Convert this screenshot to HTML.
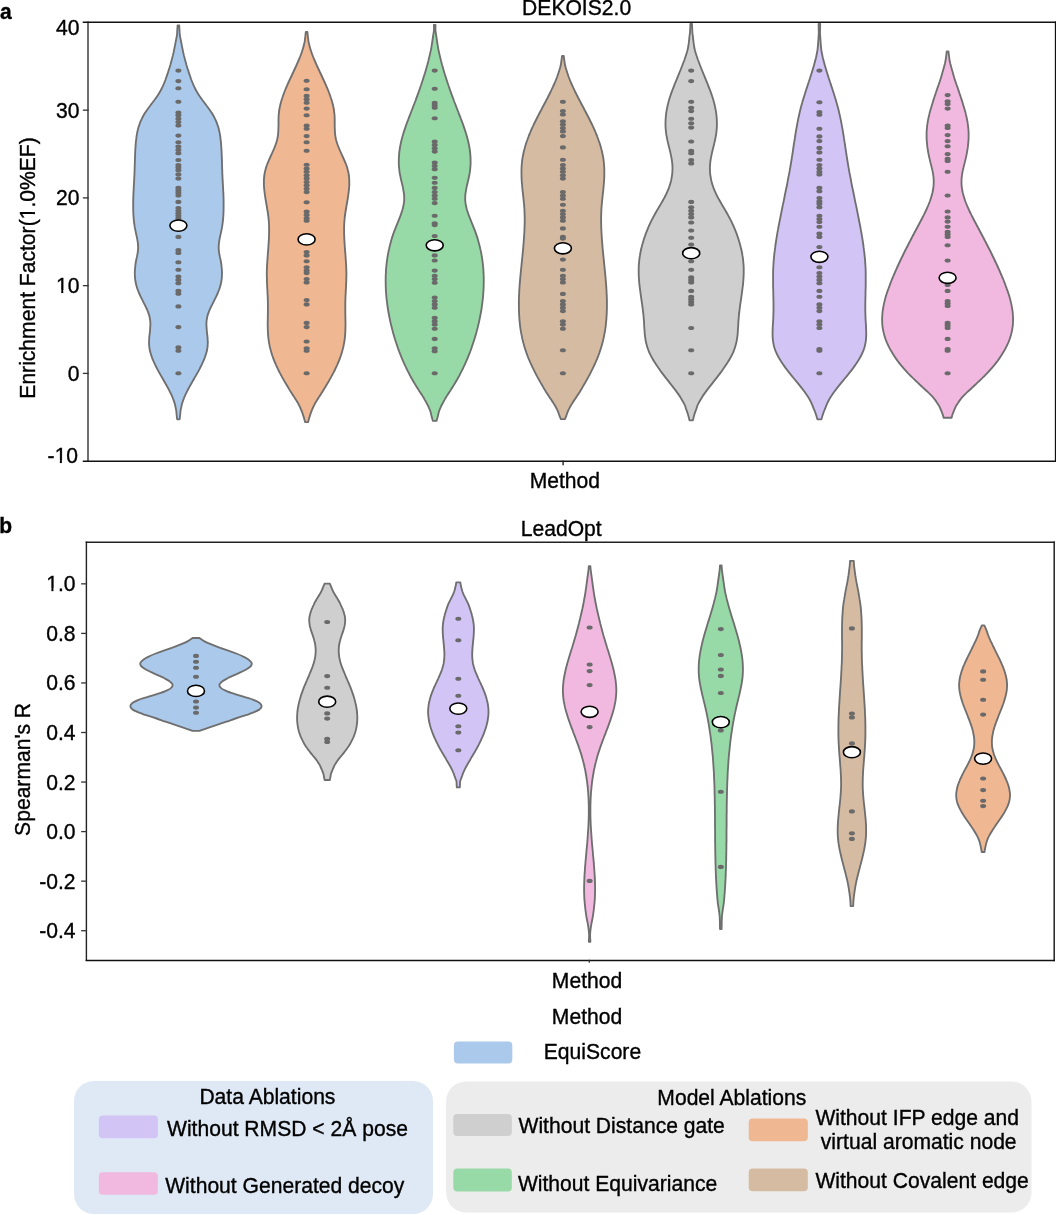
<!DOCTYPE html><html><head><meta charset="utf-8"><style>html,body{margin:0;padding:0;background:#fff;}body{width:1056px;height:1215px;overflow:hidden;}svg{display:block;}text{font-family:"Liberation Sans",sans-serif;fill:#000;stroke:#000;stroke-width:0.35px;}svg{will-change:transform;filter:blur(0.3px);}</style></head><body>
<svg width="1056" height="1215" viewBox="0 0 1056 1215">
<path d="M179.20,25.30 C179.2,25.8 179.3,27.3 179.4,28.3 C179.4,29.3 179.5,30.3 179.6,31.3 C179.6,32.3 179.6,33.3 179.7,34.3 C179.9,35.3 180.0,36.3 180.2,37.3 C180.4,38.3 180.6,39.3 180.8,40.3 C181.0,41.3 181.2,42.3 181.4,43.4 C181.6,44.4 181.8,45.4 182.0,46.4 C182.2,47.4 182.4,48.4 182.6,49.4 C182.8,50.4 183.0,51.4 183.2,52.4 C183.5,53.4 183.7,54.4 183.9,55.4 C184.2,56.4 184.4,57.4 184.7,58.4 C185.0,59.4 185.2,60.4 185.5,61.4 C185.8,62.4 186.1,63.4 186.3,64.4 C186.6,65.4 186.9,66.4 187.2,67.4 C187.5,68.4 187.8,69.4 188.2,70.4 C188.5,71.4 188.8,72.4 189.1,73.4 C189.5,74.4 189.8,75.4 190.2,76.4 C190.5,77.4 190.9,78.4 191.2,79.5 C191.6,80.5 192.0,81.5 192.4,82.5 C192.8,83.5 193.2,84.5 193.7,85.5 C194.1,86.5 194.6,87.5 195.1,88.5 C195.6,89.5 196.1,90.5 196.7,91.5 C197.3,92.5 197.9,93.5 198.5,94.5 C199.1,95.5 199.8,96.5 200.5,97.5 C201.2,98.5 202.0,99.5 202.7,100.5 C203.4,101.5 204.2,102.5 205.0,103.5 C205.7,104.5 206.5,105.5 207.2,106.5 C208.0,107.5 208.7,108.5 209.4,109.5 C210.1,110.5 210.8,111.5 211.5,112.5 C212.1,113.5 212.8,114.5 213.3,115.6 C213.9,116.6 214.4,117.6 214.9,118.6 C215.4,119.6 215.9,120.6 216.3,121.6 C216.7,122.6 217.1,123.6 217.4,124.6 C217.8,125.6 218.1,126.6 218.4,127.6 C218.7,128.6 218.9,129.6 219.1,130.6 C219.4,131.6 219.6,132.6 219.8,133.6 C219.9,134.6 220.1,135.6 220.3,136.6 C220.4,137.6 220.5,138.6 220.6,139.6 C220.8,140.6 220.9,141.6 221.0,142.6 C221.0,143.6 221.1,144.6 221.2,145.6 C221.3,146.6 221.3,147.6 221.4,148.6 C221.5,149.6 221.5,150.6 221.6,151.7 C221.6,152.7 221.7,153.7 221.7,154.7 C221.7,155.7 221.8,156.7 221.8,157.7 C221.9,158.7 221.9,159.7 221.9,160.7 C222.0,161.7 222.0,162.7 222.0,163.7 C222.0,164.7 222.1,165.7 222.1,166.7 C222.1,167.7 222.2,168.7 222.2,169.7 C222.2,170.7 222.3,171.7 222.3,172.7 C222.3,173.7 222.4,174.7 222.4,175.7 C222.5,176.7 222.5,177.7 222.6,178.7 C222.6,179.7 222.7,180.7 222.7,181.7 C222.8,182.7 222.8,183.7 222.9,184.7 C223.0,185.7 223.0,186.8 223.1,187.8 C223.1,188.8 223.2,189.8 223.2,190.8 C223.3,191.8 223.3,192.8 223.4,193.8 C223.4,194.8 223.4,195.8 223.5,196.8 C223.5,197.8 223.5,198.8 223.6,199.8 C223.6,200.8 223.6,201.8 223.6,202.8 C223.6,203.8 223.6,204.8 223.6,205.8 C223.6,206.8 223.6,207.8 223.6,208.8 C223.6,209.8 223.6,210.8 223.5,211.8 C223.5,212.8 223.4,213.8 223.4,214.8 C223.3,215.8 223.3,216.8 223.2,217.8 C223.1,218.8 223.0,219.8 222.9,220.8 C222.8,221.8 222.7,222.9 222.5,223.9 C222.4,224.9 222.2,225.9 222.1,226.9 C221.9,227.9 221.7,228.9 221.5,229.9 C221.3,230.9 221.1,231.9 220.9,232.9 C220.7,233.9 220.5,234.9 220.2,235.9 C220.0,236.9 219.8,237.9 219.6,238.9 C219.4,239.9 219.3,240.9 219.1,241.9 C219.0,242.9 218.8,243.9 218.8,244.9 C218.7,245.9 218.6,246.9 218.7,247.9 C218.7,248.9 218.7,249.9 218.9,250.9 C219.0,251.9 219.1,252.9 219.3,253.9 C219.5,254.9 219.7,255.9 219.9,256.9 C220.2,257.9 220.4,259.0 220.6,260.0 C220.8,261.0 221.0,262.0 221.1,263.0 C221.3,264.0 221.4,265.0 221.5,266.0 C221.6,267.0 221.7,268.0 221.8,269.0 C221.9,270.0 221.9,271.0 222.0,272.0 C222.0,273.0 222.0,274.0 221.9,275.0 C221.9,276.0 221.9,277.0 221.8,278.0 C221.7,279.0 221.5,280.0 221.4,281.0 C221.2,282.0 221.0,283.0 220.8,284.0 C220.6,285.0 220.3,286.0 220.0,287.0 C219.7,288.0 219.4,289.0 219.0,290.0 C218.6,291.0 218.2,292.0 217.8,293.0 C217.3,294.1 216.9,295.1 216.4,296.1 C215.9,297.1 215.4,298.1 214.9,299.1 C214.4,300.1 213.9,301.1 213.4,302.1 C212.9,303.1 212.4,304.1 211.9,305.1 C211.4,306.1 210.9,307.1 210.4,308.1 C210.0,309.1 209.5,310.1 209.1,311.1 C208.7,312.1 208.4,313.1 208.0,314.1 C207.7,315.1 207.4,316.1 207.2,317.1 C207.0,318.1 206.8,319.1 206.7,320.1 C206.5,321.1 206.5,322.1 206.4,323.1 C206.4,324.1 206.4,325.1 206.5,326.1 C206.5,327.1 206.6,328.1 206.7,329.1 C206.7,330.2 206.8,331.2 206.9,332.2 C207.0,333.2 207.2,334.2 207.3,335.2 C207.4,336.2 207.5,337.2 207.6,338.2 C207.6,339.2 207.7,340.2 207.7,341.2 C207.8,342.2 207.8,343.2 207.7,344.2 C207.7,345.2 207.6,346.2 207.5,347.2 C207.3,348.2 207.2,349.2 207.0,350.2 C206.8,351.2 206.5,352.2 206.2,353.2 C205.9,354.2 205.6,355.2 205.3,356.2 C204.9,357.2 204.6,358.2 204.2,359.2 C203.8,360.2 203.3,361.2 202.9,362.2 C202.4,363.2 201.9,364.2 201.5,365.2 C201.0,366.3 200.5,367.3 199.9,368.3 C199.4,369.3 198.9,370.3 198.3,371.3 C197.8,372.3 197.2,373.3 196.6,374.3 C196.1,375.3 195.5,376.3 194.9,377.3 C194.3,378.3 193.8,379.3 193.2,380.3 C192.6,381.3 192.0,382.3 191.5,383.3 C190.9,384.3 190.3,385.3 189.8,386.3 C189.2,387.3 188.7,388.3 188.1,389.3 C187.6,390.3 187.1,391.3 186.6,392.3 C186.1,393.3 185.6,394.3 185.1,395.3 C184.7,396.3 184.2,397.3 183.9,398.3 C183.5,399.3 183.1,400.3 182.8,401.3 C182.5,402.4 182.1,403.4 181.8,404.4 C181.6,405.4 181.5,406.4 181.2,407.4 C181.0,408.4 180.8,409.4 180.6,410.4 C180.4,411.4 180.4,412.4 180.3,413.4 C180.2,414.4 180.1,415.4 180.0,416.4 C179.9,417.4 179.7,418.9 179.6,419.4 L177.20,419.40 C177.1,418.9 176.9,417.4 176.8,416.4 C176.7,415.4 176.6,414.4 176.5,413.4 C176.4,412.4 176.4,411.4 176.2,410.4 C176.0,409.4 175.8,408.4 175.6,407.4 C175.3,406.4 175.2,405.4 175.0,404.4 C174.7,403.4 174.3,402.4 174.0,401.3 C173.7,400.3 173.3,399.3 172.9,398.3 C172.6,397.3 172.1,396.3 171.7,395.3 C171.2,394.3 170.7,393.3 170.2,392.3 C169.7,391.3 169.2,390.3 168.7,389.3 C168.1,388.3 167.6,387.3 167.0,386.3 C166.5,385.3 165.9,384.3 165.3,383.3 C164.8,382.3 164.2,381.3 163.6,380.3 C163.0,379.3 162.5,378.3 161.9,377.3 C161.3,376.3 160.7,375.3 160.2,374.3 C159.6,373.3 159.0,372.3 158.5,371.3 C157.9,370.3 157.4,369.3 156.9,368.3 C156.3,367.3 155.8,366.3 155.3,365.2 C154.9,364.2 154.4,363.2 153.9,362.2 C153.5,361.2 153.0,360.2 152.6,359.2 C152.2,358.2 151.9,357.2 151.5,356.2 C151.2,355.2 150.9,354.2 150.6,353.2 C150.3,352.2 150.0,351.2 149.8,350.2 C149.6,349.2 149.5,348.2 149.3,347.2 C149.2,346.2 149.1,345.2 149.1,344.2 C149.0,343.2 149.0,342.2 149.1,341.2 C149.1,340.2 149.2,339.2 149.2,338.2 C149.3,337.2 149.4,336.2 149.5,335.2 C149.6,334.2 149.8,333.2 149.9,332.2 C150.0,331.2 150.1,330.2 150.1,329.1 C150.2,328.1 150.3,327.1 150.3,326.1 C150.4,325.1 150.4,324.1 150.4,323.1 C150.3,322.1 150.3,321.1 150.1,320.1 C150.0,319.1 149.8,318.1 149.6,317.1 C149.4,316.1 149.1,315.1 148.8,314.1 C148.4,313.1 148.1,312.1 147.7,311.1 C147.3,310.1 146.8,309.1 146.4,308.1 C145.9,307.1 145.4,306.1 144.9,305.1 C144.4,304.1 143.9,303.1 143.4,302.1 C142.9,301.1 142.4,300.1 141.9,299.1 C141.4,298.1 140.9,297.1 140.4,296.1 C139.9,295.1 139.5,294.1 139.0,293.0 C138.6,292.0 138.2,291.0 137.8,290.0 C137.4,289.0 137.1,288.0 136.8,287.0 C136.5,286.0 136.2,285.0 136.0,284.0 C135.8,283.0 135.6,282.0 135.4,281.0 C135.3,280.0 135.1,279.0 135.0,278.0 C134.9,277.0 134.9,276.0 134.9,275.0 C134.8,274.0 134.8,273.0 134.8,272.0 C134.9,271.0 134.9,270.0 135.0,269.0 C135.1,268.0 135.2,267.0 135.3,266.0 C135.4,265.0 135.5,264.0 135.7,263.0 C135.8,262.0 136.0,261.0 136.2,260.0 C136.4,259.0 136.6,257.9 136.9,256.9 C137.1,255.9 137.3,254.9 137.5,253.9 C137.7,252.9 137.8,251.9 137.9,250.9 C138.1,249.9 138.1,248.9 138.1,247.9 C138.2,246.9 138.1,245.9 138.0,244.9 C138.0,243.9 137.8,242.9 137.7,241.9 C137.5,240.9 137.4,239.9 137.2,238.9 C137.0,237.9 136.8,236.9 136.6,235.9 C136.3,234.9 136.1,233.9 135.9,232.9 C135.7,231.9 135.5,230.9 135.3,229.9 C135.1,228.9 134.9,227.9 134.7,226.9 C134.6,225.9 134.4,224.9 134.3,223.9 C134.1,222.9 134.0,221.8 133.9,220.8 C133.8,219.8 133.7,218.8 133.6,217.8 C133.5,216.8 133.5,215.8 133.4,214.8 C133.4,213.8 133.3,212.8 133.3,211.8 C133.2,210.8 133.2,209.8 133.2,208.8 C133.2,207.8 133.2,206.8 133.2,205.8 C133.2,204.8 133.2,203.8 133.2,202.8 C133.2,201.8 133.2,200.8 133.2,199.8 C133.3,198.8 133.3,197.8 133.3,196.8 C133.4,195.8 133.4,194.8 133.4,193.8 C133.5,192.8 133.5,191.8 133.6,190.8 C133.6,189.8 133.7,188.8 133.7,187.8 C133.8,186.8 133.8,185.7 133.9,184.7 C134.0,183.7 134.0,182.7 134.1,181.7 C134.1,180.7 134.2,179.7 134.2,178.7 C134.3,177.7 134.3,176.7 134.4,175.7 C134.4,174.7 134.5,173.7 134.5,172.7 C134.5,171.7 134.6,170.7 134.6,169.7 C134.6,168.7 134.7,167.7 134.7,166.7 C134.7,165.7 134.8,164.7 134.8,163.7 C134.8,162.7 134.8,161.7 134.9,160.7 C134.9,159.7 134.9,158.7 135.0,157.7 C135.0,156.7 135.1,155.7 135.1,154.7 C135.1,153.7 135.2,152.7 135.2,151.7 C135.3,150.6 135.3,149.6 135.4,148.6 C135.5,147.6 135.5,146.6 135.6,145.6 C135.7,144.6 135.8,143.6 135.8,142.6 C135.9,141.6 136.0,140.6 136.2,139.6 C136.3,138.6 136.4,137.6 136.5,136.6 C136.7,135.6 136.9,134.6 137.0,133.6 C137.2,132.6 137.4,131.6 137.7,130.6 C137.9,129.6 138.1,128.6 138.4,127.6 C138.7,126.6 139.0,125.6 139.4,124.6 C139.7,123.6 140.1,122.6 140.5,121.6 C140.9,120.6 141.4,119.6 141.9,118.6 C142.4,117.6 142.9,116.6 143.5,115.6 C144.0,114.5 144.7,113.5 145.3,112.5 C146.0,111.5 146.7,110.5 147.4,109.5 C148.1,108.5 148.8,107.5 149.6,106.5 C150.3,105.5 151.1,104.5 151.8,103.5 C152.6,102.5 153.4,101.5 154.1,100.5 C154.8,99.5 155.6,98.5 156.3,97.5 C157.0,96.5 157.7,95.5 158.3,94.5 C158.9,93.5 159.5,92.5 160.1,91.5 C160.7,90.5 161.2,89.5 161.7,88.5 C162.2,87.5 162.7,86.5 163.1,85.5 C163.6,84.5 164.0,83.5 164.4,82.5 C164.8,81.5 165.2,80.5 165.6,79.5 C165.9,78.4 166.3,77.4 166.6,76.4 C167.0,75.4 167.3,74.4 167.7,73.4 C168.0,72.4 168.3,71.4 168.6,70.4 C169.0,69.4 169.3,68.4 169.6,67.4 C169.9,66.4 170.2,65.4 170.5,64.4 C170.7,63.4 171.0,62.4 171.3,61.4 C171.6,60.4 171.8,59.4 172.1,58.4 C172.4,57.4 172.6,56.4 172.9,55.4 C173.1,54.4 173.3,53.4 173.6,52.4 C173.8,51.4 174.0,50.4 174.2,49.4 C174.4,48.4 174.6,47.4 174.8,46.4 C175.0,45.4 175.2,44.4 175.4,43.4 C175.6,42.3 175.8,41.3 176.0,40.3 C176.2,39.3 176.4,38.3 176.6,37.3 C176.8,36.3 176.9,35.3 177.1,34.3 C177.2,33.3 177.2,32.3 177.2,31.3 C177.3,30.3 177.4,29.3 177.4,28.3 C177.5,27.3 177.6,25.8 177.6,25.3 Z" fill="#abc9ea" stroke="#6f6f6f" stroke-width="1.85" stroke-linejoin="round"/>
<ellipse cx="178.4" cy="70.6" rx="3.0" ry="2.05" fill="#6a6a6a"/>
<ellipse cx="178.4" cy="81.1" rx="3.0" ry="2.05" fill="#6a6a6a"/>
<ellipse cx="178.4" cy="88.3" rx="3.0" ry="2.05" fill="#6a6a6a"/>
<ellipse cx="178.4" cy="101.8" rx="3.0" ry="2.05" fill="#6a6a6a"/>
<ellipse cx="178.4" cy="112.5" rx="3.0" ry="2.05" fill="#6a6a6a"/>
<ellipse cx="178.4" cy="115.3" rx="3.0" ry="2.05" fill="#6a6a6a"/>
<ellipse cx="178.4" cy="118.7" rx="3.0" ry="2.05" fill="#6a6a6a"/>
<ellipse cx="178.4" cy="122.1" rx="3.0" ry="2.05" fill="#6a6a6a"/>
<ellipse cx="178.4" cy="125.5" rx="3.0" ry="2.05" fill="#6a6a6a"/>
<ellipse cx="178.4" cy="135.6" rx="3.0" ry="2.05" fill="#6a6a6a"/>
<ellipse cx="178.4" cy="142.3" rx="3.0" ry="2.05" fill="#6a6a6a"/>
<ellipse cx="178.4" cy="146.5" rx="3.0" ry="2.05" fill="#6a6a6a"/>
<ellipse cx="178.4" cy="149.9" rx="3.0" ry="2.05" fill="#6a6a6a"/>
<ellipse cx="178.4" cy="153.3" rx="3.0" ry="2.05" fill="#6a6a6a"/>
<ellipse cx="178.4" cy="160.0" rx="3.0" ry="2.05" fill="#6a6a6a"/>
<ellipse cx="178.4" cy="165.1" rx="3.0" ry="2.05" fill="#6a6a6a"/>
<ellipse cx="178.4" cy="167.6" rx="3.0" ry="2.05" fill="#6a6a6a"/>
<ellipse cx="178.4" cy="170.2" rx="3.0" ry="2.05" fill="#6a6a6a"/>
<ellipse cx="178.4" cy="174.4" rx="3.0" ry="2.05" fill="#6a6a6a"/>
<ellipse cx="178.4" cy="178.6" rx="3.0" ry="2.05" fill="#6a6a6a"/>
<ellipse cx="178.4" cy="187.9" rx="3.0" ry="2.05" fill="#6a6a6a"/>
<ellipse cx="178.4" cy="190.4" rx="3.0" ry="2.05" fill="#6a6a6a"/>
<ellipse cx="178.4" cy="192.9" rx="3.0" ry="2.05" fill="#6a6a6a"/>
<ellipse cx="178.4" cy="195.5" rx="3.0" ry="2.05" fill="#6a6a6a"/>
<ellipse cx="178.4" cy="201.9" rx="3.0" ry="2.05" fill="#6a6a6a"/>
<ellipse cx="178.4" cy="208.1" rx="3.0" ry="2.05" fill="#6a6a6a"/>
<ellipse cx="178.4" cy="210.7" rx="3.0" ry="2.05" fill="#6a6a6a"/>
<ellipse cx="178.4" cy="213.2" rx="3.0" ry="2.05" fill="#6a6a6a"/>
<ellipse cx="178.4" cy="215.7" rx="3.0" ry="2.05" fill="#6a6a6a"/>
<ellipse cx="178.4" cy="218.2" rx="3.0" ry="2.05" fill="#6a6a6a"/>
<ellipse cx="178.4" cy="221.0" rx="3.0" ry="2.05" fill="#6a6a6a"/>
<ellipse cx="178.4" cy="236.9" rx="3.0" ry="2.05" fill="#6a6a6a"/>
<ellipse cx="178.4" cy="250.0" rx="3.0" ry="2.05" fill="#6a6a6a"/>
<ellipse cx="178.4" cy="252.9" rx="3.0" ry="2.05" fill="#6a6a6a"/>
<ellipse cx="178.4" cy="262.2" rx="3.0" ry="2.05" fill="#6a6a6a"/>
<ellipse cx="178.4" cy="269.8" rx="3.0" ry="2.05" fill="#6a6a6a"/>
<ellipse cx="178.4" cy="276.5" rx="3.0" ry="2.05" fill="#6a6a6a"/>
<ellipse cx="178.4" cy="279.9" rx="3.0" ry="2.05" fill="#6a6a6a"/>
<ellipse cx="178.4" cy="283.3" rx="3.0" ry="2.05" fill="#6a6a6a"/>
<ellipse cx="178.4" cy="290.9" rx="3.0" ry="2.05" fill="#6a6a6a"/>
<ellipse cx="178.4" cy="293.7" rx="3.0" ry="2.05" fill="#6a6a6a"/>
<ellipse cx="178.4" cy="306.4" rx="3.0" ry="2.05" fill="#6a6a6a"/>
<ellipse cx="178.4" cy="327.1" rx="3.0" ry="2.05" fill="#6a6a6a"/>
<ellipse cx="178.4" cy="347.4" rx="3.0" ry="2.05" fill="#6a6a6a"/>
<ellipse cx="178.4" cy="350.8" rx="3.0" ry="2.05" fill="#6a6a6a"/>
<ellipse cx="178.4" cy="373.2" rx="3.0" ry="2.05" fill="#6a6a6a"/>
<ellipse cx="178.4" cy="225.6" rx="8.5" ry="5.6" fill="#fff" stroke="#000" stroke-width="1.6"/>
<path d="M307.40,32.00 C307.5,32.5 307.6,34.0 307.7,35.0 C307.8,36.0 307.9,37.0 308.1,38.0 C308.2,39.0 308.2,40.0 308.4,41.0 C308.5,42.0 308.8,43.0 309.1,44.0 C309.3,45.0 309.5,46.0 309.8,47.0 C310.1,48.0 310.4,49.0 310.7,50.0 C311.0,51.0 311.3,52.0 311.7,53.0 C312.0,54.0 312.4,55.0 312.8,56.0 C313.2,57.0 313.6,58.0 314.0,59.0 C314.5,60.0 314.9,61.0 315.3,62.0 C315.8,63.0 316.2,64.0 316.6,65.0 C317.1,66.0 317.6,67.0 318.0,68.0 C318.5,69.0 318.9,70.0 319.4,71.0 C319.9,72.0 320.3,73.0 320.8,74.0 C321.3,75.0 321.7,76.0 322.2,77.0 C322.7,78.0 323.1,79.0 323.6,80.0 C324.1,81.0 324.5,82.0 325.0,83.0 C325.4,84.0 325.9,85.0 326.3,86.0 C326.7,87.0 327.2,88.0 327.6,89.0 C328.0,90.0 328.4,91.0 328.8,92.0 C329.2,93.0 329.5,94.0 329.9,95.0 C330.3,96.0 330.6,97.0 330.9,98.0 C331.3,99.0 331.6,100.0 331.9,101.0 C332.2,102.0 332.4,103.0 332.7,104.0 C332.9,105.0 333.2,106.0 333.4,107.0 C333.6,108.0 333.8,109.0 333.9,110.0 C334.1,111.0 334.2,112.0 334.3,113.0 C334.4,114.0 334.5,115.0 334.6,116.0 C334.6,117.0 334.6,118.0 334.7,119.0 C334.7,120.0 334.7,121.0 334.7,122.0 C334.7,123.0 334.7,124.0 334.7,125.0 C334.7,126.0 334.7,127.0 334.8,128.0 C334.8,129.0 334.8,130.0 334.9,131.0 C334.9,132.0 335.0,133.0 335.1,134.0 C335.2,135.0 335.3,136.0 335.5,137.0 C335.7,138.0 335.9,139.0 336.1,140.0 C336.4,141.0 336.7,142.0 337.0,143.0 C337.3,144.0 337.7,145.0 338.1,146.0 C338.4,147.0 338.9,148.0 339.3,149.0 C339.7,150.0 340.1,151.0 340.6,152.0 C341.0,153.0 341.5,154.0 342.0,155.0 C342.4,156.0 342.9,157.0 343.3,158.0 C343.8,159.0 344.2,160.0 344.6,161.0 C345.1,162.0 345.5,163.0 345.9,164.0 C346.3,165.0 346.6,166.0 347.0,167.0 C347.3,168.0 347.6,169.0 347.8,170.0 C348.1,171.0 348.3,172.0 348.5,173.0 C348.7,174.0 348.8,175.0 348.9,176.0 C349.1,177.0 349.2,178.0 349.2,179.0 C349.3,180.0 349.3,181.0 349.3,182.0 C349.3,183.0 349.3,184.0 349.3,185.0 C349.2,186.0 349.2,187.0 349.1,188.0 C349.0,189.0 348.9,190.0 348.8,191.0 C348.7,192.0 348.6,193.0 348.4,194.0 C348.3,195.0 348.2,196.0 348.0,197.0 C347.8,198.0 347.7,199.0 347.5,200.0 C347.3,201.0 347.2,202.0 347.0,203.0 C346.8,204.0 346.6,205.0 346.5,206.0 C346.3,207.0 346.1,208.0 346.0,209.0 C345.8,210.0 345.6,211.0 345.5,212.0 C345.3,213.0 345.2,214.0 345.1,215.0 C344.9,216.0 344.8,217.0 344.7,218.0 C344.6,219.0 344.5,220.0 344.4,221.0 C344.3,222.0 344.3,223.0 344.2,224.0 C344.2,225.0 344.2,226.0 344.1,227.1 C344.1,228.1 344.1,229.1 344.1,230.1 C344.1,231.1 344.1,232.1 344.1,233.1 C344.1,234.1 344.2,235.1 344.2,236.1 C344.2,237.1 344.3,238.1 344.3,239.1 C344.4,240.1 344.4,241.1 344.5,242.1 C344.6,243.1 344.6,244.1 344.7,245.1 C344.8,246.1 344.8,247.1 344.9,248.1 C345.0,249.1 345.1,250.1 345.1,251.1 C345.2,252.1 345.3,253.1 345.4,254.1 C345.4,255.1 345.5,256.1 345.6,257.1 C345.7,258.1 345.7,259.1 345.8,260.1 C345.9,261.1 345.9,262.1 346.0,263.1 C346.1,264.1 346.1,265.1 346.2,266.1 C346.2,267.1 346.2,268.1 346.3,269.1 C346.3,270.1 346.3,271.1 346.4,272.1 C346.4,273.1 346.4,274.1 346.4,275.1 C346.4,276.1 346.4,277.1 346.3,278.1 C346.3,279.1 346.3,280.1 346.3,281.1 C346.2,282.1 346.2,283.1 346.1,284.1 C346.1,285.1 346.1,286.1 346.0,287.1 C346.0,288.1 345.9,289.1 345.8,290.1 C345.8,291.1 345.7,292.1 345.7,293.1 C345.6,294.1 345.6,295.1 345.5,296.1 C345.5,297.1 345.5,298.1 345.4,299.1 C345.4,300.1 345.4,301.1 345.3,302.1 C345.3,303.1 345.3,304.1 345.3,305.1 C345.3,306.1 345.3,307.1 345.3,308.1 C345.3,309.1 345.3,310.1 345.3,311.1 C345.3,312.1 345.3,313.1 345.3,314.1 C345.4,315.1 345.4,316.1 345.4,317.1 C345.4,318.1 345.4,319.1 345.4,320.1 C345.5,321.1 345.5,322.1 345.5,323.1 C345.5,324.1 345.5,325.1 345.5,326.1 C345.4,327.1 345.4,328.1 345.4,329.1 C345.4,330.1 345.3,331.1 345.3,332.1 C345.2,333.1 345.2,334.1 345.1,335.1 C345.0,336.1 344.9,337.1 344.8,338.1 C344.7,339.1 344.6,340.1 344.4,341.1 C344.3,342.1 344.1,343.1 343.9,344.1 C343.7,345.1 343.5,346.1 343.3,347.1 C343.1,348.1 342.8,349.1 342.5,350.1 C342.3,351.1 342.0,352.1 341.7,353.1 C341.4,354.1 341.0,355.1 340.7,356.1 C340.3,357.1 340.0,358.1 339.6,359.1 C339.2,360.1 338.8,361.1 338.4,362.1 C338.0,363.1 337.5,364.1 337.1,365.1 C336.6,366.1 336.2,367.1 335.7,368.1 C335.2,369.1 334.8,370.1 334.3,371.1 C333.8,372.1 333.2,373.1 332.7,374.1 C332.2,375.1 331.6,376.1 331.1,377.1 C330.6,378.1 330.0,379.1 329.4,380.1 C328.9,381.1 328.3,382.1 327.7,383.1 C327.1,384.1 326.5,385.1 325.9,386.1 C325.3,387.1 324.7,388.1 324.1,389.1 C323.5,390.1 322.9,391.1 322.2,392.1 C321.6,393.1 321.0,394.1 320.3,395.1 C319.7,396.1 319.0,397.1 318.4,398.1 C317.8,399.1 317.1,400.1 316.5,401.1 C315.9,402.1 315.3,403.1 314.7,404.1 C314.2,405.1 313.7,406.1 313.2,407.1 C312.8,408.1 312.3,409.1 311.9,410.1 C311.5,411.1 311.1,412.1 310.8,413.1 C310.5,414.1 310.2,415.1 309.8,416.1 C309.5,417.1 309.2,418.1 308.9,419.1 C308.7,420.1 308.2,421.6 308.1,422.1 L305.10,422.10 C305.0,421.6 304.5,420.1 304.3,419.1 C304.0,418.1 303.7,417.1 303.4,416.1 C303.0,415.1 302.7,414.1 302.4,413.1 C302.1,412.1 301.7,411.1 301.3,410.1 C300.9,409.1 300.4,408.1 300.0,407.1 C299.5,406.1 299.0,405.1 298.5,404.1 C297.9,403.1 297.3,402.1 296.7,401.1 C296.1,400.1 295.4,399.1 294.8,398.1 C294.2,397.1 293.5,396.1 292.9,395.1 C292.2,394.1 291.6,393.1 291.0,392.1 C290.3,391.1 289.7,390.1 289.1,389.1 C288.5,388.1 287.9,387.1 287.3,386.1 C286.7,385.1 286.1,384.1 285.5,383.1 C284.9,382.1 284.3,381.1 283.8,380.1 C283.2,379.1 282.6,378.1 282.1,377.1 C281.6,376.1 281.0,375.1 280.5,374.1 C280.0,373.1 279.4,372.1 278.9,371.1 C278.4,370.1 278.0,369.1 277.5,368.1 C277.0,367.1 276.6,366.1 276.1,365.1 C275.7,364.1 275.2,363.1 274.8,362.1 C274.4,361.1 274.0,360.1 273.6,359.1 C273.2,358.1 272.9,357.1 272.5,356.1 C272.2,355.1 271.8,354.1 271.5,353.1 C271.2,352.1 270.9,351.1 270.7,350.1 C270.4,349.1 270.1,348.1 269.9,347.1 C269.7,346.1 269.5,345.1 269.3,344.1 C269.1,343.1 268.9,342.1 268.8,341.1 C268.6,340.1 268.5,339.1 268.4,338.1 C268.3,337.1 268.2,336.1 268.1,335.1 C268.0,334.1 268.0,333.1 267.9,332.1 C267.9,331.1 267.8,330.1 267.8,329.1 C267.8,328.1 267.8,327.1 267.7,326.1 C267.7,325.1 267.7,324.1 267.7,323.1 C267.7,322.1 267.7,321.1 267.8,320.1 C267.8,319.1 267.8,318.1 267.8,317.1 C267.8,316.1 267.8,315.1 267.9,314.1 C267.9,313.1 267.9,312.1 267.9,311.1 C267.9,310.1 267.9,309.1 267.9,308.1 C267.9,307.1 267.9,306.1 267.9,305.1 C267.9,304.1 267.9,303.1 267.9,302.1 C267.8,301.1 267.8,300.1 267.8,299.1 C267.7,298.1 267.7,297.1 267.7,296.1 C267.6,295.1 267.6,294.1 267.5,293.1 C267.5,292.1 267.4,291.1 267.4,290.1 C267.3,289.1 267.2,288.1 267.2,287.1 C267.1,286.1 267.1,285.1 267.1,284.1 C267.0,283.1 267.0,282.1 266.9,281.1 C266.9,280.1 266.9,279.1 266.9,278.1 C266.8,277.1 266.8,276.1 266.8,275.1 C266.8,274.1 266.8,273.1 266.8,272.1 C266.9,271.1 266.9,270.1 266.9,269.1 C267.0,268.1 267.0,267.1 267.0,266.1 C267.1,265.1 267.1,264.1 267.2,263.1 C267.3,262.1 267.3,261.1 267.4,260.1 C267.5,259.1 267.5,258.1 267.6,257.1 C267.7,256.1 267.8,255.1 267.8,254.1 C267.9,253.1 268.0,252.1 268.1,251.1 C268.1,250.1 268.2,249.1 268.3,248.1 C268.4,247.1 268.4,246.1 268.5,245.1 C268.6,244.1 268.6,243.1 268.7,242.1 C268.8,241.1 268.8,240.1 268.9,239.1 C268.9,238.1 269.0,237.1 269.0,236.1 C269.0,235.1 269.1,234.1 269.1,233.1 C269.1,232.1 269.1,231.1 269.1,230.1 C269.1,229.1 269.1,228.1 269.1,227.1 C269.0,226.0 269.0,225.0 269.0,224.0 C268.9,223.0 268.9,222.0 268.8,221.0 C268.7,220.0 268.6,219.0 268.5,218.0 C268.4,217.0 268.3,216.0 268.1,215.0 C268.0,214.0 267.9,213.0 267.7,212.0 C267.6,211.0 267.4,210.0 267.2,209.0 C267.1,208.0 266.9,207.0 266.7,206.0 C266.6,205.0 266.4,204.0 266.2,203.0 C266.0,202.0 265.9,201.0 265.7,200.0 C265.5,199.0 265.4,198.0 265.2,197.0 C265.0,196.0 264.9,195.0 264.8,194.0 C264.6,193.0 264.5,192.0 264.4,191.0 C264.3,190.0 264.2,189.0 264.1,188.0 C264.0,187.0 264.0,186.0 263.9,185.0 C263.9,184.0 263.9,183.0 263.9,182.0 C263.9,181.0 263.9,180.0 264.0,179.0 C264.0,178.0 264.1,177.0 264.3,176.0 C264.4,175.0 264.5,174.0 264.7,173.0 C264.9,172.0 265.1,171.0 265.4,170.0 C265.6,169.0 265.9,168.0 266.2,167.0 C266.6,166.0 266.9,165.0 267.3,164.0 C267.7,163.0 268.1,162.0 268.6,161.0 C269.0,160.0 269.4,159.0 269.9,158.0 C270.3,157.0 270.8,156.0 271.2,155.0 C271.7,154.0 272.2,153.0 272.6,152.0 C273.1,151.0 273.5,150.0 273.9,149.0 C274.3,148.0 274.8,147.0 275.1,146.0 C275.5,145.0 275.9,144.0 276.2,143.0 C276.5,142.0 276.8,141.0 277.1,140.0 C277.3,139.0 277.5,138.0 277.7,137.0 C277.9,136.0 278.0,135.0 278.1,134.0 C278.2,133.0 278.3,132.0 278.3,131.0 C278.4,130.0 278.4,129.0 278.4,128.0 C278.5,127.0 278.5,126.0 278.5,125.0 C278.5,124.0 278.5,123.0 278.5,122.0 C278.5,121.0 278.5,120.0 278.5,119.0 C278.6,118.0 278.6,117.0 278.6,116.0 C278.7,115.0 278.8,114.0 278.9,113.0 C279.0,112.0 279.1,111.0 279.3,110.0 C279.4,109.0 279.6,108.0 279.8,107.0 C280.0,106.0 280.3,105.0 280.5,104.0 C280.8,103.0 281.0,102.0 281.3,101.0 C281.6,100.0 281.9,99.0 282.3,98.0 C282.6,97.0 282.9,96.0 283.3,95.0 C283.7,94.0 284.0,93.0 284.4,92.0 C284.8,91.0 285.2,90.0 285.6,89.0 C286.0,88.0 286.5,87.0 286.9,86.0 C287.3,85.0 287.8,84.0 288.2,83.0 C288.7,82.0 289.1,81.0 289.6,80.0 C290.1,79.0 290.5,78.0 291.0,77.0 C291.5,76.0 291.9,75.0 292.4,74.0 C292.9,73.0 293.3,72.0 293.8,71.0 C294.3,70.0 294.7,69.0 295.2,68.0 C295.6,67.0 296.1,66.0 296.6,65.0 C297.0,64.0 297.4,63.0 297.9,62.0 C298.3,61.0 298.7,60.0 299.2,59.0 C299.6,58.0 300.0,57.0 300.4,56.0 C300.8,55.0 301.2,54.0 301.5,53.0 C301.9,52.0 302.2,51.0 302.5,50.0 C302.8,49.0 303.1,48.0 303.4,47.0 C303.7,46.0 303.9,45.0 304.1,44.0 C304.4,43.0 304.7,42.0 304.8,41.0 C305.0,40.0 305.0,39.0 305.1,38.0 C305.3,37.0 305.4,36.0 305.5,35.0 C305.6,34.0 305.7,32.5 305.8,32.0 Z" fill="#efb792" stroke="#6f6f6f" stroke-width="1.85" stroke-linejoin="round"/>
<ellipse cx="306.6" cy="80.7" rx="3.0" ry="2.05" fill="#6a6a6a"/>
<ellipse cx="306.6" cy="89.2" rx="3.0" ry="2.05" fill="#6a6a6a"/>
<ellipse cx="306.6" cy="95.9" rx="3.0" ry="2.05" fill="#6a6a6a"/>
<ellipse cx="306.6" cy="99.3" rx="3.0" ry="2.05" fill="#6a6a6a"/>
<ellipse cx="306.6" cy="102.7" rx="3.0" ry="2.05" fill="#6a6a6a"/>
<ellipse cx="306.6" cy="108.6" rx="3.0" ry="2.05" fill="#6a6a6a"/>
<ellipse cx="306.6" cy="115.3" rx="3.0" ry="2.05" fill="#6a6a6a"/>
<ellipse cx="306.6" cy="125.5" rx="3.0" ry="2.05" fill="#6a6a6a"/>
<ellipse cx="306.6" cy="128.8" rx="3.0" ry="2.05" fill="#6a6a6a"/>
<ellipse cx="306.6" cy="136.1" rx="3.0" ry="2.05" fill="#6a6a6a"/>
<ellipse cx="306.6" cy="142.3" rx="3.0" ry="2.05" fill="#6a6a6a"/>
<ellipse cx="306.6" cy="150.8" rx="3.0" ry="2.05" fill="#6a6a6a"/>
<ellipse cx="306.6" cy="164.8" rx="3.0" ry="2.05" fill="#6a6a6a"/>
<ellipse cx="306.6" cy="168.5" rx="3.0" ry="2.05" fill="#6a6a6a"/>
<ellipse cx="306.6" cy="171.8" rx="3.0" ry="2.05" fill="#6a6a6a"/>
<ellipse cx="306.6" cy="175.2" rx="3.0" ry="2.05" fill="#6a6a6a"/>
<ellipse cx="306.6" cy="178.6" rx="3.0" ry="2.05" fill="#6a6a6a"/>
<ellipse cx="306.6" cy="182.0" rx="3.0" ry="2.05" fill="#6a6a6a"/>
<ellipse cx="306.6" cy="185.3" rx="3.0" ry="2.05" fill="#6a6a6a"/>
<ellipse cx="306.6" cy="188.7" rx="3.0" ry="2.05" fill="#6a6a6a"/>
<ellipse cx="306.6" cy="192.1" rx="3.0" ry="2.05" fill="#6a6a6a"/>
<ellipse cx="306.6" cy="202.2" rx="3.0" ry="2.05" fill="#6a6a6a"/>
<ellipse cx="306.6" cy="211.5" rx="3.0" ry="2.05" fill="#6a6a6a"/>
<ellipse cx="306.6" cy="214.9" rx="3.0" ry="2.05" fill="#6a6a6a"/>
<ellipse cx="306.6" cy="218.3" rx="3.0" ry="2.05" fill="#6a6a6a"/>
<ellipse cx="306.6" cy="220.8" rx="3.0" ry="2.05" fill="#6a6a6a"/>
<ellipse cx="306.6" cy="252.1" rx="3.0" ry="2.05" fill="#6a6a6a"/>
<ellipse cx="306.6" cy="255.4" rx="3.0" ry="2.05" fill="#6a6a6a"/>
<ellipse cx="306.6" cy="261.3" rx="3.0" ry="2.05" fill="#6a6a6a"/>
<ellipse cx="306.6" cy="267.2" rx="3.0" ry="2.05" fill="#6a6a6a"/>
<ellipse cx="306.6" cy="270.6" rx="3.0" ry="2.05" fill="#6a6a6a"/>
<ellipse cx="306.6" cy="273.1" rx="3.0" ry="2.05" fill="#6a6a6a"/>
<ellipse cx="306.6" cy="279.1" rx="3.0" ry="2.05" fill="#6a6a6a"/>
<ellipse cx="306.6" cy="282.4" rx="3.0" ry="2.05" fill="#6a6a6a"/>
<ellipse cx="306.6" cy="300.1" rx="3.0" ry="2.05" fill="#6a6a6a"/>
<ellipse cx="306.6" cy="304.4" rx="3.0" ry="2.05" fill="#6a6a6a"/>
<ellipse cx="306.6" cy="322.9" rx="3.0" ry="2.05" fill="#6a6a6a"/>
<ellipse cx="306.6" cy="327.1" rx="3.0" ry="2.05" fill="#6a6a6a"/>
<ellipse cx="306.6" cy="341.5" rx="3.0" ry="2.05" fill="#6a6a6a"/>
<ellipse cx="306.6" cy="348.2" rx="3.0" ry="2.05" fill="#6a6a6a"/>
<ellipse cx="306.6" cy="350.8" rx="3.0" ry="2.05" fill="#6a6a6a"/>
<ellipse cx="306.6" cy="373.2" rx="3.0" ry="2.05" fill="#6a6a6a"/>
<ellipse cx="306.6" cy="239.4" rx="8.5" ry="5.6" fill="#fff" stroke="#000" stroke-width="1.6"/>
<path d="M435.50,24.90 C435.5,25.4 435.4,26.9 435.4,27.9 C435.4,28.9 435.4,29.9 435.5,30.9 C435.6,32.0 435.8,33.0 436.0,34.0 C436.1,35.0 436.3,36.0 436.4,37.0 C436.6,38.0 436.7,39.0 436.9,40.0 C437.0,41.0 437.2,42.0 437.3,43.0 C437.5,44.0 437.6,45.0 437.8,46.1 C438.0,47.1 438.1,48.1 438.3,49.1 C438.5,50.1 438.7,51.1 439.0,52.1 C439.2,53.1 439.4,54.1 439.6,55.1 C439.9,56.1 440.1,57.1 440.4,58.1 C440.6,59.2 440.9,60.2 441.1,61.2 C441.4,62.2 441.7,63.2 441.9,64.2 C442.2,65.2 442.5,66.2 442.8,67.2 C443.0,68.2 443.3,69.2 443.6,70.2 C443.9,71.2 444.2,72.2 444.5,73.3 C444.8,74.3 445.1,75.3 445.5,76.3 C445.8,77.3 446.1,78.3 446.4,79.3 C446.7,80.3 447.1,81.3 447.4,82.3 C447.7,83.3 448.1,84.3 448.4,85.3 C448.8,86.4 449.1,87.4 449.5,88.4 C449.8,89.4 450.2,90.4 450.5,91.4 C450.9,92.4 451.2,93.4 451.6,94.4 C452.0,95.4 452.3,96.4 452.7,97.4 C453.1,98.4 453.5,99.4 453.8,100.5 C454.2,101.5 454.6,102.5 455.0,103.5 C455.4,104.5 455.8,105.5 456.2,106.5 C456.5,107.5 456.9,108.5 457.3,109.5 C457.7,110.5 458.1,111.5 458.5,112.5 C458.9,113.5 459.3,114.6 459.7,115.6 C460.1,116.6 460.5,117.6 460.8,118.6 C461.2,119.6 461.6,120.6 462.0,121.6 C462.3,122.6 462.7,123.6 463.1,124.6 C463.4,125.6 463.8,126.6 464.1,127.7 C464.5,128.7 464.8,129.7 465.1,130.7 C465.5,131.7 465.8,132.7 466.1,133.7 C466.4,134.7 466.7,135.7 467.0,136.7 C467.2,137.7 467.5,138.7 467.8,139.7 C468.0,140.7 468.3,141.8 468.5,142.8 C468.7,143.8 468.9,144.8 469.1,145.8 C469.3,146.8 469.5,147.8 469.6,148.8 C469.8,149.8 469.9,150.8 470.0,151.8 C470.2,152.8 470.3,153.8 470.3,154.9 C470.4,155.9 470.5,156.9 470.5,157.9 C470.6,158.9 470.6,159.9 470.6,160.9 C470.6,161.9 470.6,162.9 470.6,163.9 C470.5,164.9 470.5,165.9 470.4,166.9 C470.3,167.9 470.2,169.0 470.1,170.0 C470.0,171.0 469.9,172.0 469.7,173.0 C469.5,174.0 469.3,175.0 469.1,176.0 C468.9,177.0 468.7,178.0 468.5,179.0 C468.3,180.0 468.0,181.0 467.8,182.1 C467.5,183.1 467.3,184.1 467.1,185.1 C466.8,186.1 466.6,187.1 466.4,188.1 C466.2,189.1 466.0,190.1 465.9,191.1 C465.7,192.1 465.5,193.1 465.4,194.1 C465.3,195.1 465.2,196.2 465.2,197.2 C465.2,198.2 465.2,199.2 465.2,200.2 C465.3,201.2 465.4,202.2 465.5,203.2 C465.7,204.2 465.9,205.2 466.1,206.2 C466.3,207.2 466.5,208.2 466.8,209.3 C467.1,210.3 467.4,211.3 467.8,212.3 C468.1,213.3 468.4,214.3 468.8,215.3 C469.2,216.3 469.6,217.3 470.0,218.3 C470.4,219.3 470.8,220.3 471.2,221.3 C471.6,222.3 472.0,223.4 472.4,224.4 C472.8,225.4 473.2,226.4 473.6,227.4 C474.0,228.4 474.4,229.4 474.8,230.4 C475.2,231.4 475.6,232.4 475.9,233.4 C476.3,234.4 476.6,235.4 476.9,236.4 C477.3,237.5 477.6,238.5 477.9,239.5 C478.2,240.5 478.5,241.5 478.7,242.5 C479.0,243.5 479.3,244.5 479.5,245.5 C479.8,246.5 480.0,247.5 480.2,248.5 C480.5,249.5 480.7,250.6 480.9,251.6 C481.1,252.6 481.3,253.6 481.5,254.6 C481.6,255.6 481.8,256.6 482.0,257.6 C482.1,258.6 482.3,259.6 482.4,260.6 C482.6,261.6 482.7,262.6 482.8,263.6 C482.9,264.7 483.0,265.7 483.1,266.7 C483.2,267.7 483.3,268.7 483.4,269.7 C483.4,270.7 483.5,271.7 483.5,272.7 C483.6,273.7 483.6,274.7 483.7,275.7 C483.7,276.7 483.7,277.8 483.7,278.8 C483.8,279.8 483.8,280.8 483.7,281.8 C483.7,282.8 483.7,283.8 483.7,284.8 C483.7,285.8 483.6,286.8 483.6,287.8 C483.6,288.8 483.5,289.8 483.5,290.8 C483.4,291.9 483.3,292.9 483.2,293.9 C483.2,294.9 483.1,295.9 483.0,296.9 C482.9,297.9 482.8,298.9 482.7,299.9 C482.6,300.9 482.5,301.9 482.3,302.9 C482.2,303.9 482.1,305.0 481.9,306.0 C481.8,307.0 481.6,308.0 481.5,309.0 C481.3,310.0 481.2,311.0 481.0,312.0 C480.8,313.0 480.6,314.0 480.4,315.0 C480.2,316.0 480.1,317.0 479.8,318.0 C479.6,319.1 479.4,320.1 479.2,321.1 C479.0,322.1 478.8,323.1 478.5,324.1 C478.3,325.1 478.0,326.1 477.8,327.1 C477.5,328.1 477.3,329.1 477.0,330.1 C476.7,331.1 476.5,332.2 476.2,333.2 C475.9,334.2 475.6,335.2 475.3,336.2 C475.0,337.2 474.7,338.2 474.4,339.2 C474.1,340.2 473.8,341.2 473.4,342.2 C473.1,343.2 472.8,344.2 472.4,345.2 C472.1,346.3 471.7,347.3 471.4,348.3 C471.0,349.3 470.6,350.3 470.3,351.3 C469.9,352.3 469.5,353.3 469.1,354.3 C468.7,355.3 468.3,356.3 467.9,357.3 C467.5,358.3 467.1,359.3 466.6,360.4 C466.2,361.4 465.8,362.4 465.3,363.4 C464.9,364.4 464.4,365.4 463.9,366.4 C463.4,367.4 463.0,368.4 462.5,369.4 C462.0,370.4 461.5,371.4 460.9,372.4 C460.4,373.5 459.9,374.5 459.4,375.5 C458.8,376.5 458.3,377.5 457.7,378.5 C457.1,379.5 456.6,380.5 456.0,381.5 C455.4,382.5 454.8,383.5 454.2,384.5 C453.5,385.5 452.9,386.5 452.3,387.6 C451.7,388.6 451.0,389.6 450.4,390.6 C449.7,391.6 449.1,392.6 448.4,393.6 C447.8,394.6 447.1,395.6 446.5,396.6 C445.9,397.6 445.2,398.6 444.7,399.6 C444.1,400.7 443.5,401.7 443.0,402.7 C442.4,403.7 441.9,404.7 441.4,405.7 C441.0,406.7 440.5,407.7 440.1,408.7 C439.7,409.7 439.2,410.7 438.9,411.7 C438.6,412.7 438.4,413.7 438.2,414.8 C437.9,415.8 437.7,416.8 437.4,417.8 C437.1,418.8 436.7,420.3 436.5,420.8 L432.90,420.80 C432.7,420.3 432.3,418.8 432.0,417.8 C431.7,416.8 431.5,415.8 431.2,414.8 C431.0,413.7 430.8,412.7 430.5,411.7 C430.2,410.7 429.7,409.7 429.3,408.7 C428.9,407.7 428.4,406.7 428.0,405.7 C427.5,404.7 427.0,403.7 426.4,402.7 C425.9,401.7 425.3,400.7 424.7,399.6 C424.2,398.6 423.5,397.6 422.9,396.6 C422.3,395.6 421.6,394.6 421.0,393.6 C420.3,392.6 419.7,391.6 419.0,390.6 C418.4,389.6 417.7,388.6 417.1,387.6 C416.5,386.5 415.9,385.5 415.2,384.5 C414.6,383.5 414.0,382.5 413.4,381.5 C412.8,380.5 412.3,379.5 411.7,378.5 C411.1,377.5 410.6,376.5 410.0,375.5 C409.5,374.5 409.0,373.5 408.5,372.4 C407.9,371.4 407.4,370.4 406.9,369.4 C406.4,368.4 406.0,367.4 405.5,366.4 C405.0,365.4 404.5,364.4 404.1,363.4 C403.6,362.4 403.2,361.4 402.8,360.4 C402.3,359.3 401.9,358.3 401.5,357.3 C401.1,356.3 400.7,355.3 400.3,354.3 C399.9,353.3 399.5,352.3 399.1,351.3 C398.8,350.3 398.4,349.3 398.0,348.3 C397.7,347.3 397.3,346.3 397.0,345.2 C396.6,344.2 396.3,343.2 396.0,342.2 C395.6,341.2 395.3,340.2 395.0,339.2 C394.7,338.2 394.4,337.2 394.1,336.2 C393.8,335.2 393.5,334.2 393.2,333.2 C392.9,332.2 392.7,331.1 392.4,330.1 C392.1,329.1 391.9,328.1 391.6,327.1 C391.4,326.1 391.1,325.1 390.9,324.1 C390.6,323.1 390.4,322.1 390.2,321.1 C390.0,320.1 389.8,319.1 389.6,318.0 C389.3,317.0 389.2,316.0 389.0,315.0 C388.8,314.0 388.6,313.0 388.4,312.0 C388.2,311.0 388.1,310.0 387.9,309.0 C387.8,308.0 387.6,307.0 387.5,306.0 C387.3,305.0 387.2,303.9 387.1,302.9 C386.9,301.9 386.8,300.9 386.7,299.9 C386.6,298.9 386.5,297.9 386.4,296.9 C386.3,295.9 386.2,294.9 386.2,293.9 C386.1,292.9 386.0,291.9 385.9,290.8 C385.9,289.8 385.8,288.8 385.8,287.8 C385.8,286.8 385.7,285.8 385.7,284.8 C385.7,283.8 385.7,282.8 385.7,281.8 C385.6,280.8 385.6,279.8 385.7,278.8 C385.7,277.8 385.7,276.7 385.7,275.7 C385.8,274.7 385.8,273.7 385.9,272.7 C385.9,271.7 386.0,270.7 386.0,269.7 C386.1,268.7 386.2,267.7 386.3,266.7 C386.4,265.7 386.5,264.7 386.6,263.6 C386.7,262.6 386.8,261.6 387.0,260.6 C387.1,259.6 387.3,258.6 387.4,257.6 C387.6,256.6 387.8,255.6 387.9,254.6 C388.1,253.6 388.3,252.6 388.5,251.6 C388.7,250.6 388.9,249.5 389.2,248.5 C389.4,247.5 389.6,246.5 389.9,245.5 C390.1,244.5 390.4,243.5 390.7,242.5 C390.9,241.5 391.2,240.5 391.5,239.5 C391.8,238.5 392.1,237.5 392.5,236.4 C392.8,235.4 393.1,234.4 393.5,233.4 C393.8,232.4 394.2,231.4 394.6,230.4 C395.0,229.4 395.4,228.4 395.8,227.4 C396.2,226.4 396.6,225.4 397.0,224.4 C397.4,223.4 397.8,222.3 398.2,221.3 C398.6,220.3 399.0,219.3 399.4,218.3 C399.8,217.3 400.2,216.3 400.6,215.3 C401.0,214.3 401.3,213.3 401.6,212.3 C402.0,211.3 402.3,210.3 402.6,209.3 C402.9,208.2 403.1,207.2 403.3,206.2 C403.5,205.2 403.7,204.2 403.9,203.2 C404.0,202.2 404.1,201.2 404.2,200.2 C404.2,199.2 404.2,198.2 404.2,197.2 C404.2,196.2 404.1,195.1 404.0,194.1 C403.9,193.1 403.7,192.1 403.5,191.1 C403.4,190.1 403.2,189.1 403.0,188.1 C402.8,187.1 402.6,186.1 402.3,185.1 C402.1,184.1 401.9,183.1 401.6,182.1 C401.4,181.0 401.1,180.0 400.9,179.0 C400.7,178.0 400.5,177.0 400.3,176.0 C400.1,175.0 399.9,174.0 399.7,173.0 C399.5,172.0 399.4,171.0 399.3,170.0 C399.2,169.0 399.1,167.9 399.0,166.9 C398.9,165.9 398.9,164.9 398.8,163.9 C398.8,162.9 398.8,161.9 398.8,160.9 C398.8,159.9 398.8,158.9 398.9,157.9 C398.9,156.9 399.0,155.9 399.1,154.9 C399.1,153.8 399.2,152.8 399.4,151.8 C399.5,150.8 399.6,149.8 399.8,148.8 C399.9,147.8 400.1,146.8 400.3,145.8 C400.5,144.8 400.7,143.8 400.9,142.8 C401.1,141.8 401.4,140.7 401.6,139.7 C401.9,138.7 402.2,137.7 402.4,136.7 C402.7,135.7 403.0,134.7 403.3,133.7 C403.6,132.7 403.9,131.7 404.3,130.7 C404.6,129.7 404.9,128.7 405.3,127.7 C405.6,126.6 406.0,125.6 406.3,124.6 C406.7,123.6 407.1,122.6 407.4,121.6 C407.8,120.6 408.2,119.6 408.6,118.6 C408.9,117.6 409.3,116.6 409.7,115.6 C410.1,114.6 410.5,113.5 410.9,112.5 C411.3,111.5 411.7,110.5 412.1,109.5 C412.5,108.5 412.9,107.5 413.2,106.5 C413.6,105.5 414.0,104.5 414.4,103.5 C414.8,102.5 415.2,101.5 415.6,100.5 C415.9,99.4 416.3,98.4 416.7,97.4 C417.1,96.4 417.4,95.4 417.8,94.4 C418.2,93.4 418.5,92.4 418.9,91.4 C419.2,90.4 419.6,89.4 419.9,88.4 C420.3,87.4 420.6,86.4 421.0,85.3 C421.3,84.3 421.7,83.3 422.0,82.3 C422.3,81.3 422.7,80.3 423.0,79.3 C423.3,78.3 423.6,77.3 423.9,76.3 C424.3,75.3 424.6,74.3 424.9,73.3 C425.2,72.2 425.5,71.2 425.8,70.2 C426.1,69.2 426.4,68.2 426.6,67.2 C426.9,66.2 427.2,65.2 427.5,64.2 C427.7,63.2 428.0,62.2 428.3,61.2 C428.5,60.2 428.8,59.2 429.0,58.1 C429.3,57.1 429.5,56.1 429.8,55.1 C430.0,54.1 430.2,53.1 430.4,52.1 C430.7,51.1 430.9,50.1 431.1,49.1 C431.3,48.1 431.4,47.1 431.6,46.1 C431.8,45.0 431.9,44.0 432.1,43.0 C432.2,42.0 432.4,41.0 432.5,40.0 C432.7,39.0 432.8,38.0 433.0,37.0 C433.1,36.0 433.3,35.0 433.4,34.0 C433.6,33.0 433.8,32.0 433.9,30.9 C434.0,29.9 434.0,28.9 434.0,27.9 C434.0,26.9 433.9,25.4 433.9,24.9 Z" fill="#98daa7" stroke="#6f6f6f" stroke-width="1.85" stroke-linejoin="round"/>
<ellipse cx="434.7" cy="70.6" rx="3.0" ry="2.05" fill="#6a6a6a"/>
<ellipse cx="434.7" cy="88.8" rx="3.0" ry="2.05" fill="#6a6a6a"/>
<ellipse cx="434.7" cy="102.7" rx="3.0" ry="2.05" fill="#6a6a6a"/>
<ellipse cx="434.7" cy="105.2" rx="3.0" ry="2.05" fill="#6a6a6a"/>
<ellipse cx="434.7" cy="107.7" rx="3.0" ry="2.05" fill="#6a6a6a"/>
<ellipse cx="434.7" cy="118.2" rx="3.0" ry="2.05" fill="#6a6a6a"/>
<ellipse cx="434.7" cy="141.5" rx="3.0" ry="2.05" fill="#6a6a6a"/>
<ellipse cx="434.7" cy="144.9" rx="3.0" ry="2.05" fill="#6a6a6a"/>
<ellipse cx="434.7" cy="148.2" rx="3.0" ry="2.05" fill="#6a6a6a"/>
<ellipse cx="434.7" cy="151.6" rx="3.0" ry="2.05" fill="#6a6a6a"/>
<ellipse cx="434.7" cy="162.6" rx="3.0" ry="2.05" fill="#6a6a6a"/>
<ellipse cx="434.7" cy="165.9" rx="3.0" ry="2.05" fill="#6a6a6a"/>
<ellipse cx="434.7" cy="169.3" rx="3.0" ry="2.05" fill="#6a6a6a"/>
<ellipse cx="434.7" cy="177.8" rx="3.0" ry="2.05" fill="#6a6a6a"/>
<ellipse cx="434.7" cy="182.8" rx="3.0" ry="2.05" fill="#6a6a6a"/>
<ellipse cx="434.7" cy="187.9" rx="3.0" ry="2.05" fill="#6a6a6a"/>
<ellipse cx="434.7" cy="192.1" rx="3.0" ry="2.05" fill="#6a6a6a"/>
<ellipse cx="434.7" cy="195.5" rx="3.0" ry="2.05" fill="#6a6a6a"/>
<ellipse cx="434.7" cy="198.8" rx="3.0" ry="2.05" fill="#6a6a6a"/>
<ellipse cx="434.7" cy="203.1" rx="3.0" ry="2.05" fill="#6a6a6a"/>
<ellipse cx="434.7" cy="215.7" rx="3.0" ry="2.05" fill="#6a6a6a"/>
<ellipse cx="434.7" cy="223.3" rx="3.0" ry="2.05" fill="#6a6a6a"/>
<ellipse cx="434.7" cy="225.1" rx="3.0" ry="2.05" fill="#6a6a6a"/>
<ellipse cx="434.7" cy="236.0" rx="3.0" ry="2.05" fill="#6a6a6a"/>
<ellipse cx="434.7" cy="255.4" rx="3.0" ry="2.05" fill="#6a6a6a"/>
<ellipse cx="434.7" cy="260.5" rx="3.0" ry="2.05" fill="#6a6a6a"/>
<ellipse cx="434.7" cy="270.6" rx="3.0" ry="2.05" fill="#6a6a6a"/>
<ellipse cx="434.7" cy="275.7" rx="3.0" ry="2.05" fill="#6a6a6a"/>
<ellipse cx="434.7" cy="279.1" rx="3.0" ry="2.05" fill="#6a6a6a"/>
<ellipse cx="434.7" cy="282.8" rx="3.0" ry="2.05" fill="#6a6a6a"/>
<ellipse cx="434.7" cy="297.6" rx="3.0" ry="2.05" fill="#6a6a6a"/>
<ellipse cx="434.7" cy="301.0" rx="3.0" ry="2.05" fill="#6a6a6a"/>
<ellipse cx="434.7" cy="304.4" rx="3.0" ry="2.05" fill="#6a6a6a"/>
<ellipse cx="434.7" cy="307.7" rx="3.0" ry="2.05" fill="#6a6a6a"/>
<ellipse cx="434.7" cy="317.9" rx="3.0" ry="2.05" fill="#6a6a6a"/>
<ellipse cx="434.7" cy="321.2" rx="3.0" ry="2.05" fill="#6a6a6a"/>
<ellipse cx="434.7" cy="324.6" rx="3.0" ry="2.05" fill="#6a6a6a"/>
<ellipse cx="434.7" cy="328.8" rx="3.0" ry="2.05" fill="#6a6a6a"/>
<ellipse cx="434.7" cy="338.9" rx="3.0" ry="2.05" fill="#6a6a6a"/>
<ellipse cx="434.7" cy="348.2" rx="3.0" ry="2.05" fill="#6a6a6a"/>
<ellipse cx="434.7" cy="351.3" rx="3.0" ry="2.05" fill="#6a6a6a"/>
<ellipse cx="434.7" cy="373.2" rx="3.0" ry="2.05" fill="#6a6a6a"/>
<ellipse cx="434.7" cy="245.3" rx="8.5" ry="5.6" fill="#fff" stroke="#000" stroke-width="1.6"/>
<path d="M563.70,56.00 C563.8,56.5 564.0,58.0 564.1,59.0 C564.3,60.0 564.4,61.0 564.5,62.0 C564.7,63.0 564.8,64.0 565.0,65.0 C565.2,66.0 565.6,67.0 565.8,68.0 C566.1,69.0 566.4,70.0 566.7,71.0 C567.0,72.0 567.4,73.0 567.7,74.0 C568.0,75.0 568.4,76.0 568.7,77.0 C569.1,78.0 569.5,79.0 569.9,80.0 C570.3,81.0 570.7,82.0 571.1,83.0 C571.6,84.0 572.0,85.0 572.5,86.0 C572.9,87.0 573.4,88.0 573.9,89.0 C574.3,90.0 574.8,91.0 575.3,92.0 C575.8,93.0 576.3,94.0 576.8,95.0 C577.3,96.0 577.8,97.0 578.3,98.0 C578.9,99.0 579.4,100.0 579.9,101.0 C580.4,102.0 580.9,103.0 581.5,104.0 C582.0,105.0 582.5,106.0 583.1,107.0 C583.6,108.0 584.1,109.0 584.6,110.0 C585.2,111.0 585.7,112.0 586.2,113.0 C586.7,114.0 587.3,115.0 587.8,116.0 C588.3,117.0 588.8,118.0 589.3,119.0 C589.8,120.0 590.3,121.0 590.8,122.0 C591.3,123.0 591.8,124.0 592.3,125.0 C592.7,126.0 593.2,127.0 593.7,128.0 C594.1,129.0 594.6,130.0 595.0,131.0 C595.4,132.0 595.8,133.0 596.2,134.0 C596.7,135.0 597.1,136.0 597.4,137.0 C597.8,138.0 598.2,139.0 598.5,140.0 C598.9,141.0 599.2,142.0 599.6,143.0 C599.9,144.0 600.2,145.0 600.5,146.0 C600.8,147.0 601.1,148.0 601.3,149.0 C601.6,150.0 601.9,151.0 602.1,152.0 C602.3,153.0 602.5,154.0 602.7,155.0 C602.9,156.0 603.1,157.0 603.3,158.0 C603.4,159.0 603.6,160.0 603.7,161.0 C603.8,162.0 603.9,163.0 604.0,164.0 C604.1,165.0 604.1,166.0 604.2,167.0 C604.3,168.0 604.3,169.0 604.3,170.0 C604.3,171.0 604.4,172.0 604.3,173.0 C604.3,174.0 604.3,175.0 604.3,176.0 C604.3,177.0 604.2,178.0 604.2,179.0 C604.1,180.0 604.1,181.0 604.0,182.0 C603.9,183.0 603.8,184.0 603.7,185.0 C603.7,186.0 603.6,187.0 603.5,188.0 C603.4,189.0 603.3,190.0 603.2,191.0 C603.1,192.0 602.9,193.0 602.8,194.0 C602.7,195.0 602.6,196.0 602.5,197.0 C602.4,198.0 602.3,199.0 602.2,200.0 C602.1,201.0 602.0,202.0 601.9,203.0 C601.8,204.0 601.7,205.0 601.6,206.0 C601.6,207.0 601.5,208.0 601.4,209.0 C601.4,210.0 601.3,211.0 601.3,212.0 C601.2,213.0 601.2,214.0 601.2,215.0 C601.1,216.0 601.1,217.0 601.1,218.0 C601.1,219.0 601.1,220.0 601.1,221.0 C601.1,222.0 601.1,223.0 601.2,224.0 C601.2,225.0 601.2,226.0 601.2,227.0 C601.3,228.0 601.3,229.0 601.4,230.0 C601.4,231.0 601.4,232.0 601.5,233.0 C601.6,234.0 601.6,235.0 601.7,236.0 C601.7,237.0 601.8,238.1 601.9,239.1 C602.0,240.1 602.0,241.1 602.1,242.1 C602.2,243.1 602.3,244.1 602.4,245.1 C602.4,246.1 602.5,247.1 602.6,248.1 C602.7,249.1 602.8,250.1 602.9,251.1 C603.0,252.1 603.1,253.1 603.2,254.1 C603.3,255.1 603.4,256.1 603.5,257.1 C603.6,258.1 603.7,259.1 603.8,260.1 C603.9,261.1 604.0,262.1 604.1,263.1 C604.2,264.1 604.3,265.1 604.4,266.1 C604.5,267.1 604.6,268.1 604.7,269.1 C604.8,270.1 604.9,271.1 605.0,272.1 C605.1,273.1 605.2,274.1 605.3,275.1 C605.4,276.1 605.5,277.1 605.6,278.1 C605.7,279.1 605.7,280.1 605.8,281.1 C605.9,282.1 606.0,283.1 606.1,284.1 C606.1,285.1 606.2,286.1 606.3,287.1 C606.3,288.1 606.4,289.1 606.5,290.1 C606.5,291.1 606.6,292.1 606.6,293.1 C606.7,294.1 606.7,295.1 606.8,296.1 C606.8,297.1 606.8,298.1 606.9,299.1 C606.9,300.1 606.9,301.1 606.9,302.1 C606.9,303.1 606.9,304.1 606.9,305.1 C606.9,306.1 606.9,307.1 606.9,308.1 C606.9,309.1 606.9,310.1 606.8,311.1 C606.8,312.1 606.8,313.1 606.7,314.1 C606.7,315.1 606.6,316.1 606.5,317.1 C606.5,318.1 606.4,319.1 606.3,320.1 C606.2,321.1 606.1,322.1 606.0,323.1 C605.9,324.1 605.8,325.1 605.7,326.1 C605.6,327.1 605.4,328.1 605.3,329.1 C605.1,330.1 605.0,331.1 604.8,332.1 C604.6,333.1 604.4,334.1 604.2,335.1 C604.0,336.1 603.8,337.1 603.6,338.1 C603.4,339.1 603.2,340.1 602.9,341.1 C602.7,342.1 602.4,343.1 602.1,344.1 C601.9,345.1 601.6,346.1 601.3,347.1 C601.0,348.1 600.6,349.1 600.3,350.1 C600.0,351.1 599.6,352.1 599.3,353.1 C598.9,354.1 598.5,355.1 598.2,356.1 C597.8,357.1 597.4,358.1 597.0,359.1 C596.5,360.1 596.1,361.1 595.7,362.1 C595.2,363.1 594.8,364.1 594.3,365.1 C593.9,366.1 593.4,367.1 592.9,368.1 C592.4,369.1 591.9,370.1 591.4,371.1 C590.9,372.1 590.4,373.1 589.9,374.1 C589.4,375.1 588.8,376.1 588.3,377.1 C587.8,378.1 587.2,379.1 586.6,380.1 C586.1,381.1 585.5,382.1 585.0,383.1 C584.4,384.1 583.8,385.1 583.2,386.1 C582.6,387.1 582.1,388.1 581.5,389.1 C580.9,390.1 580.3,391.1 579.7,392.1 C579.0,393.1 578.4,394.1 577.7,395.1 C577.1,396.1 576.4,397.1 575.7,398.1 C575.0,399.1 574.4,400.1 573.7,401.1 C573.1,402.1 572.4,403.1 571.8,404.1 C571.2,405.1 570.6,406.1 570.0,407.1 C569.5,408.1 568.9,409.1 568.4,410.1 C568.0,411.1 567.6,412.1 567.2,413.1 C566.9,414.1 566.6,415.1 566.2,416.1 C565.8,417.1 565.1,418.6 564.9,419.1 L560.90,419.10 C560.7,418.6 560.0,417.1 559.6,416.1 C559.2,415.1 558.9,414.1 558.6,413.1 C558.2,412.1 557.8,411.1 557.4,410.1 C556.9,409.1 556.3,408.1 555.8,407.1 C555.2,406.1 554.6,405.1 554.0,404.1 C553.4,403.1 552.7,402.1 552.1,401.1 C551.4,400.1 550.8,399.1 550.1,398.1 C549.4,397.1 548.7,396.1 548.1,395.1 C547.4,394.1 546.8,393.1 546.1,392.1 C545.5,391.1 544.9,390.1 544.3,389.1 C543.7,388.1 543.2,387.1 542.6,386.1 C542.0,385.1 541.4,384.1 540.8,383.1 C540.3,382.1 539.7,381.1 539.2,380.1 C538.6,379.1 538.0,378.1 537.5,377.1 C537.0,376.1 536.4,375.1 535.9,374.1 C535.4,373.1 534.9,372.1 534.4,371.1 C533.9,370.1 533.4,369.1 532.9,368.1 C532.4,367.1 531.9,366.1 531.5,365.1 C531.0,364.1 530.6,363.1 530.1,362.1 C529.7,361.1 529.3,360.1 528.8,359.1 C528.4,358.1 528.0,357.1 527.6,356.1 C527.3,355.1 526.9,354.1 526.5,353.1 C526.2,352.1 525.8,351.1 525.5,350.1 C525.2,349.1 524.8,348.1 524.5,347.1 C524.2,346.1 523.9,345.1 523.7,344.1 C523.4,343.1 523.1,342.1 522.9,341.1 C522.6,340.1 522.4,339.1 522.2,338.1 C522.0,337.1 521.8,336.1 521.6,335.1 C521.4,334.1 521.2,333.1 521.0,332.1 C520.8,331.1 520.7,330.1 520.5,329.1 C520.4,328.1 520.2,327.1 520.1,326.1 C520.0,325.1 519.9,324.1 519.8,323.1 C519.7,322.1 519.6,321.1 519.5,320.1 C519.4,319.1 519.3,318.1 519.3,317.1 C519.2,316.1 519.1,315.1 519.1,314.1 C519.0,313.1 519.0,312.1 519.0,311.1 C518.9,310.1 518.9,309.1 518.9,308.1 C518.9,307.1 518.9,306.1 518.9,305.1 C518.9,304.1 518.9,303.1 518.9,302.1 C518.9,301.1 518.9,300.1 518.9,299.1 C519.0,298.1 519.0,297.1 519.0,296.1 C519.1,295.1 519.1,294.1 519.2,293.1 C519.2,292.1 519.3,291.1 519.3,290.1 C519.4,289.1 519.5,288.1 519.5,287.1 C519.6,286.1 519.7,285.1 519.7,284.1 C519.8,283.1 519.9,282.1 520.0,281.1 C520.1,280.1 520.1,279.1 520.2,278.1 C520.3,277.1 520.4,276.1 520.5,275.1 C520.6,274.1 520.7,273.1 520.8,272.1 C520.9,271.1 521.0,270.1 521.1,269.1 C521.2,268.1 521.3,267.1 521.4,266.1 C521.5,265.1 521.6,264.1 521.7,263.1 C521.8,262.1 521.9,261.1 522.0,260.1 C522.1,259.1 522.2,258.1 522.3,257.1 C522.4,256.1 522.5,255.1 522.6,254.1 C522.7,253.1 522.8,252.1 522.9,251.1 C523.0,250.1 523.1,249.1 523.2,248.1 C523.3,247.1 523.4,246.1 523.4,245.1 C523.5,244.1 523.6,243.1 523.7,242.1 C523.8,241.1 523.8,240.1 523.9,239.1 C524.0,238.1 524.1,237.0 524.1,236.0 C524.2,235.0 524.2,234.0 524.3,233.0 C524.4,232.0 524.4,231.0 524.4,230.0 C524.5,229.0 524.5,228.0 524.6,227.0 C524.6,226.0 524.6,225.0 524.6,224.0 C524.7,223.0 524.7,222.0 524.7,221.0 C524.7,220.0 524.7,219.0 524.7,218.0 C524.7,217.0 524.7,216.0 524.6,215.0 C524.6,214.0 524.6,213.0 524.5,212.0 C524.5,211.0 524.4,210.0 524.4,209.0 C524.3,208.0 524.2,207.0 524.2,206.0 C524.1,205.0 524.0,204.0 523.9,203.0 C523.8,202.0 523.7,201.0 523.6,200.0 C523.5,199.0 523.4,198.0 523.3,197.0 C523.2,196.0 523.1,195.0 523.0,194.0 C522.9,193.0 522.7,192.0 522.6,191.0 C522.5,190.0 522.4,189.0 522.3,188.0 C522.2,187.0 522.1,186.0 522.1,185.0 C522.0,184.0 521.9,183.0 521.8,182.0 C521.7,181.0 521.7,180.0 521.6,179.0 C521.6,178.0 521.5,177.0 521.5,176.0 C521.5,175.0 521.5,174.0 521.5,173.0 C521.4,172.0 521.5,171.0 521.5,170.0 C521.5,169.0 521.5,168.0 521.6,167.0 C521.7,166.0 521.7,165.0 521.8,164.0 C521.9,163.0 522.0,162.0 522.1,161.0 C522.2,160.0 522.4,159.0 522.5,158.0 C522.7,157.0 522.9,156.0 523.1,155.0 C523.3,154.0 523.5,153.0 523.7,152.0 C523.9,151.0 524.2,150.0 524.5,149.0 C524.7,148.0 525.0,147.0 525.3,146.0 C525.6,145.0 525.9,144.0 526.2,143.0 C526.6,142.0 526.9,141.0 527.3,140.0 C527.6,139.0 528.0,138.0 528.4,137.0 C528.7,136.0 529.1,135.0 529.6,134.0 C530.0,133.0 530.4,132.0 530.8,131.0 C531.2,130.0 531.7,129.0 532.1,128.0 C532.6,127.0 533.1,126.0 533.5,125.0 C534.0,124.0 534.5,123.0 535.0,122.0 C535.5,121.0 536.0,120.0 536.5,119.0 C537.0,118.0 537.5,117.0 538.0,116.0 C538.5,115.0 539.1,114.0 539.6,113.0 C540.1,112.0 540.6,111.0 541.2,110.0 C541.7,109.0 542.2,108.0 542.7,107.0 C543.3,106.0 543.8,105.0 544.3,104.0 C544.9,103.0 545.4,102.0 545.9,101.0 C546.4,100.0 546.9,99.0 547.5,98.0 C548.0,97.0 548.5,96.0 549.0,95.0 C549.5,94.0 550.0,93.0 550.5,92.0 C551.0,91.0 551.5,90.0 551.9,89.0 C552.4,88.0 552.9,87.0 553.3,86.0 C553.8,85.0 554.2,84.0 554.7,83.0 C555.1,82.0 555.5,81.0 555.9,80.0 C556.3,79.0 556.7,78.0 557.1,77.0 C557.4,76.0 557.8,75.0 558.1,74.0 C558.4,73.0 558.8,72.0 559.1,71.0 C559.4,70.0 559.7,69.0 560.0,68.0 C560.2,67.0 560.6,66.0 560.8,65.0 C561.0,64.0 561.1,63.0 561.3,62.0 C561.4,61.0 561.5,60.0 561.7,59.0 C561.8,58.0 562.0,56.5 562.1,56.0 Z" fill="#d6bba3" stroke="#6f6f6f" stroke-width="1.85" stroke-linejoin="round"/>
<ellipse cx="562.9" cy="101.8" rx="3.0" ry="2.05" fill="#6a6a6a"/>
<ellipse cx="562.9" cy="111.1" rx="3.0" ry="2.05" fill="#6a6a6a"/>
<ellipse cx="562.9" cy="114.5" rx="3.0" ry="2.05" fill="#6a6a6a"/>
<ellipse cx="562.9" cy="121.2" rx="3.0" ry="2.05" fill="#6a6a6a"/>
<ellipse cx="562.9" cy="124.6" rx="3.0" ry="2.05" fill="#6a6a6a"/>
<ellipse cx="562.9" cy="128.0" rx="3.0" ry="2.05" fill="#6a6a6a"/>
<ellipse cx="562.9" cy="131.4" rx="3.0" ry="2.05" fill="#6a6a6a"/>
<ellipse cx="562.9" cy="136.1" rx="3.0" ry="2.05" fill="#6a6a6a"/>
<ellipse cx="562.9" cy="147.4" rx="3.0" ry="2.05" fill="#6a6a6a"/>
<ellipse cx="562.9" cy="159.7" rx="3.0" ry="2.05" fill="#6a6a6a"/>
<ellipse cx="562.9" cy="165.1" rx="3.0" ry="2.05" fill="#6a6a6a"/>
<ellipse cx="562.9" cy="168.5" rx="3.0" ry="2.05" fill="#6a6a6a"/>
<ellipse cx="562.9" cy="171.8" rx="3.0" ry="2.05" fill="#6a6a6a"/>
<ellipse cx="562.9" cy="175.2" rx="3.0" ry="2.05" fill="#6a6a6a"/>
<ellipse cx="562.9" cy="178.6" rx="3.0" ry="2.05" fill="#6a6a6a"/>
<ellipse cx="562.9" cy="192.1" rx="3.0" ry="2.05" fill="#6a6a6a"/>
<ellipse cx="562.9" cy="195.5" rx="3.0" ry="2.05" fill="#6a6a6a"/>
<ellipse cx="562.9" cy="198.8" rx="3.0" ry="2.05" fill="#6a6a6a"/>
<ellipse cx="562.9" cy="204.7" rx="3.0" ry="2.05" fill="#6a6a6a"/>
<ellipse cx="562.9" cy="210.7" rx="3.0" ry="2.05" fill="#6a6a6a"/>
<ellipse cx="562.9" cy="214.0" rx="3.0" ry="2.05" fill="#6a6a6a"/>
<ellipse cx="562.9" cy="217.4" rx="3.0" ry="2.05" fill="#6a6a6a"/>
<ellipse cx="562.9" cy="220.8" rx="3.0" ry="2.05" fill="#6a6a6a"/>
<ellipse cx="562.9" cy="228.4" rx="3.0" ry="2.05" fill="#6a6a6a"/>
<ellipse cx="562.9" cy="236.9" rx="3.0" ry="2.05" fill="#6a6a6a"/>
<ellipse cx="562.9" cy="238.6" rx="3.0" ry="2.05" fill="#6a6a6a"/>
<ellipse cx="562.9" cy="259.6" rx="3.0" ry="2.05" fill="#6a6a6a"/>
<ellipse cx="562.9" cy="269.8" rx="3.0" ry="2.05" fill="#6a6a6a"/>
<ellipse cx="562.9" cy="275.7" rx="3.0" ry="2.05" fill="#6a6a6a"/>
<ellipse cx="562.9" cy="279.1" rx="3.0" ry="2.05" fill="#6a6a6a"/>
<ellipse cx="562.9" cy="282.4" rx="3.0" ry="2.05" fill="#6a6a6a"/>
<ellipse cx="562.9" cy="293.9" rx="3.0" ry="2.05" fill="#6a6a6a"/>
<ellipse cx="562.9" cy="301.0" rx="3.0" ry="2.05" fill="#6a6a6a"/>
<ellipse cx="562.9" cy="304.4" rx="3.0" ry="2.05" fill="#6a6a6a"/>
<ellipse cx="562.9" cy="307.7" rx="3.0" ry="2.05" fill="#6a6a6a"/>
<ellipse cx="562.9" cy="311.1" rx="3.0" ry="2.05" fill="#6a6a6a"/>
<ellipse cx="562.9" cy="321.2" rx="3.0" ry="2.05" fill="#6a6a6a"/>
<ellipse cx="562.9" cy="324.6" rx="3.0" ry="2.05" fill="#6a6a6a"/>
<ellipse cx="562.9" cy="328.8" rx="3.0" ry="2.05" fill="#6a6a6a"/>
<ellipse cx="562.9" cy="350.3" rx="3.0" ry="2.05" fill="#6a6a6a"/>
<ellipse cx="562.9" cy="373.2" rx="3.0" ry="2.05" fill="#6a6a6a"/>
<ellipse cx="562.9" cy="248.3" rx="8.5" ry="5.6" fill="#fff" stroke="#000" stroke-width="1.6"/>
<path d="M692.00,24.00 C692.0,24.5 692.1,26.0 692.1,27.0 C692.2,28.0 692.2,29.0 692.3,30.0 C692.3,31.0 692.3,32.0 692.4,33.0 C692.5,34.0 692.7,35.0 692.9,36.0 C693.0,37.0 693.0,38.0 693.1,39.0 C693.3,40.0 693.4,41.0 693.5,42.0 C693.6,43.0 693.7,44.0 693.9,45.0 C694.1,46.0 694.2,47.0 694.4,48.0 C694.6,49.0 694.9,50.0 695.1,51.0 C695.4,52.0 695.7,53.0 696.0,54.0 C696.3,55.0 696.7,56.0 697.0,57.0 C697.3,58.0 697.7,59.0 698.0,60.0 C698.4,61.0 698.8,62.0 699.2,63.0 C699.5,64.0 699.9,65.0 700.3,66.0 C700.7,67.0 701.1,68.0 701.5,69.0 C701.9,70.0 702.3,71.0 702.7,72.0 C703.1,73.0 703.5,74.1 704.0,75.1 C704.4,76.1 704.8,77.1 705.2,78.1 C705.6,79.1 706.0,80.1 706.4,81.1 C706.8,82.1 707.3,83.1 707.7,84.1 C708.1,85.1 708.4,86.1 708.8,87.1 C709.2,88.1 709.6,89.1 710.0,90.1 C710.4,91.1 710.7,92.1 711.1,93.1 C711.4,94.1 711.8,95.1 712.1,96.1 C712.4,97.1 712.7,98.1 713.1,99.1 C713.4,100.1 713.6,101.1 713.9,102.1 C714.2,103.1 714.4,104.1 714.7,105.1 C714.9,106.1 715.1,107.1 715.3,108.1 C715.5,109.1 715.7,110.1 715.9,111.1 C716.1,112.1 716.2,113.1 716.3,114.1 C716.4,115.1 716.6,116.1 716.6,117.1 C716.7,118.1 716.8,119.1 716.8,120.1 C716.9,121.1 716.9,122.1 716.9,123.1 C716.9,124.1 716.9,125.1 716.9,126.1 C716.8,127.1 716.8,128.1 716.7,129.1 C716.6,130.1 716.5,131.1 716.4,132.1 C716.3,133.1 716.2,134.1 716.0,135.1 C715.8,136.1 715.6,137.1 715.4,138.1 C715.3,139.1 715.0,140.1 714.8,141.1 C714.6,142.1 714.3,143.1 714.1,144.1 C713.9,145.1 713.6,146.1 713.4,147.1 C713.1,148.1 712.9,149.1 712.6,150.1 C712.4,151.1 712.2,152.1 711.9,153.1 C711.7,154.1 711.5,155.1 711.3,156.1 C711.1,157.1 710.9,158.1 710.7,159.1 C710.6,160.1 710.4,161.1 710.3,162.1 C710.2,163.1 710.1,164.1 710.0,165.1 C710.0,166.1 709.9,167.1 709.9,168.1 C709.9,169.1 709.9,170.1 710.0,171.1 C710.0,172.1 710.1,173.2 710.2,174.2 C710.3,175.2 710.5,176.2 710.7,177.2 C710.8,178.2 711.0,179.2 711.2,180.2 C711.5,181.2 711.7,182.2 712.0,183.2 C712.3,184.2 712.6,185.2 712.9,186.2 C713.3,187.2 713.6,188.2 714.0,189.2 C714.4,190.2 714.8,191.2 715.3,192.2 C715.7,193.2 716.2,194.2 716.7,195.2 C717.2,196.2 717.8,197.2 718.3,198.2 C718.9,199.2 719.4,200.2 720.0,201.2 C720.6,202.2 721.2,203.2 721.7,204.2 C722.3,205.2 722.9,206.2 723.5,207.2 C724.1,208.2 724.7,209.2 725.3,210.2 C725.9,211.2 726.4,212.2 727.0,213.2 C727.6,214.2 728.1,215.2 728.6,216.2 C729.2,217.2 729.7,218.2 730.2,219.2 C730.7,220.2 731.2,221.2 731.7,222.2 C732.1,223.2 732.6,224.2 733.1,225.2 C733.5,226.2 734.0,227.2 734.4,228.2 C734.8,229.2 735.2,230.2 735.6,231.2 C736.0,232.2 736.4,233.2 736.8,234.2 C737.1,235.2 737.5,236.2 737.8,237.2 C738.2,238.2 738.5,239.2 738.8,240.2 C739.1,241.2 739.4,242.2 739.7,243.2 C740.0,244.2 740.3,245.2 740.5,246.2 C740.8,247.2 741.0,248.2 741.3,249.2 C741.5,250.2 741.7,251.2 741.9,252.2 C742.1,253.2 742.3,254.2 742.4,255.2 C742.6,256.2 742.7,257.2 742.9,258.2 C743.0,259.2 743.1,260.2 743.2,261.2 C743.3,262.2 743.4,263.2 743.5,264.2 C743.6,265.2 743.6,266.2 743.7,267.2 C743.7,268.2 743.7,269.2 743.7,270.2 C743.7,271.2 743.7,272.3 743.7,273.3 C743.7,274.3 743.6,275.3 743.6,276.3 C743.6,277.3 743.5,278.3 743.4,279.3 C743.3,280.3 743.3,281.3 743.2,282.3 C743.1,283.3 743.0,284.3 742.9,285.3 C742.8,286.3 742.6,287.3 742.5,288.3 C742.4,289.3 742.3,290.3 742.1,291.3 C742.0,292.3 741.9,293.3 741.7,294.3 C741.6,295.3 741.4,296.3 741.3,297.3 C741.2,298.3 741.0,299.3 740.9,300.3 C740.7,301.3 740.6,302.3 740.4,303.3 C740.3,304.3 740.1,305.3 740.0,306.3 C739.9,307.3 739.7,308.3 739.6,309.3 C739.5,310.3 739.4,311.3 739.3,312.3 C739.1,313.3 739.0,314.3 738.9,315.3 C738.8,316.3 738.7,317.3 738.7,318.3 C738.6,319.3 738.5,320.3 738.4,321.3 C738.4,322.3 738.3,323.3 738.3,324.3 C738.2,325.3 738.2,326.3 738.1,327.3 C738.0,328.3 738.0,329.3 737.9,330.3 C737.8,331.3 737.8,332.3 737.7,333.3 C737.6,334.3 737.5,335.3 737.4,336.3 C737.2,337.3 737.1,338.3 736.9,339.3 C736.8,340.3 736.6,341.3 736.4,342.3 C736.2,343.3 735.9,344.3 735.6,345.3 C735.4,346.3 735.1,347.3 734.7,348.3 C734.4,349.3 734.0,350.3 733.6,351.3 C733.2,352.3 732.7,353.3 732.2,354.3 C731.7,355.3 731.2,356.3 730.7,357.3 C730.1,358.3 729.6,359.3 729.0,360.3 C728.4,361.3 727.7,362.3 727.1,363.3 C726.5,364.3 725.8,365.3 725.1,366.3 C724.4,367.3 723.7,368.3 723.0,369.3 C722.3,370.3 721.6,371.4 720.8,372.4 C720.1,373.4 719.3,374.4 718.5,375.4 C717.8,376.4 717.0,377.4 716.2,378.4 C715.4,379.4 714.6,380.4 713.8,381.4 C713.1,382.4 712.3,383.4 711.5,384.4 C710.7,385.4 709.9,386.4 709.1,387.4 C708.4,388.4 707.6,389.4 706.8,390.4 C706.1,391.4 705.4,392.4 704.6,393.4 C703.9,394.4 703.2,395.4 702.5,396.4 C701.9,397.4 701.3,398.4 700.7,399.4 C700.1,400.4 699.5,401.4 699.0,402.4 C698.5,403.4 697.9,404.4 697.5,405.4 C697.0,406.4 696.8,407.4 696.5,408.4 C696.2,409.4 695.8,410.4 695.4,411.4 C695.1,412.4 694.7,413.4 694.4,414.4 C694.1,415.4 693.9,416.4 693.6,417.4 C693.4,418.4 693.0,419.9 692.9,420.4 L689.50,420.40 C689.4,419.9 689.0,418.4 688.8,417.4 C688.5,416.4 688.3,415.4 688.0,414.4 C687.7,413.4 687.3,412.4 687.0,411.4 C686.6,410.4 686.2,409.4 685.9,408.4 C685.6,407.4 685.4,406.4 684.9,405.4 C684.5,404.4 683.9,403.4 683.4,402.4 C682.9,401.4 682.3,400.4 681.7,399.4 C681.1,398.4 680.5,397.4 679.9,396.4 C679.2,395.4 678.5,394.4 677.8,393.4 C677.0,392.4 676.3,391.4 675.6,390.4 C674.8,389.4 674.0,388.4 673.3,387.4 C672.5,386.4 671.7,385.4 670.9,384.4 C670.1,383.4 669.3,382.4 668.6,381.4 C667.8,380.4 667.0,379.4 666.2,378.4 C665.4,377.4 664.6,376.4 663.9,375.4 C663.1,374.4 662.3,373.4 661.6,372.4 C660.8,371.4 660.1,370.3 659.4,369.3 C658.7,368.3 658.0,367.3 657.3,366.3 C656.6,365.3 655.9,364.3 655.3,363.3 C654.7,362.3 654.0,361.3 653.4,360.3 C652.8,359.3 652.3,358.3 651.7,357.3 C651.2,356.3 650.7,355.3 650.2,354.3 C649.7,353.3 649.2,352.3 648.8,351.3 C648.4,350.3 648.0,349.3 647.7,348.3 C647.3,347.3 647.0,346.3 646.8,345.3 C646.5,344.3 646.2,343.3 646.0,342.3 C645.8,341.3 645.6,340.3 645.5,339.3 C645.3,338.3 645.2,337.3 645.0,336.3 C644.9,335.3 644.8,334.3 644.7,333.3 C644.6,332.3 644.6,331.3 644.5,330.3 C644.4,329.3 644.4,328.3 644.3,327.3 C644.2,326.3 644.2,325.3 644.1,324.3 C644.1,323.3 644.0,322.3 644.0,321.3 C643.9,320.3 643.8,319.3 643.7,318.3 C643.7,317.3 643.6,316.3 643.5,315.3 C643.4,314.3 643.3,313.3 643.1,312.3 C643.0,311.3 642.9,310.3 642.8,309.3 C642.7,308.3 642.5,307.3 642.4,306.3 C642.3,305.3 642.1,304.3 642.0,303.3 C641.8,302.3 641.7,301.3 641.5,300.3 C641.4,299.3 641.2,298.3 641.1,297.3 C641.0,296.3 640.8,295.3 640.7,294.3 C640.5,293.3 640.4,292.3 640.3,291.3 C640.1,290.3 640.0,289.3 639.9,288.3 C639.8,287.3 639.6,286.3 639.5,285.3 C639.4,284.3 639.3,283.3 639.2,282.3 C639.1,281.3 639.1,280.3 639.0,279.3 C638.9,278.3 638.8,277.3 638.8,276.3 C638.8,275.3 638.7,274.3 638.7,273.3 C638.7,272.3 638.7,271.2 638.7,270.2 C638.7,269.2 638.7,268.2 638.7,267.2 C638.8,266.2 638.8,265.2 638.9,264.2 C639.0,263.2 639.1,262.2 639.2,261.2 C639.3,260.2 639.4,259.2 639.5,258.2 C639.7,257.2 639.8,256.2 640.0,255.2 C640.1,254.2 640.3,253.2 640.5,252.2 C640.7,251.2 640.9,250.2 641.1,249.2 C641.4,248.2 641.6,247.2 641.9,246.2 C642.1,245.2 642.4,244.2 642.7,243.2 C643.0,242.2 643.3,241.2 643.6,240.2 C643.9,239.2 644.2,238.2 644.6,237.2 C644.9,236.2 645.3,235.2 645.6,234.2 C646.0,233.2 646.4,232.2 646.8,231.2 C647.2,230.2 647.6,229.2 648.0,228.2 C648.4,227.2 648.9,226.2 649.3,225.2 C649.8,224.2 650.3,223.2 650.7,222.2 C651.2,221.2 651.7,220.2 652.2,219.2 C652.7,218.2 653.2,217.2 653.8,216.2 C654.3,215.2 654.8,214.2 655.4,213.2 C656.0,212.2 656.5,211.2 657.1,210.2 C657.7,209.2 658.3,208.2 658.9,207.2 C659.5,206.2 660.1,205.2 660.7,204.2 C661.2,203.2 661.8,202.2 662.4,201.2 C663.0,200.2 663.5,199.2 664.1,198.2 C664.6,197.2 665.2,196.2 665.7,195.2 C666.2,194.2 666.7,193.2 667.1,192.2 C667.6,191.2 668.0,190.2 668.4,189.2 C668.8,188.2 669.1,187.2 669.5,186.2 C669.8,185.2 670.1,184.2 670.4,183.2 C670.7,182.2 670.9,181.2 671.2,180.2 C671.4,179.2 671.6,178.2 671.7,177.2 C671.9,176.2 672.1,175.2 672.2,174.2 C672.3,173.2 672.4,172.1 672.4,171.1 C672.5,170.1 672.5,169.1 672.5,168.1 C672.5,167.1 672.4,166.1 672.4,165.1 C672.3,164.1 672.2,163.1 672.1,162.1 C672.0,161.1 671.8,160.1 671.7,159.1 C671.5,158.1 671.3,157.1 671.1,156.1 C670.9,155.1 670.7,154.1 670.5,153.1 C670.2,152.1 670.0,151.1 669.8,150.1 C669.5,149.1 669.3,148.1 669.0,147.1 C668.8,146.1 668.5,145.1 668.3,144.1 C668.1,143.1 667.8,142.1 667.6,141.1 C667.4,140.1 667.1,139.1 667.0,138.1 C666.8,137.1 666.6,136.1 666.4,135.1 C666.2,134.1 666.1,133.1 666.0,132.1 C665.9,131.1 665.8,130.1 665.7,129.1 C665.6,128.1 665.6,127.1 665.5,126.1 C665.5,125.1 665.5,124.1 665.5,123.1 C665.5,122.1 665.5,121.1 665.6,120.1 C665.6,119.1 665.7,118.1 665.8,117.1 C665.8,116.1 666.0,115.1 666.1,114.1 C666.2,113.1 666.3,112.1 666.5,111.1 C666.7,110.1 666.9,109.1 667.1,108.1 C667.3,107.1 667.5,106.1 667.7,105.1 C668.0,104.1 668.2,103.1 668.5,102.1 C668.8,101.1 669.0,100.1 669.3,99.1 C669.7,98.1 670.0,97.1 670.3,96.1 C670.6,95.1 671.0,94.1 671.3,93.1 C671.7,92.1 672.0,91.1 672.4,90.1 C672.8,89.1 673.2,88.1 673.6,87.1 C674.0,86.1 674.3,85.1 674.7,84.1 C675.1,83.1 675.6,82.1 676.0,81.1 C676.4,80.1 676.8,79.1 677.2,78.1 C677.6,77.1 678.0,76.1 678.4,75.1 C678.9,74.1 679.3,73.0 679.7,72.0 C680.1,71.0 680.5,70.0 680.9,69.0 C681.3,68.0 681.7,67.0 682.1,66.0 C682.5,65.0 682.9,64.0 683.2,63.0 C683.6,62.0 684.0,61.0 684.4,60.0 C684.7,59.0 685.1,58.0 685.4,57.0 C685.7,56.0 686.1,55.0 686.4,54.0 C686.7,53.0 687.0,52.0 687.3,51.0 C687.5,50.0 687.8,49.0 688.0,48.0 C688.2,47.0 688.3,46.0 688.5,45.0 C688.7,44.0 688.8,43.0 688.9,42.0 C689.0,41.0 689.1,40.0 689.3,39.0 C689.4,38.0 689.4,37.0 689.5,36.0 C689.7,35.0 689.9,34.0 690.0,33.0 C690.1,32.0 690.1,31.0 690.1,30.0 C690.2,29.0 690.2,28.0 690.3,27.0 C690.3,26.0 690.4,24.5 690.4,24.0 Z" fill="#cfcfcf" stroke="#6f6f6f" stroke-width="1.85" stroke-linejoin="round"/>
<ellipse cx="691.2" cy="70.6" rx="3.0" ry="2.05" fill="#6a6a6a"/>
<ellipse cx="691.2" cy="81.1" rx="3.0" ry="2.05" fill="#6a6a6a"/>
<ellipse cx="691.2" cy="101.8" rx="3.0" ry="2.05" fill="#6a6a6a"/>
<ellipse cx="691.2" cy="107.7" rx="3.0" ry="2.05" fill="#6a6a6a"/>
<ellipse cx="691.2" cy="111.1" rx="3.0" ry="2.05" fill="#6a6a6a"/>
<ellipse cx="691.2" cy="118.7" rx="3.0" ry="2.05" fill="#6a6a6a"/>
<ellipse cx="691.2" cy="123.3" rx="3.0" ry="2.05" fill="#6a6a6a"/>
<ellipse cx="691.2" cy="127.6" rx="3.0" ry="2.05" fill="#6a6a6a"/>
<ellipse cx="691.2" cy="141.5" rx="3.0" ry="2.05" fill="#6a6a6a"/>
<ellipse cx="691.2" cy="150.8" rx="3.0" ry="2.05" fill="#6a6a6a"/>
<ellipse cx="691.2" cy="153.3" rx="3.0" ry="2.05" fill="#6a6a6a"/>
<ellipse cx="691.2" cy="160.0" rx="3.0" ry="2.05" fill="#6a6a6a"/>
<ellipse cx="691.2" cy="163.4" rx="3.0" ry="2.05" fill="#6a6a6a"/>
<ellipse cx="691.2" cy="201.9" rx="3.0" ry="2.05" fill="#6a6a6a"/>
<ellipse cx="691.2" cy="207.3" rx="3.0" ry="2.05" fill="#6a6a6a"/>
<ellipse cx="691.2" cy="210.7" rx="3.0" ry="2.05" fill="#6a6a6a"/>
<ellipse cx="691.2" cy="214.0" rx="3.0" ry="2.05" fill="#6a6a6a"/>
<ellipse cx="691.2" cy="217.4" rx="3.0" ry="2.05" fill="#6a6a6a"/>
<ellipse cx="691.2" cy="222.5" rx="3.0" ry="2.05" fill="#6a6a6a"/>
<ellipse cx="691.2" cy="230.5" rx="3.0" ry="2.05" fill="#6a6a6a"/>
<ellipse cx="691.2" cy="237.7" rx="3.0" ry="2.05" fill="#6a6a6a"/>
<ellipse cx="691.2" cy="244.5" rx="3.0" ry="2.05" fill="#6a6a6a"/>
<ellipse cx="691.2" cy="261.3" rx="3.0" ry="2.05" fill="#6a6a6a"/>
<ellipse cx="691.2" cy="269.8" rx="3.0" ry="2.05" fill="#6a6a6a"/>
<ellipse cx="691.2" cy="277.4" rx="3.0" ry="2.05" fill="#6a6a6a"/>
<ellipse cx="691.2" cy="279.9" rx="3.0" ry="2.05" fill="#6a6a6a"/>
<ellipse cx="691.2" cy="282.4" rx="3.0" ry="2.05" fill="#6a6a6a"/>
<ellipse cx="691.2" cy="290.9" rx="3.0" ry="2.05" fill="#6a6a6a"/>
<ellipse cx="691.2" cy="296.8" rx="3.0" ry="2.05" fill="#6a6a6a"/>
<ellipse cx="691.2" cy="299.3" rx="3.0" ry="2.05" fill="#6a6a6a"/>
<ellipse cx="691.2" cy="301.8" rx="3.0" ry="2.05" fill="#6a6a6a"/>
<ellipse cx="691.2" cy="304.4" rx="3.0" ry="2.05" fill="#6a6a6a"/>
<ellipse cx="691.2" cy="328.0" rx="3.0" ry="2.05" fill="#6a6a6a"/>
<ellipse cx="691.2" cy="350.3" rx="3.0" ry="2.05" fill="#6a6a6a"/>
<ellipse cx="691.2" cy="373.2" rx="3.0" ry="2.05" fill="#6a6a6a"/>
<ellipse cx="691.2" cy="253.2" rx="8.5" ry="5.6" fill="#fff" stroke="#000" stroke-width="1.6"/>
<path d="M820.20,24.00 C820.2,24.5 820.2,26.0 820.1,27.0 C820.1,28.0 820.1,29.0 820.1,30.0 C820.0,31.0 820.0,32.0 820.0,33.1 C820.0,34.1 820.2,35.1 820.2,36.1 C820.3,37.1 820.3,38.1 820.4,39.1 C820.4,40.1 820.5,41.1 820.6,42.1 C820.7,43.1 820.7,44.1 820.8,45.1 C820.9,46.1 821.0,47.1 821.1,48.1 C821.2,49.2 821.3,50.2 821.5,51.2 C821.7,52.2 821.9,53.2 822.1,54.2 C822.3,55.2 822.5,56.2 822.7,57.2 C823.0,58.2 823.2,59.2 823.5,60.2 C823.7,61.2 824.0,62.2 824.3,63.2 C824.5,64.2 824.8,65.3 825.1,66.3 C825.4,67.3 825.7,68.3 826.0,69.3 C826.3,70.3 826.6,71.3 826.9,72.3 C827.2,73.3 827.5,74.3 827.9,75.3 C828.2,76.3 828.5,77.3 828.8,78.3 C829.2,79.3 829.5,80.3 829.8,81.3 C830.2,82.4 830.5,83.4 830.8,84.4 C831.2,85.4 831.5,86.4 831.8,87.4 C832.2,88.4 832.5,89.4 832.8,90.4 C833.1,91.4 833.5,92.4 833.8,93.4 C834.1,94.4 834.4,95.4 834.7,96.4 C835.0,97.4 835.4,98.5 835.7,99.5 C836.0,100.5 836.3,101.5 836.5,102.5 C836.8,103.5 837.1,104.5 837.4,105.5 C837.6,106.5 837.9,107.5 838.2,108.5 C838.4,109.5 838.7,110.5 838.9,111.5 C839.1,112.5 839.4,113.5 839.6,114.5 C839.8,115.6 840.0,116.6 840.3,117.6 C840.5,118.6 840.7,119.6 840.9,120.6 C841.1,121.6 841.3,122.6 841.5,123.6 C841.7,124.6 841.8,125.6 842.0,126.6 C842.2,127.6 842.4,128.6 842.6,129.6 C842.7,130.6 842.9,131.7 843.1,132.7 C843.2,133.7 843.4,134.7 843.6,135.7 C843.7,136.7 843.9,137.7 844.0,138.7 C844.2,139.7 844.4,140.7 844.5,141.7 C844.7,142.7 844.8,143.7 845.0,144.7 C845.1,145.7 845.3,146.7 845.4,147.8 C845.6,148.8 845.7,149.8 845.9,150.8 C846.0,151.8 846.2,152.8 846.3,153.8 C846.5,154.8 846.6,155.8 846.8,156.8 C847.0,157.8 847.1,158.8 847.3,159.8 C847.4,160.8 847.6,161.8 847.8,162.8 C847.9,163.8 848.1,164.9 848.3,165.9 C848.4,166.9 848.6,167.9 848.8,168.9 C849.0,169.9 849.2,170.9 849.3,171.9 C849.5,172.9 849.7,173.9 849.9,174.9 C850.1,175.9 850.3,176.9 850.5,177.9 C850.7,178.9 850.9,179.9 851.1,181.0 C851.2,182.0 851.4,183.0 851.6,184.0 C851.8,185.0 852.0,186.0 852.2,187.0 C852.4,188.0 852.7,189.0 852.9,190.0 C853.1,191.0 853.3,192.0 853.5,193.0 C853.7,194.0 853.9,195.0 854.1,196.0 C854.3,197.1 854.5,198.1 854.7,199.1 C854.9,200.1 855.1,201.1 855.3,202.1 C855.5,203.1 855.8,204.1 856.0,205.1 C856.2,206.1 856.4,207.1 856.6,208.1 C856.8,209.1 857.0,210.1 857.2,211.1 C857.4,212.1 857.6,213.1 857.8,214.2 C858.0,215.2 858.2,216.2 858.4,217.2 C858.6,218.2 858.8,219.2 859.0,220.2 C859.2,221.2 859.4,222.2 859.6,223.2 C859.8,224.2 860.0,225.2 860.2,226.2 C860.4,227.2 860.6,228.2 860.7,229.2 C860.9,230.3 861.1,231.3 861.3,232.3 C861.5,233.3 861.6,234.3 861.8,235.3 C862.0,236.3 862.1,237.3 862.3,238.3 C862.5,239.3 862.6,240.3 862.8,241.3 C862.9,242.3 863.1,243.3 863.2,244.3 C863.4,245.3 863.5,246.3 863.6,247.4 C863.8,248.4 863.9,249.4 864.0,250.4 C864.2,251.4 864.3,252.4 864.4,253.4 C864.5,254.4 864.6,255.4 864.7,256.4 C864.8,257.4 864.9,258.4 865.0,259.4 C865.1,260.4 865.1,261.4 865.2,262.4 C865.3,263.5 865.4,264.5 865.4,265.5 C865.5,266.5 865.5,267.5 865.6,268.5 C865.6,269.5 865.6,270.5 865.7,271.5 C865.7,272.5 865.7,273.5 865.7,274.5 C865.7,275.5 865.7,276.5 865.7,277.5 C865.8,278.5 865.7,279.6 865.7,280.6 C865.7,281.6 865.7,282.6 865.7,283.6 C865.7,284.6 865.7,285.6 865.7,286.6 C865.6,287.6 865.6,288.6 865.6,289.6 C865.6,290.6 865.5,291.6 865.5,292.6 C865.5,293.6 865.5,294.6 865.5,295.6 C865.4,296.7 865.4,297.7 865.4,298.7 C865.4,299.7 865.4,300.7 865.3,301.7 C865.3,302.7 865.3,303.7 865.3,304.7 C865.3,305.7 865.3,306.7 865.3,307.7 C865.3,308.7 865.3,309.7 865.3,310.7 C865.3,311.7 865.3,312.8 865.4,313.8 C865.4,314.8 865.4,315.8 865.5,316.8 C865.5,317.8 865.5,318.8 865.6,319.8 C865.7,320.8 865.7,321.8 865.8,322.8 C865.8,323.8 865.9,324.8 866.0,325.8 C866.0,326.8 866.1,327.8 866.1,328.9 C866.2,329.9 866.2,330.9 866.2,331.9 C866.2,332.9 866.3,333.9 866.2,334.9 C866.2,335.9 866.2,336.9 866.1,337.9 C866.0,338.9 865.9,339.9 865.8,340.9 C865.7,341.9 865.5,342.9 865.3,343.9 C865.1,344.9 864.9,346.0 864.6,347.0 C864.3,348.0 864.0,349.0 863.6,350.0 C863.3,351.0 862.8,352.0 862.4,353.0 C861.9,354.0 861.4,355.0 860.9,356.0 C860.4,357.0 859.8,358.0 859.2,359.0 C858.6,360.0 858.0,361.0 857.3,362.1 C856.6,363.1 856.0,364.1 855.2,365.1 C854.5,366.1 853.8,367.1 853.1,368.1 C852.3,369.1 851.5,370.1 850.8,371.1 C850.0,372.1 849.2,373.1 848.4,374.1 C847.6,375.1 846.8,376.1 846.0,377.1 C845.1,378.1 844.3,379.2 843.5,380.2 C842.7,381.2 841.9,382.2 841.0,383.2 C840.2,384.2 839.4,385.2 838.6,386.2 C837.8,387.2 837.0,388.2 836.2,389.2 C835.5,390.2 834.7,391.2 833.9,392.2 C833.2,393.2 832.5,394.2 831.8,395.3 C831.1,396.3 830.5,397.3 829.9,398.3 C829.3,399.3 828.8,400.3 828.2,401.3 C827.7,402.3 827.2,403.3 826.8,404.3 C826.4,405.3 826.0,406.3 825.6,407.3 C825.3,408.3 824.8,409.3 824.4,410.3 C824.0,411.4 823.6,412.4 823.2,413.4 C822.9,414.4 822.5,415.4 822.2,416.4 C821.9,417.4 821.5,418.9 821.4,419.4 L817.40,419.40 C817.3,418.9 816.9,417.4 816.6,416.4 C816.3,415.4 815.9,414.4 815.6,413.4 C815.2,412.4 814.8,411.4 814.4,410.3 C814.0,409.3 813.5,408.3 813.2,407.3 C812.8,406.3 812.4,405.3 812.0,404.3 C811.6,403.3 811.1,402.3 810.6,401.3 C810.0,400.3 809.5,399.3 808.9,398.3 C808.3,397.3 807.7,396.3 807.0,395.3 C806.3,394.2 805.6,393.2 804.9,392.2 C804.1,391.2 803.3,390.2 802.6,389.2 C801.8,388.2 801.0,387.2 800.2,386.2 C799.4,385.2 798.6,384.2 797.8,383.2 C796.9,382.2 796.1,381.2 795.3,380.2 C794.5,379.2 793.7,378.1 792.8,377.1 C792.0,376.1 791.2,375.1 790.4,374.1 C789.6,373.1 788.8,372.1 788.0,371.1 C787.3,370.1 786.5,369.1 785.7,368.1 C785.0,367.1 784.3,366.1 783.6,365.1 C782.8,364.1 782.2,363.1 781.5,362.1 C780.8,361.0 780.2,360.0 779.6,359.0 C779.0,358.0 778.4,357.0 777.9,356.0 C777.4,355.0 776.9,354.0 776.4,353.0 C776.0,352.0 775.5,351.0 775.2,350.0 C774.8,349.0 774.5,348.0 774.2,347.0 C773.9,346.0 773.7,344.9 773.5,343.9 C773.3,342.9 773.1,341.9 773.0,340.9 C772.9,339.9 772.8,338.9 772.7,337.9 C772.6,336.9 772.6,335.9 772.6,334.9 C772.5,333.9 772.6,332.9 772.6,331.9 C772.6,330.9 772.6,329.9 772.7,328.9 C772.7,327.8 772.8,326.8 772.8,325.8 C772.9,324.8 773.0,323.8 773.0,322.8 C773.1,321.8 773.1,320.8 773.2,319.8 C773.3,318.8 773.3,317.8 773.3,316.8 C773.4,315.8 773.4,314.8 773.4,313.8 C773.5,312.8 773.5,311.7 773.5,310.7 C773.5,309.7 773.5,308.7 773.5,307.7 C773.5,306.7 773.5,305.7 773.5,304.7 C773.5,303.7 773.5,302.7 773.5,301.7 C773.4,300.7 773.4,299.7 773.4,298.7 C773.4,297.7 773.4,296.7 773.3,295.6 C773.3,294.6 773.3,293.6 773.3,292.6 C773.3,291.6 773.2,290.6 773.2,289.6 C773.2,288.6 773.2,287.6 773.1,286.6 C773.1,285.6 773.1,284.6 773.1,283.6 C773.1,282.6 773.1,281.6 773.1,280.6 C773.1,279.6 773.0,278.5 773.1,277.5 C773.1,276.5 773.1,275.5 773.1,274.5 C773.1,273.5 773.1,272.5 773.1,271.5 C773.2,270.5 773.2,269.5 773.2,268.5 C773.3,267.5 773.3,266.5 773.4,265.5 C773.4,264.5 773.5,263.5 773.6,262.4 C773.7,261.4 773.7,260.4 773.8,259.4 C773.9,258.4 774.0,257.4 774.1,256.4 C774.2,255.4 774.3,254.4 774.4,253.4 C774.5,252.4 774.6,251.4 774.8,250.4 C774.9,249.4 775.0,248.4 775.2,247.4 C775.3,246.3 775.4,245.3 775.6,244.3 C775.7,243.3 775.9,242.3 776.0,241.3 C776.2,240.3 776.3,239.3 776.5,238.3 C776.7,237.3 776.8,236.3 777.0,235.3 C777.2,234.3 777.3,233.3 777.5,232.3 C777.7,231.3 777.9,230.3 778.1,229.2 C778.2,228.2 778.4,227.2 778.6,226.2 C778.8,225.2 779.0,224.2 779.2,223.2 C779.4,222.2 779.6,221.2 779.8,220.2 C780.0,219.2 780.2,218.2 780.4,217.2 C780.6,216.2 780.8,215.2 781.0,214.2 C781.2,213.1 781.4,212.1 781.6,211.1 C781.8,210.1 782.0,209.1 782.2,208.1 C782.4,207.1 782.6,206.1 782.8,205.1 C783.0,204.1 783.3,203.1 783.5,202.1 C783.7,201.1 783.9,200.1 784.1,199.1 C784.3,198.1 784.5,197.1 784.7,196.0 C784.9,195.0 785.1,194.0 785.3,193.0 C785.5,192.0 785.7,191.0 785.9,190.0 C786.1,189.0 786.4,188.0 786.6,187.0 C786.8,186.0 787.0,185.0 787.2,184.0 C787.4,183.0 787.6,182.0 787.7,181.0 C787.9,179.9 788.1,178.9 788.3,177.9 C788.5,176.9 788.7,175.9 788.9,174.9 C789.1,173.9 789.3,172.9 789.5,171.9 C789.6,170.9 789.8,169.9 790.0,168.9 C790.2,167.9 790.4,166.9 790.5,165.9 C790.7,164.9 790.9,163.8 791.0,162.8 C791.2,161.8 791.4,160.8 791.5,159.8 C791.7,158.8 791.8,157.8 792.0,156.8 C792.2,155.8 792.3,154.8 792.5,153.8 C792.6,152.8 792.8,151.8 792.9,150.8 C793.1,149.8 793.2,148.8 793.4,147.8 C793.5,146.7 793.7,145.7 793.8,144.7 C794.0,143.7 794.1,142.7 794.3,141.7 C794.4,140.7 794.6,139.7 794.8,138.7 C794.9,137.7 795.1,136.7 795.2,135.7 C795.4,134.7 795.6,133.7 795.7,132.7 C795.9,131.7 796.1,130.6 796.2,129.6 C796.4,128.6 796.6,127.6 796.8,126.6 C797.0,125.6 797.1,124.6 797.3,123.6 C797.5,122.6 797.7,121.6 797.9,120.6 C798.1,119.6 798.3,118.6 798.5,117.6 C798.8,116.6 799.0,115.6 799.2,114.5 C799.4,113.5 799.7,112.5 799.9,111.5 C800.1,110.5 800.4,109.5 800.6,108.5 C800.9,107.5 801.2,106.5 801.4,105.5 C801.7,104.5 802.0,103.5 802.3,102.5 C802.5,101.5 802.8,100.5 803.1,99.5 C803.4,98.5 803.8,97.4 804.1,96.4 C804.4,95.4 804.7,94.4 805.0,93.4 C805.3,92.4 805.7,91.4 806.0,90.4 C806.3,89.4 806.6,88.4 807.0,87.4 C807.3,86.4 807.6,85.4 808.0,84.4 C808.3,83.4 808.6,82.4 809.0,81.3 C809.3,80.3 809.6,79.3 810.0,78.3 C810.3,77.3 810.6,76.3 810.9,75.3 C811.3,74.3 811.6,73.3 811.9,72.3 C812.2,71.3 812.5,70.3 812.8,69.3 C813.1,68.3 813.4,67.3 813.7,66.3 C814.0,65.3 814.3,64.2 814.5,63.2 C814.8,62.2 815.1,61.2 815.3,60.2 C815.6,59.2 815.8,58.2 816.1,57.2 C816.3,56.2 816.5,55.2 816.7,54.2 C816.9,53.2 817.1,52.2 817.3,51.2 C817.5,50.2 817.6,49.2 817.7,48.1 C817.8,47.1 817.9,46.1 818.0,45.1 C818.1,44.1 818.1,43.1 818.2,42.1 C818.3,41.1 818.4,40.1 818.4,39.1 C818.5,38.1 818.5,37.1 818.6,36.1 C818.6,35.1 818.8,34.1 818.8,33.1 C818.8,32.0 818.8,31.0 818.7,30.0 C818.7,29.0 818.7,28.0 818.7,27.0 C818.6,26.0 818.6,24.5 818.6,24.0 Z" fill="#d3c4f6" stroke="#6f6f6f" stroke-width="1.85" stroke-linejoin="round"/>
<ellipse cx="819.4" cy="70.6" rx="3.0" ry="2.05" fill="#6a6a6a"/>
<ellipse cx="819.4" cy="102.3" rx="3.0" ry="2.05" fill="#6a6a6a"/>
<ellipse cx="819.4" cy="112.0" rx="3.0" ry="2.05" fill="#6a6a6a"/>
<ellipse cx="819.4" cy="114.8" rx="3.0" ry="2.05" fill="#6a6a6a"/>
<ellipse cx="819.4" cy="128.8" rx="3.0" ry="2.05" fill="#6a6a6a"/>
<ellipse cx="819.4" cy="136.4" rx="3.0" ry="2.05" fill="#6a6a6a"/>
<ellipse cx="819.4" cy="141.1" rx="3.0" ry="2.05" fill="#6a6a6a"/>
<ellipse cx="819.4" cy="147.9" rx="3.0" ry="2.05" fill="#6a6a6a"/>
<ellipse cx="819.4" cy="152.4" rx="3.0" ry="2.05" fill="#6a6a6a"/>
<ellipse cx="819.4" cy="159.7" rx="3.0" ry="2.05" fill="#6a6a6a"/>
<ellipse cx="819.4" cy="165.1" rx="3.0" ry="2.05" fill="#6a6a6a"/>
<ellipse cx="819.4" cy="168.5" rx="3.0" ry="2.05" fill="#6a6a6a"/>
<ellipse cx="819.4" cy="171.8" rx="3.0" ry="2.05" fill="#6a6a6a"/>
<ellipse cx="819.4" cy="174.4" rx="3.0" ry="2.05" fill="#6a6a6a"/>
<ellipse cx="819.4" cy="187.9" rx="3.0" ry="2.05" fill="#6a6a6a"/>
<ellipse cx="819.4" cy="191.2" rx="3.0" ry="2.05" fill="#6a6a6a"/>
<ellipse cx="819.4" cy="198.0" rx="3.0" ry="2.05" fill="#6a6a6a"/>
<ellipse cx="819.4" cy="201.4" rx="3.0" ry="2.05" fill="#6a6a6a"/>
<ellipse cx="819.4" cy="203.9" rx="3.0" ry="2.05" fill="#6a6a6a"/>
<ellipse cx="819.4" cy="207.3" rx="3.0" ry="2.05" fill="#6a6a6a"/>
<ellipse cx="819.4" cy="215.7" rx="3.0" ry="2.05" fill="#6a6a6a"/>
<ellipse cx="819.4" cy="219.1" rx="3.0" ry="2.05" fill="#6a6a6a"/>
<ellipse cx="819.4" cy="222.0" rx="3.0" ry="2.05" fill="#6a6a6a"/>
<ellipse cx="819.4" cy="226.7" rx="3.0" ry="2.05" fill="#6a6a6a"/>
<ellipse cx="819.4" cy="233.5" rx="3.0" ry="2.05" fill="#6a6a6a"/>
<ellipse cx="819.4" cy="236.9" rx="3.0" ry="2.05" fill="#6a6a6a"/>
<ellipse cx="819.4" cy="247.0" rx="3.0" ry="2.05" fill="#6a6a6a"/>
<ellipse cx="819.4" cy="267.2" rx="3.0" ry="2.05" fill="#6a6a6a"/>
<ellipse cx="819.4" cy="273.1" rx="3.0" ry="2.05" fill="#6a6a6a"/>
<ellipse cx="819.4" cy="276.5" rx="3.0" ry="2.05" fill="#6a6a6a"/>
<ellipse cx="819.4" cy="279.9" rx="3.0" ry="2.05" fill="#6a6a6a"/>
<ellipse cx="819.4" cy="283.3" rx="3.0" ry="2.05" fill="#6a6a6a"/>
<ellipse cx="819.4" cy="290.9" rx="3.0" ry="2.05" fill="#6a6a6a"/>
<ellipse cx="819.4" cy="296.8" rx="3.0" ry="2.05" fill="#6a6a6a"/>
<ellipse cx="819.4" cy="304.4" rx="3.0" ry="2.05" fill="#6a6a6a"/>
<ellipse cx="819.4" cy="307.7" rx="3.0" ry="2.05" fill="#6a6a6a"/>
<ellipse cx="819.4" cy="311.1" rx="3.0" ry="2.05" fill="#6a6a6a"/>
<ellipse cx="819.4" cy="321.2" rx="3.0" ry="2.05" fill="#6a6a6a"/>
<ellipse cx="819.4" cy="324.6" rx="3.0" ry="2.05" fill="#6a6a6a"/>
<ellipse cx="819.4" cy="328.0" rx="3.0" ry="2.05" fill="#6a6a6a"/>
<ellipse cx="819.4" cy="349.1" rx="3.0" ry="2.05" fill="#6a6a6a"/>
<ellipse cx="819.4" cy="350.8" rx="3.0" ry="2.05" fill="#6a6a6a"/>
<ellipse cx="819.4" cy="373.2" rx="3.0" ry="2.05" fill="#6a6a6a"/>
<ellipse cx="819.4" cy="256.8" rx="8.5" ry="5.6" fill="#fff" stroke="#000" stroke-width="1.6"/>
<path d="M948.40,51.30 C948.5,51.8 948.7,53.3 948.8,54.3 C948.9,55.3 949.1,56.3 949.2,57.3 C949.3,58.3 949.4,59.3 949.6,60.3 C949.8,61.3 950.0,62.3 950.2,63.3 C950.5,64.3 950.7,65.3 951.0,66.3 C951.3,67.3 951.5,68.3 951.8,69.3 C952.1,70.3 952.4,71.3 952.7,72.3 C953.0,73.3 953.2,74.3 953.5,75.3 C953.8,76.3 954.1,77.3 954.4,78.3 C954.8,79.3 955.1,80.3 955.4,81.3 C955.8,82.3 956.1,83.3 956.4,84.3 C956.8,85.3 957.1,86.3 957.5,87.3 C957.8,88.3 958.1,89.3 958.5,90.3 C958.8,91.3 959.2,92.3 959.5,93.3 C959.9,94.3 960.2,95.3 960.5,96.3 C960.9,97.4 961.2,98.4 961.5,99.4 C961.9,100.4 962.2,101.4 962.5,102.4 C962.8,103.4 963.1,104.4 963.4,105.4 C963.7,106.4 964.0,107.4 964.3,108.4 C964.6,109.4 964.9,110.4 965.2,111.4 C965.4,112.4 965.7,113.4 965.9,114.4 C966.2,115.4 966.4,116.4 966.6,117.4 C966.8,118.4 967.0,119.4 967.2,120.4 C967.4,121.4 967.6,122.4 967.7,123.4 C967.9,124.4 968.0,125.4 968.1,126.4 C968.2,127.4 968.3,128.4 968.4,129.4 C968.5,130.4 968.5,131.4 968.6,132.4 C968.6,133.4 968.6,134.4 968.6,135.4 C968.6,136.4 968.6,137.4 968.6,138.4 C968.5,139.4 968.5,140.4 968.4,141.4 C968.3,142.4 968.2,143.4 968.1,144.4 C968.0,145.4 967.9,146.4 967.8,147.4 C967.6,148.4 967.5,149.4 967.3,150.4 C967.2,151.4 967.0,152.4 966.8,153.4 C966.6,154.4 966.4,155.4 966.2,156.4 C966.0,157.4 965.7,158.4 965.5,159.4 C965.3,160.4 965.0,161.4 964.8,162.4 C964.5,163.4 964.3,164.4 964.0,165.4 C963.8,166.4 963.5,167.4 963.3,168.4 C963.1,169.4 962.8,170.4 962.6,171.4 C962.4,172.4 962.2,173.4 962.1,174.4 C961.9,175.4 961.8,176.4 961.7,177.4 C961.6,178.4 961.5,179.4 961.5,180.4 C961.5,181.4 961.5,182.4 961.5,183.4 C961.5,184.4 961.6,185.4 961.7,186.4 C961.8,187.4 962.0,188.4 962.1,189.5 C962.3,190.5 962.5,191.5 962.7,192.5 C963.0,193.5 963.2,194.5 963.5,195.5 C963.8,196.5 964.1,197.5 964.4,198.5 C964.7,199.5 965.1,200.5 965.4,201.5 C965.8,202.5 966.2,203.5 966.6,204.5 C967.0,205.5 967.4,206.5 967.9,207.5 C968.3,208.5 968.8,209.5 969.2,210.5 C969.7,211.5 970.2,212.5 970.7,213.5 C971.1,214.5 971.6,215.5 972.2,216.5 C972.7,217.5 973.2,218.5 973.7,219.5 C974.2,220.5 974.8,221.5 975.3,222.5 C975.8,223.5 976.4,224.5 976.9,225.5 C977.4,226.5 978.0,227.5 978.5,228.5 C979.0,229.5 979.6,230.5 980.1,231.5 C980.6,232.5 981.2,233.5 981.7,234.5 C982.2,235.5 982.8,236.5 983.3,237.5 C983.8,238.5 984.3,239.5 984.8,240.5 C985.4,241.5 985.9,242.5 986.4,243.5 C986.9,244.5 987.4,245.5 987.9,246.5 C988.4,247.5 989.0,248.5 989.5,249.5 C990.0,250.5 990.5,251.5 991.0,252.5 C991.5,253.5 991.9,254.5 992.4,255.5 C992.9,256.5 993.4,257.5 993.9,258.5 C994.4,259.5 994.8,260.5 995.3,261.5 C995.8,262.5 996.3,263.5 996.7,264.5 C997.2,265.5 997.6,266.5 998.1,267.5 C998.5,268.5 999.0,269.5 999.4,270.5 C999.9,271.5 1000.3,272.5 1000.7,273.5 C1001.2,274.5 1001.6,275.5 1002.0,276.5 C1002.4,277.5 1002.9,278.5 1003.3,279.5 C1003.7,280.6 1004.1,281.6 1004.5,282.6 C1004.9,283.6 1005.3,284.6 1005.6,285.6 C1006.0,286.6 1006.4,287.6 1006.7,288.6 C1007.1,289.6 1007.5,290.6 1007.8,291.6 C1008.1,292.6 1008.5,293.6 1008.8,294.6 C1009.1,295.6 1009.4,296.6 1009.7,297.6 C1010.0,298.6 1010.2,299.6 1010.5,300.6 C1010.7,301.6 1011.0,302.6 1011.2,303.6 C1011.4,304.6 1011.6,305.6 1011.8,306.6 C1012.0,307.6 1012.2,308.6 1012.3,309.6 C1012.5,310.6 1012.6,311.6 1012.7,312.6 C1012.8,313.6 1012.9,314.6 1012.9,315.6 C1013.0,316.6 1013.0,317.6 1013.1,318.6 C1013.1,319.6 1013.1,320.6 1013.0,321.6 C1013.0,322.6 1012.9,323.6 1012.9,324.6 C1012.8,325.6 1012.7,326.6 1012.5,327.6 C1012.4,328.6 1012.2,329.6 1012.0,330.6 C1011.8,331.6 1011.6,332.6 1011.3,333.6 C1011.1,334.6 1010.8,335.6 1010.5,336.6 C1010.2,337.6 1009.8,338.6 1009.5,339.6 C1009.1,340.6 1008.7,341.6 1008.3,342.6 C1007.8,343.6 1007.4,344.6 1006.9,345.6 C1006.4,346.6 1005.9,347.6 1005.4,348.6 C1004.9,349.6 1004.3,350.6 1003.7,351.6 C1003.1,352.6 1002.5,353.6 1001.9,354.6 C1001.3,355.6 1000.6,356.6 999.9,357.6 C999.2,358.6 998.5,359.6 997.8,360.6 C997.0,361.6 996.3,362.6 995.5,363.6 C994.7,364.6 993.9,365.6 993.0,366.6 C992.2,367.6 991.3,368.6 990.4,369.6 C989.5,370.6 988.6,371.6 987.7,372.7 C986.7,373.7 985.7,374.7 984.8,375.7 C983.8,376.7 982.7,377.7 981.7,378.7 C980.7,379.7 979.6,380.7 978.5,381.7 C977.5,382.7 976.4,383.7 975.3,384.7 C974.2,385.7 973.1,386.7 972.1,387.7 C971.0,388.7 969.9,389.7 968.8,390.7 C967.8,391.7 966.7,392.7 965.7,393.7 C964.7,394.7 963.6,395.7 962.7,396.7 C961.8,397.7 961.0,398.7 960.3,399.7 C959.5,400.7 958.8,401.7 958.2,402.7 C957.5,403.7 956.8,404.7 956.2,405.7 C955.7,406.7 955.3,407.7 954.8,408.7 C954.4,409.7 954.0,410.7 953.6,411.7 C953.2,412.7 952.8,413.7 952.4,414.7 C952.1,415.7 951.7,417.2 951.6,417.7 L943.60,417.70 C943.5,417.2 943.1,415.7 942.8,414.7 C942.4,413.7 942.0,412.7 941.6,411.7 C941.2,410.7 940.8,409.7 940.4,408.7 C939.9,407.7 939.5,406.7 939.0,405.7 C938.4,404.7 937.7,403.7 937.0,402.7 C936.4,401.7 935.7,400.7 934.9,399.7 C934.2,398.7 933.4,397.7 932.5,396.7 C931.6,395.7 930.5,394.7 929.5,393.7 C928.5,392.7 927.4,391.7 926.4,390.7 C925.3,389.7 924.2,388.7 923.1,387.7 C922.1,386.7 921.0,385.7 919.9,384.7 C918.8,383.7 917.7,382.7 916.7,381.7 C915.6,380.7 914.5,379.7 913.5,378.7 C912.5,377.7 911.4,376.7 910.4,375.7 C909.5,374.7 908.5,373.7 907.5,372.7 C906.6,371.6 905.7,370.6 904.8,369.6 C903.9,368.6 903.0,367.6 902.2,366.6 C901.3,365.6 900.5,364.6 899.7,363.6 C898.9,362.6 898.2,361.6 897.4,360.6 C896.7,359.6 896.0,358.6 895.3,357.6 C894.6,356.6 893.9,355.6 893.3,354.6 C892.7,353.6 892.1,352.6 891.5,351.6 C890.9,350.6 890.3,349.6 889.8,348.6 C889.3,347.6 888.8,346.6 888.3,345.6 C887.8,344.6 887.4,343.6 886.9,342.6 C886.5,341.6 886.1,340.6 885.7,339.6 C885.4,338.6 885.0,337.6 884.7,336.6 C884.4,335.6 884.1,334.6 883.9,333.6 C883.6,332.6 883.4,331.6 883.2,330.6 C883.0,329.6 882.8,328.6 882.7,327.6 C882.5,326.6 882.4,325.6 882.3,324.6 C882.3,323.6 882.2,322.6 882.2,321.6 C882.1,320.6 882.1,319.6 882.1,318.6 C882.2,317.6 882.2,316.6 882.3,315.6 C882.3,314.6 882.4,313.6 882.5,312.6 C882.6,311.6 882.7,310.6 882.9,309.6 C883.0,308.6 883.2,307.6 883.4,306.6 C883.6,305.6 883.8,304.6 884.0,303.6 C884.2,302.6 884.5,301.6 884.7,300.6 C885.0,299.6 885.2,298.6 885.5,297.6 C885.8,296.6 886.1,295.6 886.4,294.6 C886.7,293.6 887.1,292.6 887.4,291.6 C887.7,290.6 888.1,289.6 888.5,288.6 C888.8,287.6 889.2,286.6 889.6,285.6 C889.9,284.6 890.3,283.6 890.7,282.6 C891.1,281.6 891.5,280.6 891.9,279.5 C892.3,278.5 892.8,277.5 893.2,276.5 C893.6,275.5 894.0,274.5 894.5,273.5 C894.9,272.5 895.3,271.5 895.8,270.5 C896.2,269.5 896.7,268.5 897.1,267.5 C897.6,266.5 898.0,265.5 898.5,264.5 C898.9,263.5 899.4,262.5 899.9,261.5 C900.4,260.5 900.8,259.5 901.3,258.5 C901.8,257.5 902.3,256.5 902.8,255.5 C903.3,254.5 903.7,253.5 904.2,252.5 C904.7,251.5 905.2,250.5 905.7,249.5 C906.2,248.5 906.8,247.5 907.3,246.5 C907.8,245.5 908.3,244.5 908.8,243.5 C909.3,242.5 909.8,241.5 910.4,240.5 C910.9,239.5 911.4,238.5 911.9,237.5 C912.4,236.5 913.0,235.5 913.5,234.5 C914.0,233.5 914.6,232.5 915.1,231.5 C915.6,230.5 916.2,229.5 916.7,228.5 C917.2,227.5 917.8,226.5 918.3,225.5 C918.8,224.5 919.4,223.5 919.9,222.5 C920.4,221.5 921.0,220.5 921.5,219.5 C922.0,218.5 922.5,217.5 923.0,216.5 C923.6,215.5 924.1,214.5 924.5,213.5 C925.0,212.5 925.5,211.5 926.0,210.5 C926.4,209.5 926.9,208.5 927.3,207.5 C927.8,206.5 928.2,205.5 928.6,204.5 C929.0,203.5 929.4,202.5 929.8,201.5 C930.1,200.5 930.5,199.5 930.8,198.5 C931.1,197.5 931.4,196.5 931.7,195.5 C932.0,194.5 932.2,193.5 932.5,192.5 C932.7,191.5 932.9,190.5 933.1,189.5 C933.2,188.4 933.4,187.4 933.5,186.4 C933.6,185.4 933.7,184.4 933.7,183.4 C933.7,182.4 933.7,181.4 933.7,180.4 C933.7,179.4 933.6,178.4 933.5,177.4 C933.4,176.4 933.3,175.4 933.1,174.4 C933.0,173.4 932.8,172.4 932.6,171.4 C932.4,170.4 932.1,169.4 931.9,168.4 C931.7,167.4 931.4,166.4 931.2,165.4 C930.9,164.4 930.7,163.4 930.4,162.4 C930.2,161.4 929.9,160.4 929.7,159.4 C929.5,158.4 929.2,157.4 929.0,156.4 C928.8,155.4 928.6,154.4 928.4,153.4 C928.2,152.4 928.0,151.4 927.9,150.4 C927.7,149.4 927.6,148.4 927.4,147.4 C927.3,146.4 927.2,145.4 927.1,144.4 C927.0,143.4 926.9,142.4 926.8,141.4 C926.7,140.4 926.7,139.4 926.6,138.4 C926.6,137.4 926.6,136.4 926.6,135.4 C926.6,134.4 926.6,133.4 926.6,132.4 C926.7,131.4 926.7,130.4 926.8,129.4 C926.9,128.4 927.0,127.4 927.1,126.4 C927.2,125.4 927.3,124.4 927.5,123.4 C927.6,122.4 927.8,121.4 928.0,120.4 C928.2,119.4 928.4,118.4 928.6,117.4 C928.8,116.4 929.0,115.4 929.3,114.4 C929.5,113.4 929.8,112.4 930.0,111.4 C930.3,110.4 930.6,109.4 930.9,108.4 C931.2,107.4 931.5,106.4 931.8,105.4 C932.1,104.4 932.4,103.4 932.7,102.4 C933.0,101.4 933.3,100.4 933.7,99.4 C934.0,98.4 934.3,97.4 934.7,96.3 C935.0,95.3 935.3,94.3 935.7,93.3 C936.0,92.3 936.4,91.3 936.7,90.3 C937.1,89.3 937.4,88.3 937.7,87.3 C938.1,86.3 938.4,85.3 938.8,84.3 C939.1,83.3 939.4,82.3 939.8,81.3 C940.1,80.3 940.4,79.3 940.8,78.3 C941.1,77.3 941.4,76.3 941.7,75.3 C942.0,74.3 942.2,73.3 942.5,72.3 C942.8,71.3 943.1,70.3 943.4,69.3 C943.7,68.3 943.9,67.3 944.2,66.3 C944.5,65.3 944.7,64.3 945.0,63.3 C945.2,62.3 945.4,61.3 945.6,60.3 C945.8,59.3 945.9,58.3 946.0,57.3 C946.1,56.3 946.3,55.3 946.4,54.3 C946.5,53.3 946.7,51.8 946.8,51.3 Z" fill="#f1b9e0" stroke="#6f6f6f" stroke-width="1.85" stroke-linejoin="round"/>
<ellipse cx="947.6" cy="95.1" rx="3.0" ry="2.05" fill="#6a6a6a"/>
<ellipse cx="947.6" cy="101.3" rx="3.0" ry="2.05" fill="#6a6a6a"/>
<ellipse cx="947.6" cy="104.0" rx="3.0" ry="2.05" fill="#6a6a6a"/>
<ellipse cx="947.6" cy="108.6" rx="3.0" ry="2.05" fill="#6a6a6a"/>
<ellipse cx="947.6" cy="125.5" rx="3.0" ry="2.05" fill="#6a6a6a"/>
<ellipse cx="947.6" cy="128.0" rx="3.0" ry="2.05" fill="#6a6a6a"/>
<ellipse cx="947.6" cy="135.1" rx="3.0" ry="2.05" fill="#6a6a6a"/>
<ellipse cx="947.6" cy="141.1" rx="3.0" ry="2.05" fill="#6a6a6a"/>
<ellipse cx="947.6" cy="146.2" rx="3.0" ry="2.05" fill="#6a6a6a"/>
<ellipse cx="947.6" cy="154.1" rx="3.0" ry="2.05" fill="#6a6a6a"/>
<ellipse cx="947.6" cy="158.7" rx="3.0" ry="2.05" fill="#6a6a6a"/>
<ellipse cx="947.6" cy="160.9" rx="3.0" ry="2.05" fill="#6a6a6a"/>
<ellipse cx="947.6" cy="171.8" rx="3.0" ry="2.05" fill="#6a6a6a"/>
<ellipse cx="947.6" cy="195.5" rx="3.0" ry="2.05" fill="#6a6a6a"/>
<ellipse cx="947.6" cy="211.5" rx="3.0" ry="2.05" fill="#6a6a6a"/>
<ellipse cx="947.6" cy="217.4" rx="3.0" ry="2.05" fill="#6a6a6a"/>
<ellipse cx="947.6" cy="221.6" rx="3.0" ry="2.05" fill="#6a6a6a"/>
<ellipse cx="947.6" cy="226.7" rx="3.0" ry="2.05" fill="#6a6a6a"/>
<ellipse cx="947.6" cy="231.8" rx="3.0" ry="2.05" fill="#6a6a6a"/>
<ellipse cx="947.6" cy="234.3" rx="3.0" ry="2.05" fill="#6a6a6a"/>
<ellipse cx="947.6" cy="236.9" rx="3.0" ry="2.05" fill="#6a6a6a"/>
<ellipse cx="947.6" cy="245.3" rx="3.0" ry="2.05" fill="#6a6a6a"/>
<ellipse cx="947.6" cy="260.5" rx="3.0" ry="2.05" fill="#6a6a6a"/>
<ellipse cx="947.6" cy="285.0" rx="3.0" ry="2.05" fill="#6a6a6a"/>
<ellipse cx="947.6" cy="290.9" rx="3.0" ry="2.05" fill="#6a6a6a"/>
<ellipse cx="947.6" cy="301.0" rx="3.0" ry="2.05" fill="#6a6a6a"/>
<ellipse cx="947.6" cy="303.5" rx="3.0" ry="2.05" fill="#6a6a6a"/>
<ellipse cx="947.6" cy="306.0" rx="3.0" ry="2.05" fill="#6a6a6a"/>
<ellipse cx="947.6" cy="322.9" rx="3.0" ry="2.05" fill="#6a6a6a"/>
<ellipse cx="947.6" cy="325.4" rx="3.0" ry="2.05" fill="#6a6a6a"/>
<ellipse cx="947.6" cy="328.0" rx="3.0" ry="2.05" fill="#6a6a6a"/>
<ellipse cx="947.6" cy="338.9" rx="3.0" ry="2.05" fill="#6a6a6a"/>
<ellipse cx="947.6" cy="349.1" rx="3.0" ry="2.05" fill="#6a6a6a"/>
<ellipse cx="947.6" cy="350.8" rx="3.0" ry="2.05" fill="#6a6a6a"/>
<ellipse cx="947.6" cy="373.2" rx="3.0" ry="2.05" fill="#6a6a6a"/>
<ellipse cx="947.6" cy="277.8" rx="8.5" ry="5.6" fill="#fff" stroke="#000" stroke-width="1.6"/>
<g fill="none" stroke-linecap="square">
<line x1="88" y1="22.3" x2="88" y2="461.3" stroke="#333" stroke-width="1.4"/>
<line x1="83.5" y1="22.3" x2="1055.6" y2="22.3" stroke="#111" stroke-width="1.5"/>
<line x1="1055.6" y1="22.3" x2="1055.6" y2="461.3" stroke="#111" stroke-width="1.5"/>
<line x1="83.5" y1="461.3" x2="1055.6" y2="461.3" stroke="#111" stroke-width="1.5"/>
<line x1="83.5" y1="110.15" x2="88" y2="110.15" stroke="#333" stroke-width="1.3"/>
<line x1="83.5" y1="197.90" x2="88" y2="197.90" stroke="#333" stroke-width="1.3"/>
<line x1="83.5" y1="285.65" x2="88" y2="285.65" stroke="#333" stroke-width="1.3"/>
<line x1="83.5" y1="373.40" x2="88" y2="373.40" stroke="#333" stroke-width="1.3"/>
<line x1="563.1" y1="461.3" x2="563.1" y2="464.6" stroke="#222" stroke-width="1.4"/>
</g>
<text transform="translate(79.5,34.65) scale(1,1.07)" font-size="21.1" text-anchor="end">40</text>
<text transform="translate(79.5,117.55) scale(1,1.07)" font-size="21.1" text-anchor="end">30</text>
<text transform="translate(79.5,205.15) scale(1,1.07)" font-size="21.1" text-anchor="end">20</text>
<text transform="translate(79.5,292.95) scale(1,1.07)" font-size="21.1" text-anchor="end">10</text>
<text transform="translate(79.5,380.85) scale(1,1.07)" font-size="21.1" text-anchor="end">0</text>
<text transform="translate(78.1,462.95) scale(1,1.07)" font-size="21.1" text-anchor="end">-10</text>
<text transform="translate(576.6,15.2) scale(1,1.07)" font-size="21.1" text-anchor="middle">DEKOIS2.0</text>
<text transform="translate(564.8,487.7) scale(1,1.07)" font-size="21.1" text-anchor="middle">Method</text>
<text transform="translate(34.7,268) rotate(-90) scale(1,1.07)" x="0" y="0" font-size="21.1" text-anchor="middle">Enrichment Factor(1.0%EF)</text>
<text transform="translate(0,19) scale(1,1.07)" font-size="21" font-weight="bold">a</text>
<path d="M199.50,638.00 C200.2,638.5 202.1,640.1 204.0,641.1 C205.8,642.1 208.2,643.2 210.7,644.2 C213.1,645.2 216.0,646.3 218.8,647.3 C221.7,648.3 224.7,649.4 227.6,650.4 C230.5,651.4 233.6,652.5 236.2,653.5 C238.9,654.5 241.3,655.5 243.3,656.6 C245.4,657.6 247.3,658.6 248.7,659.7 C250.0,660.7 251.2,661.7 251.6,662.8 C252.0,663.8 251.7,664.8 251.0,665.9 C250.2,666.9 248.7,667.9 247.0,669.0 C245.4,670.0 243.2,671.0 241.0,672.1 C238.9,673.1 236.4,674.1 234.1,675.2 C231.8,676.2 229.4,677.2 227.4,678.3 C225.4,679.3 223.5,680.3 222.1,681.4 C220.8,682.4 219.7,683.4 219.5,684.5 C219.2,685.5 219.5,686.5 220.5,687.5 C221.5,688.6 223.3,689.6 225.6,690.6 C227.8,691.7 230.8,692.7 233.9,693.7 C237.0,694.8 240.8,695.8 244.1,696.8 C247.4,697.9 250.9,698.9 253.5,699.9 C256.1,701.0 258.3,702.0 259.7,703.0 C261.0,704.1 261.6,705.1 261.6,706.1 C261.7,707.2 261.1,708.2 259.7,709.2 C258.4,710.3 256.0,711.3 253.6,712.3 C251.1,713.4 248.1,714.4 245.1,715.4 C242.0,716.4 238.5,717.5 235.4,718.5 C232.4,719.5 229.7,720.6 226.7,721.6 C223.8,722.6 220.8,723.7 217.6,724.7 C214.5,725.7 211.0,726.8 208.0,727.8 C205.0,728.8 200.9,730.4 199.5,730.9 L192.50,730.90 C191.1,730.4 187.0,728.8 184.0,727.8 C181.0,726.8 177.5,725.7 174.4,724.7 C171.2,723.7 168.2,722.6 165.3,721.6 C162.3,720.6 159.6,719.5 156.6,718.5 C153.5,717.5 150.0,716.4 146.9,715.4 C143.9,714.4 140.9,713.4 138.4,712.3 C136.0,711.3 133.6,710.3 132.3,709.2 C130.9,708.2 130.3,707.2 130.4,706.1 C130.4,705.1 131.0,704.1 132.3,703.0 C133.7,702.0 135.9,701.0 138.5,699.9 C141.1,698.9 144.6,697.9 147.9,696.8 C151.2,695.8 155.0,694.8 158.1,693.7 C161.2,692.7 164.2,691.7 166.4,690.6 C168.7,689.6 170.5,688.6 171.5,687.5 C172.5,686.5 172.8,685.5 172.5,684.5 C172.3,683.4 171.2,682.4 169.9,681.4 C168.5,680.3 166.6,679.3 164.6,678.3 C162.6,677.2 160.2,676.2 157.9,675.2 C155.6,674.1 153.1,673.1 151.0,672.1 C148.8,671.0 146.6,670.0 145.0,669.0 C143.3,667.9 141.8,666.9 141.0,665.9 C140.3,664.8 140.0,663.8 140.4,662.8 C140.8,661.7 142.0,660.7 143.3,659.7 C144.7,658.6 146.6,657.6 148.7,656.6 C150.7,655.5 153.1,654.5 155.8,653.5 C158.4,652.5 161.5,651.4 164.4,650.4 C167.3,649.4 170.3,648.3 173.2,647.3 C176.0,646.3 178.9,645.2 181.3,644.2 C183.8,643.2 186.2,642.1 188.0,641.1 C189.9,640.1 191.8,638.5 192.5,638.0 Z" fill="#abc9ea" stroke="#6f6f6f" stroke-width="1.85" stroke-linejoin="round"/>
<ellipse cx="196.0" cy="655.9" rx="3.0" ry="2.05" fill="#6a6a6a"/>
<ellipse cx="196.0" cy="661.7" rx="3.0" ry="2.05" fill="#6a6a6a"/>
<ellipse cx="196.0" cy="667.7" rx="3.0" ry="2.05" fill="#6a6a6a"/>
<ellipse cx="196.0" cy="676.8" rx="3.0" ry="2.05" fill="#6a6a6a"/>
<ellipse cx="196.0" cy="701.5" rx="3.0" ry="2.05" fill="#6a6a6a"/>
<ellipse cx="196.0" cy="707.6" rx="3.0" ry="2.05" fill="#6a6a6a"/>
<ellipse cx="196.0" cy="712.7" rx="3.0" ry="2.05" fill="#6a6a6a"/>
<ellipse cx="196.0" cy="690.9" rx="8.5" ry="5.6" fill="#fff" stroke="#000" stroke-width="1.6"/>
<path d="M329.80,583.60 C330.0,584.1 330.7,585.6 331.1,586.6 C331.5,587.6 331.8,588.6 332.3,589.6 C332.7,590.7 333.2,591.7 333.8,592.7 C334.4,593.7 335.0,594.7 335.6,595.7 C336.2,596.7 336.9,597.7 337.5,598.7 C338.1,599.7 338.6,600.7 339.2,601.7 C339.7,602.7 340.2,603.7 340.7,604.8 C341.2,605.8 341.7,606.8 342.1,607.8 C342.6,608.8 343.0,609.8 343.3,610.8 C343.7,611.8 344.0,612.8 344.2,613.8 C344.5,614.8 344.7,615.8 344.9,616.8 C345.0,617.8 345.1,618.9 345.2,619.9 C345.2,620.9 345.1,621.9 345.0,622.9 C344.9,623.9 344.8,624.9 344.6,625.9 C344.3,626.9 344.1,627.9 343.8,628.9 C343.5,629.9 343.2,630.9 342.9,631.9 C342.5,633.0 342.2,634.0 341.8,635.0 C341.5,636.0 341.2,637.0 340.8,638.0 C340.5,639.0 340.2,640.0 340.0,641.0 C339.7,642.0 339.5,643.0 339.3,644.0 C339.1,645.0 339.0,646.0 338.9,647.1 C338.8,648.1 338.7,649.1 338.7,650.1 C338.7,651.1 338.7,652.1 338.8,653.1 C338.9,654.1 339.0,655.1 339.1,656.1 C339.2,657.1 339.4,658.1 339.6,659.1 C339.9,660.1 340.1,661.2 340.4,662.2 C340.7,663.2 341.0,664.2 341.3,665.2 C341.7,666.2 342.0,667.2 342.4,668.2 C342.8,669.2 343.2,670.2 343.6,671.2 C344.0,672.2 344.5,673.2 344.9,674.2 C345.3,675.3 345.8,676.3 346.2,677.3 C346.6,678.3 347.1,679.3 347.5,680.3 C348.0,681.3 348.4,682.3 348.8,683.3 C349.2,684.3 349.7,685.3 350.1,686.3 C350.5,687.3 350.9,688.3 351.2,689.4 C351.6,690.4 352.0,691.4 352.3,692.4 C352.7,693.4 353.0,694.4 353.4,695.4 C353.7,696.4 354.0,697.4 354.3,698.4 C354.6,699.4 354.8,700.4 355.1,701.4 C355.4,702.4 355.6,703.5 355.8,704.5 C356.0,705.5 356.2,706.5 356.4,707.5 C356.6,708.5 356.7,709.5 356.8,710.5 C357.0,711.5 357.1,712.5 357.1,713.5 C357.2,714.5 357.3,715.5 357.3,716.5 C357.3,717.6 357.3,718.6 357.3,719.6 C357.3,720.6 357.2,721.6 357.1,722.6 C357.0,723.6 356.9,724.6 356.7,725.6 C356.6,726.6 356.4,727.6 356.2,728.6 C356.0,729.6 355.7,730.6 355.4,731.7 C355.1,732.7 354.8,733.7 354.4,734.7 C354.1,735.7 353.7,736.7 353.3,737.7 C352.8,738.7 352.3,739.7 351.8,740.7 C351.3,741.7 350.8,742.7 350.2,743.7 C349.6,744.7 348.9,745.8 348.3,746.8 C347.6,747.8 346.9,748.8 346.1,749.8 C345.4,750.8 344.6,751.8 343.8,752.8 C343.0,753.8 342.1,754.8 341.3,755.8 C340.4,756.8 339.6,757.8 338.8,758.8 C338.1,759.9 337.3,760.9 336.6,761.9 C336.0,762.9 335.3,763.9 334.7,764.9 C334.2,765.9 333.9,766.9 333.4,767.9 C333.0,768.9 332.5,769.9 332.1,770.9 C331.7,771.9 331.2,772.9 330.9,774.0 C330.7,775.0 330.6,776.0 330.4,777.0 C330.2,778.0 329.9,779.5 329.8,780.0 L324.60,780.00 C324.5,779.5 324.2,778.0 324.0,777.0 C323.8,776.0 323.7,775.0 323.5,774.0 C323.2,772.9 322.7,771.9 322.3,770.9 C321.9,769.9 321.4,768.9 321.0,767.9 C320.5,766.9 320.2,765.9 319.7,764.9 C319.1,763.9 318.4,762.9 317.8,761.9 C317.1,760.9 316.3,759.9 315.6,758.8 C314.8,757.8 314.0,756.8 313.1,755.8 C312.3,754.8 311.4,753.8 310.6,752.8 C309.8,751.8 309.0,750.8 308.3,749.8 C307.5,748.8 306.8,747.8 306.1,746.8 C305.5,745.8 304.8,744.7 304.2,743.7 C303.6,742.7 303.1,741.7 302.6,740.7 C302.1,739.7 301.6,738.7 301.1,737.7 C300.7,736.7 300.3,735.7 300.0,734.7 C299.6,733.7 299.3,732.7 299.0,731.7 C298.7,730.6 298.4,729.6 298.2,728.6 C298.0,727.6 297.8,726.6 297.7,725.6 C297.5,724.6 297.4,723.6 297.3,722.6 C297.2,721.6 297.1,720.6 297.1,719.6 C297.1,718.6 297.1,717.6 297.1,716.5 C297.1,715.5 297.2,714.5 297.3,713.5 C297.3,712.5 297.4,711.5 297.6,710.5 C297.7,709.5 297.8,708.5 298.0,707.5 C298.2,706.5 298.4,705.5 298.6,704.5 C298.8,703.5 299.0,702.4 299.3,701.4 C299.6,700.4 299.8,699.4 300.1,698.4 C300.4,697.4 300.7,696.4 301.0,695.4 C301.4,694.4 301.7,693.4 302.1,692.4 C302.4,691.4 302.8,690.4 303.2,689.4 C303.5,688.3 303.9,687.3 304.3,686.3 C304.7,685.3 305.2,684.3 305.6,683.3 C306.0,682.3 306.4,681.3 306.9,680.3 C307.3,679.3 307.8,678.3 308.2,677.3 C308.6,676.3 309.1,675.3 309.5,674.2 C309.9,673.2 310.4,672.2 310.8,671.2 C311.2,670.2 311.6,669.2 312.0,668.2 C312.4,667.2 312.7,666.2 313.1,665.2 C313.4,664.2 313.7,663.2 314.0,662.2 C314.3,661.2 314.5,660.1 314.8,659.1 C315.0,658.1 315.2,657.1 315.3,656.1 C315.4,655.1 315.5,654.1 315.6,653.1 C315.7,652.1 315.7,651.1 315.7,650.1 C315.7,649.1 315.6,648.1 315.5,647.1 C315.4,646.0 315.3,645.0 315.1,644.0 C314.9,643.0 314.7,642.0 314.4,641.0 C314.2,640.0 313.9,639.0 313.6,638.0 C313.2,637.0 312.9,636.0 312.6,635.0 C312.2,634.0 311.9,633.0 311.5,631.9 C311.2,630.9 310.9,629.9 310.6,628.9 C310.3,627.9 310.1,626.9 309.8,625.9 C309.6,624.9 309.5,623.9 309.4,622.9 C309.3,621.9 309.2,620.9 309.2,619.9 C309.3,618.9 309.4,617.8 309.5,616.8 C309.7,615.8 309.9,614.8 310.2,613.8 C310.4,612.8 310.7,611.8 311.1,610.8 C311.4,609.8 311.8,608.8 312.3,607.8 C312.7,606.8 313.2,605.8 313.7,604.8 C314.2,603.7 314.7,602.7 315.2,601.7 C315.8,600.7 316.3,599.7 316.9,598.7 C317.5,597.7 318.2,596.7 318.8,595.7 C319.4,594.7 320.0,593.7 320.6,592.7 C321.2,591.7 321.7,590.7 322.1,589.6 C322.6,588.6 322.9,587.6 323.3,586.6 C323.7,585.6 324.4,584.1 324.6,583.6 Z" fill="#cfcfcf" stroke="#6f6f6f" stroke-width="1.85" stroke-linejoin="round"/>
<ellipse cx="327.2" cy="622.0" rx="3.0" ry="2.05" fill="#6a6a6a"/>
<ellipse cx="327.2" cy="676.1" rx="3.0" ry="2.05" fill="#6a6a6a"/>
<ellipse cx="327.2" cy="687.7" rx="3.0" ry="2.05" fill="#6a6a6a"/>
<ellipse cx="327.2" cy="713.4" rx="3.0" ry="2.05" fill="#6a6a6a"/>
<ellipse cx="327.2" cy="718.6" rx="3.0" ry="2.05" fill="#6a6a6a"/>
<ellipse cx="327.2" cy="738.9" rx="3.0" ry="2.05" fill="#6a6a6a"/>
<ellipse cx="327.2" cy="742.0" rx="3.0" ry="2.05" fill="#6a6a6a"/>
<ellipse cx="327.2" cy="701.7" rx="8.5" ry="5.6" fill="#fff" stroke="#000" stroke-width="1.6"/>
<path d="M460.30,582.30 C460.4,582.8 460.6,584.3 460.8,585.3 C461.0,586.3 461.2,587.3 461.5,588.3 C461.7,589.3 462.0,590.3 462.3,591.3 C462.7,592.4 463.1,593.4 463.5,594.4 C464.0,595.4 464.5,596.4 465.0,597.4 C465.5,598.4 466.0,599.4 466.5,600.4 C467.0,601.4 467.5,602.4 468.0,603.4 C468.4,604.4 468.8,605.4 469.2,606.4 C469.5,607.4 469.9,608.4 470.2,609.4 C470.5,610.5 470.9,611.5 471.2,612.5 C471.5,613.5 471.8,614.5 472.0,615.5 C472.3,616.5 472.5,617.5 472.7,618.5 C472.9,619.5 473.1,620.5 473.3,621.5 C473.4,622.5 473.6,623.5 473.7,624.5 C473.8,625.5 473.8,626.5 473.9,627.5 C473.9,628.5 473.9,629.6 473.9,630.6 C473.9,631.6 473.8,632.6 473.8,633.6 C473.7,634.6 473.6,635.6 473.6,636.6 C473.5,637.6 473.4,638.6 473.3,639.6 C473.2,640.6 473.1,641.6 473.0,642.6 C472.9,643.6 472.8,644.6 472.7,645.6 C472.6,646.6 472.5,647.7 472.5,648.7 C472.4,649.7 472.3,650.7 472.3,651.7 C472.2,652.7 472.2,653.7 472.2,654.7 C472.2,655.7 472.2,656.7 472.3,657.7 C472.4,658.7 472.4,659.7 472.6,660.7 C472.7,661.7 472.8,662.7 473.0,663.7 C473.3,664.7 473.5,665.7 473.8,666.8 C474.1,667.8 474.4,668.8 474.7,669.8 C475.1,670.8 475.5,671.8 475.9,672.8 C476.3,673.8 476.7,674.8 477.2,675.8 C477.6,676.8 478.1,677.8 478.5,678.8 C479.0,679.8 479.5,680.8 479.9,681.8 C480.4,682.8 480.9,683.8 481.3,684.8 C481.8,685.9 482.2,686.9 482.7,687.9 C483.1,688.9 483.5,689.9 483.9,690.9 C484.3,691.9 484.7,692.9 485.1,693.9 C485.4,694.9 485.8,695.9 486.1,696.9 C486.4,697.9 486.7,698.9 486.9,699.9 C487.2,700.9 487.4,701.9 487.6,702.9 C487.8,704.0 488.0,705.0 488.1,706.0 C488.2,707.0 488.3,708.0 488.4,709.0 C488.5,710.0 488.5,711.0 488.5,712.0 C488.5,713.0 488.4,714.0 488.4,715.0 C488.3,716.0 488.2,717.0 488.0,718.0 C487.9,719.0 487.7,720.0 487.6,721.0 C487.4,722.0 487.1,723.1 486.9,724.1 C486.6,725.1 486.4,726.1 486.1,727.1 C485.8,728.1 485.5,729.1 485.1,730.1 C484.8,731.1 484.4,732.1 484.0,733.1 C483.6,734.1 483.2,735.1 482.8,736.1 C482.4,737.1 481.9,738.1 481.4,739.1 C481.0,740.1 480.5,741.2 480.0,742.2 C479.5,743.2 479.0,744.2 478.5,745.2 C477.9,746.2 477.4,747.2 476.9,748.2 C476.3,749.2 475.7,750.2 475.2,751.2 C474.6,752.2 474.0,753.2 473.4,754.2 C472.8,755.2 472.2,756.2 471.6,757.2 C471.1,758.2 470.5,759.2 469.9,760.3 C469.3,761.3 468.6,762.3 468.1,763.3 C467.5,764.3 466.9,765.3 466.4,766.3 C465.8,767.3 465.3,768.3 464.8,769.3 C464.3,770.3 463.8,771.3 463.4,772.3 C462.9,773.3 462.6,774.3 462.3,775.3 C461.9,776.3 461.6,777.3 461.2,778.4 C460.8,779.4 460.3,780.4 460.1,781.4 C459.9,782.4 460.0,783.4 460.0,784.4 C459.9,785.4 459.8,786.9 459.8,787.4 L456.80,787.40 C456.8,786.9 456.7,785.4 456.6,784.4 C456.6,783.4 456.7,782.4 456.5,781.4 C456.3,780.4 455.8,779.4 455.4,778.4 C455.0,777.3 454.7,776.3 454.3,775.3 C454.0,774.3 453.7,773.3 453.2,772.3 C452.8,771.3 452.3,770.3 451.8,769.3 C451.3,768.3 450.8,767.3 450.2,766.3 C449.7,765.3 449.1,764.3 448.5,763.3 C448.0,762.3 447.3,761.3 446.7,760.3 C446.1,759.2 445.5,758.2 445.0,757.2 C444.4,756.2 443.8,755.2 443.2,754.2 C442.6,753.2 442.0,752.2 441.4,751.2 C440.9,750.2 440.3,749.2 439.7,748.2 C439.2,747.2 438.7,746.2 438.1,745.2 C437.6,744.2 437.1,743.2 436.6,742.2 C436.1,741.2 435.6,740.1 435.2,739.1 C434.7,738.1 434.2,737.1 433.8,736.1 C433.4,735.1 433.0,734.1 432.6,733.1 C432.2,732.1 431.8,731.1 431.5,730.1 C431.1,729.1 430.8,728.1 430.5,727.1 C430.2,726.1 430.0,725.1 429.7,724.1 C429.5,723.1 429.2,722.0 429.0,721.0 C428.9,720.0 428.7,719.0 428.6,718.0 C428.4,717.0 428.3,716.0 428.2,715.0 C428.2,714.0 428.1,713.0 428.1,712.0 C428.1,711.0 428.1,710.0 428.2,709.0 C428.3,708.0 428.4,707.0 428.5,706.0 C428.6,705.0 428.8,704.0 429.0,702.9 C429.2,701.9 429.4,700.9 429.7,699.9 C429.9,698.9 430.2,697.9 430.5,696.9 C430.8,695.9 431.2,694.9 431.5,693.9 C431.9,692.9 432.3,691.9 432.7,690.9 C433.1,689.9 433.5,688.9 433.9,687.9 C434.4,686.9 434.8,685.9 435.3,684.8 C435.7,683.8 436.2,682.8 436.7,681.8 C437.1,680.8 437.6,679.8 438.1,678.8 C438.5,677.8 439.0,676.8 439.4,675.8 C439.9,674.8 440.3,673.8 440.7,672.8 C441.1,671.8 441.5,670.8 441.9,669.8 C442.2,668.8 442.5,667.8 442.8,666.8 C443.1,665.7 443.3,664.7 443.6,663.7 C443.8,662.7 443.9,661.7 444.0,660.7 C444.2,659.7 444.2,658.7 444.3,657.7 C444.4,656.7 444.4,655.7 444.4,654.7 C444.4,653.7 444.4,652.7 444.3,651.7 C444.3,650.7 444.2,649.7 444.1,648.7 C444.1,647.7 444.0,646.6 443.9,645.6 C443.8,644.6 443.7,643.6 443.6,642.6 C443.5,641.6 443.4,640.6 443.3,639.6 C443.2,638.6 443.1,637.6 443.0,636.6 C443.0,635.6 442.9,634.6 442.8,633.6 C442.8,632.6 442.7,631.6 442.7,630.6 C442.7,629.6 442.7,628.5 442.7,627.5 C442.8,626.5 442.8,625.5 442.9,624.5 C443.0,623.5 443.2,622.5 443.3,621.5 C443.5,620.5 443.7,619.5 443.9,618.5 C444.1,617.5 444.3,616.5 444.6,615.5 C444.8,614.5 445.1,613.5 445.4,612.5 C445.7,611.5 446.1,610.5 446.4,609.4 C446.7,608.4 447.1,607.4 447.4,606.4 C447.8,605.4 448.2,604.4 448.6,603.4 C449.1,602.4 449.6,601.4 450.1,600.4 C450.6,599.4 451.1,598.4 451.6,597.4 C452.1,596.4 452.6,595.4 453.1,594.4 C453.5,593.4 453.9,592.4 454.3,591.3 C454.6,590.3 454.9,589.3 455.1,588.3 C455.4,587.3 455.6,586.3 455.8,585.3 C456.0,584.3 456.2,582.8 456.3,582.3 Z" fill="#d3c4f6" stroke="#6f6f6f" stroke-width="1.85" stroke-linejoin="round"/>
<ellipse cx="458.3" cy="618.8" rx="3.0" ry="2.05" fill="#6a6a6a"/>
<ellipse cx="458.3" cy="640.2" rx="3.0" ry="2.05" fill="#6a6a6a"/>
<ellipse cx="458.3" cy="678.7" rx="3.0" ry="2.05" fill="#6a6a6a"/>
<ellipse cx="458.3" cy="695.7" rx="3.0" ry="2.05" fill="#6a6a6a"/>
<ellipse cx="458.3" cy="726.2" rx="3.0" ry="2.05" fill="#6a6a6a"/>
<ellipse cx="458.3" cy="732.5" rx="3.0" ry="2.05" fill="#6a6a6a"/>
<ellipse cx="458.3" cy="750.3" rx="3.0" ry="2.05" fill="#6a6a6a"/>
<ellipse cx="458.3" cy="708.6" rx="8.5" ry="5.6" fill="#fff" stroke="#000" stroke-width="1.6"/>
<path d="M590.40,566.10 C590.4,566.6 590.5,568.1 590.6,569.1 C590.7,570.1 590.8,571.1 591.0,572.1 C591.1,573.1 591.3,574.1 591.4,575.1 C591.6,576.1 591.7,577.1 591.8,578.1 C592.0,579.1 592.1,580.1 592.2,581.1 C592.4,582.1 592.5,583.1 592.6,584.1 C592.8,585.1 592.9,586.1 593.0,587.1 C593.2,588.1 593.3,589.1 593.5,590.1 C593.6,591.1 593.7,592.1 593.9,593.2 C594.1,594.2 594.2,595.2 594.4,596.2 C594.6,597.2 594.8,598.2 595.0,599.2 C595.1,600.2 595.3,601.2 595.5,602.2 C595.7,603.2 595.9,604.2 596.1,605.2 C596.3,606.2 596.5,607.2 596.7,608.2 C597.0,609.2 597.2,610.2 597.4,611.2 C597.6,612.2 597.8,613.2 598.1,614.2 C598.3,615.2 598.5,616.2 598.8,617.2 C599.0,618.2 599.2,619.2 599.5,620.2 C599.7,621.2 600.0,622.2 600.2,623.2 C600.5,624.2 600.7,625.2 601.0,626.2 C601.3,627.2 601.5,628.2 601.8,629.2 C602.1,630.2 602.3,631.2 602.6,632.2 C602.9,633.2 603.2,634.2 603.4,635.2 C603.7,636.2 604.0,637.2 604.3,638.2 C604.6,639.2 604.9,640.2 605.2,641.2 C605.5,642.2 605.8,643.2 606.1,644.2 C606.4,645.2 606.7,646.2 607.0,647.3 C607.3,648.3 607.6,649.3 608.0,650.3 C608.3,651.3 608.6,652.3 608.9,653.3 C609.2,654.3 609.5,655.3 609.8,656.3 C610.1,657.3 610.4,658.3 610.7,659.3 C611.0,660.3 611.3,661.3 611.6,662.3 C611.9,663.3 612.1,664.3 612.4,665.3 C612.7,666.3 612.9,667.3 613.2,668.3 C613.4,669.3 613.7,670.3 613.9,671.3 C614.1,672.3 614.3,673.3 614.5,674.3 C614.7,675.3 614.9,676.3 615.1,677.3 C615.3,678.3 615.4,679.3 615.6,680.3 C615.7,681.3 615.8,682.3 615.9,683.3 C616.0,684.3 616.1,685.3 616.2,686.3 C616.2,687.3 616.3,688.3 616.3,689.3 C616.3,690.3 616.3,691.3 616.3,692.3 C616.2,693.3 616.2,694.3 616.1,695.3 C616.0,696.3 615.9,697.3 615.8,698.3 C615.7,699.3 615.5,700.4 615.4,701.4 C615.2,702.4 615.0,703.4 614.8,704.4 C614.6,705.4 614.4,706.4 614.2,707.4 C613.9,708.4 613.7,709.4 613.4,710.4 C613.1,711.4 612.8,712.4 612.5,713.4 C612.3,714.4 611.9,715.4 611.6,716.4 C611.3,717.4 611.0,718.4 610.6,719.4 C610.3,720.4 609.9,721.4 609.6,722.4 C609.2,723.4 608.9,724.4 608.5,725.4 C608.1,726.4 607.8,727.4 607.4,728.4 C607.0,729.4 606.6,730.4 606.2,731.4 C605.9,732.4 605.5,733.4 605.1,734.4 C604.7,735.4 604.3,736.4 603.9,737.4 C603.6,738.4 603.2,739.4 602.8,740.4 C602.4,741.4 602.1,742.4 601.7,743.4 C601.3,744.4 601.0,745.4 600.6,746.4 C600.2,747.4 599.9,748.4 599.6,749.4 C599.2,750.4 598.9,751.4 598.6,752.4 C598.2,753.4 597.9,754.5 597.6,755.5 C597.3,756.5 597.0,757.5 596.8,758.5 C596.5,759.5 596.2,760.5 596.0,761.5 C595.7,762.5 595.5,763.5 595.2,764.5 C595.0,765.5 594.8,766.5 594.6,767.5 C594.3,768.5 594.1,769.5 593.9,770.5 C593.7,771.5 593.6,772.5 593.4,773.5 C593.2,774.5 593.0,775.5 592.9,776.5 C592.7,777.5 592.6,778.5 592.4,779.5 C592.3,780.5 592.1,781.5 592.0,782.5 C591.9,783.5 591.8,784.5 591.7,785.5 C591.5,786.5 591.4,787.5 591.4,788.5 C591.3,789.5 591.2,790.5 591.1,791.5 C591.0,792.5 590.9,793.5 590.9,794.5 C590.8,795.5 590.8,796.5 590.7,797.5 C590.6,798.5 590.6,799.5 590.6,800.5 C590.5,801.5 590.5,802.5 590.5,803.5 C590.4,804.5 590.4,805.5 590.4,806.5 C590.4,807.5 590.4,808.6 590.4,809.6 C590.4,810.6 590.4,811.6 590.4,812.6 C590.4,813.6 590.4,814.6 590.4,815.6 C590.5,816.6 590.5,817.6 590.5,818.6 C590.5,819.6 590.6,820.6 590.6,821.6 C590.7,822.6 590.7,823.6 590.7,824.6 C590.8,825.6 590.8,826.6 590.9,827.6 C590.9,828.6 591.0,829.6 591.1,830.6 C591.1,831.6 591.2,832.6 591.3,833.6 C591.3,834.6 591.4,835.6 591.5,836.6 C591.5,837.6 591.6,838.6 591.7,839.6 C591.8,840.6 591.9,841.6 591.9,842.6 C592.0,843.6 592.1,844.6 592.2,845.6 C592.3,846.6 592.4,847.6 592.5,848.6 C592.6,849.6 592.7,850.6 592.8,851.6 C592.8,852.6 592.9,853.6 593.0,854.6 C593.1,855.6 593.2,856.6 593.3,857.6 C593.4,858.6 593.5,859.6 593.6,860.6 C593.7,861.7 593.8,862.7 593.8,863.7 C593.9,864.7 594.0,865.7 594.1,866.7 C594.2,867.7 594.2,868.7 594.3,869.7 C594.4,870.7 594.4,871.7 594.5,872.7 C594.6,873.7 594.6,874.7 594.7,875.7 C594.8,876.7 594.8,877.7 594.8,878.7 C594.9,879.7 594.9,880.7 595.0,881.7 C595.0,882.7 595.0,883.7 595.0,884.7 C595.1,885.7 595.1,886.7 595.1,887.7 C595.1,888.7 595.1,889.7 595.1,890.7 C595.1,891.7 595.1,892.7 595.0,893.7 C595.0,894.7 595.0,895.7 594.9,896.7 C594.9,897.7 594.8,898.7 594.8,899.7 C594.7,900.7 594.6,901.7 594.5,902.7 C594.4,903.7 594.4,904.7 594.2,905.7 C594.1,906.7 594.0,907.7 593.9,908.7 C593.8,909.7 593.7,910.7 593.5,911.7 C593.4,912.7 593.3,913.7 593.1,914.7 C593.0,915.8 592.8,916.8 592.6,917.8 C592.4,918.8 592.2,919.8 592.0,920.8 C591.8,921.8 591.6,922.8 591.4,923.8 C591.3,924.8 591.1,925.8 590.9,926.8 C590.8,927.8 590.6,928.8 590.5,929.8 C590.4,930.8 590.3,931.8 590.2,932.8 C590.1,933.8 590.1,934.8 590.1,935.8 C590.1,936.8 590.2,937.8 590.2,938.8 C590.3,939.8 590.4,941.3 590.4,941.8 L588.80,941.80 C588.8,941.3 588.9,939.8 589.0,938.8 C589.0,937.8 589.1,936.8 589.1,935.8 C589.1,934.8 589.1,933.8 589.0,932.8 C588.9,931.8 588.8,930.8 588.7,929.8 C588.6,928.8 588.4,927.8 588.3,926.8 C588.1,925.8 587.9,924.8 587.8,923.8 C587.6,922.8 587.4,921.8 587.2,920.8 C587.0,919.8 586.8,918.8 586.6,917.8 C586.4,916.8 586.2,915.8 586.1,914.7 C585.9,913.7 585.8,912.7 585.7,911.7 C585.5,910.7 585.4,909.7 585.3,908.7 C585.2,907.7 585.1,906.7 585.0,905.7 C584.8,904.7 584.8,903.7 584.7,902.7 C584.6,901.7 584.5,900.7 584.4,899.7 C584.4,898.7 584.3,897.7 584.3,896.7 C584.2,895.7 584.2,894.7 584.2,893.7 C584.1,892.7 584.1,891.7 584.1,890.7 C584.1,889.7 584.1,888.7 584.1,887.7 C584.1,886.7 584.1,885.7 584.2,884.7 C584.2,883.7 584.2,882.7 584.2,881.7 C584.3,880.7 584.3,879.7 584.4,878.7 C584.4,877.7 584.4,876.7 584.5,875.7 C584.6,874.7 584.6,873.7 584.7,872.7 C584.8,871.7 584.8,870.7 584.9,869.7 C585.0,868.7 585.0,867.7 585.1,866.7 C585.2,865.7 585.3,864.7 585.4,863.7 C585.4,862.7 585.5,861.7 585.6,860.6 C585.7,859.6 585.8,858.6 585.9,857.6 C586.0,856.6 586.1,855.6 586.2,854.6 C586.3,853.6 586.4,852.6 586.4,851.6 C586.5,850.6 586.6,849.6 586.7,848.6 C586.8,847.6 586.9,846.6 587.0,845.6 C587.1,844.6 587.2,843.6 587.3,842.6 C587.3,841.6 587.4,840.6 587.5,839.6 C587.6,838.6 587.7,837.6 587.7,836.6 C587.8,835.6 587.9,834.6 587.9,833.6 C588.0,832.6 588.1,831.6 588.1,830.6 C588.2,829.6 588.3,828.6 588.3,827.6 C588.4,826.6 588.4,825.6 588.5,824.6 C588.5,823.6 588.5,822.6 588.6,821.6 C588.6,820.6 588.7,819.6 588.7,818.6 C588.7,817.6 588.7,816.6 588.8,815.6 C588.8,814.6 588.8,813.6 588.8,812.6 C588.8,811.6 588.8,810.6 588.8,809.6 C588.8,808.6 588.8,807.5 588.8,806.5 C588.8,805.5 588.8,804.5 588.7,803.5 C588.7,802.5 588.7,801.5 588.6,800.5 C588.6,799.5 588.6,798.5 588.5,797.5 C588.4,796.5 588.4,795.5 588.3,794.5 C588.3,793.5 588.2,792.5 588.1,791.5 C588.0,790.5 587.9,789.5 587.8,788.5 C587.8,787.5 587.7,786.5 587.5,785.5 C587.4,784.5 587.3,783.5 587.2,782.5 C587.1,781.5 586.9,780.5 586.8,779.5 C586.6,778.5 586.5,777.5 586.3,776.5 C586.2,775.5 586.0,774.5 585.8,773.5 C585.6,772.5 585.5,771.5 585.3,770.5 C585.1,769.5 584.9,768.5 584.6,767.5 C584.4,766.5 584.2,765.5 584.0,764.5 C583.7,763.5 583.5,762.5 583.2,761.5 C583.0,760.5 582.7,759.5 582.4,758.5 C582.2,757.5 581.9,756.5 581.6,755.5 C581.3,754.5 581.0,753.4 580.6,752.4 C580.3,751.4 580.0,750.4 579.6,749.4 C579.3,748.4 579.0,747.4 578.6,746.4 C578.2,745.4 577.9,744.4 577.5,743.4 C577.1,742.4 576.8,741.4 576.4,740.4 C576.0,739.4 575.6,738.4 575.3,737.4 C574.9,736.4 574.5,735.4 574.1,734.4 C573.7,733.4 573.3,732.4 573.0,731.4 C572.6,730.4 572.2,729.4 571.8,728.4 C571.4,727.4 571.1,726.4 570.7,725.4 C570.3,724.4 570.0,723.4 569.6,722.4 C569.3,721.4 568.9,720.4 568.6,719.4 C568.2,718.4 567.9,717.4 567.6,716.4 C567.3,715.4 566.9,714.4 566.7,713.4 C566.4,712.4 566.1,711.4 565.8,710.4 C565.5,709.4 565.3,708.4 565.0,707.4 C564.8,706.4 564.6,705.4 564.4,704.4 C564.2,703.4 564.0,702.4 563.8,701.4 C563.7,700.4 563.5,699.3 563.4,698.3 C563.3,697.3 563.2,696.3 563.1,695.3 C563.0,694.3 563.0,693.3 562.9,692.3 C562.9,691.3 562.9,690.3 562.9,689.3 C562.9,688.3 563.0,687.3 563.0,686.3 C563.1,685.3 563.2,684.3 563.3,683.3 C563.4,682.3 563.5,681.3 563.6,680.3 C563.8,679.3 563.9,678.3 564.1,677.3 C564.3,676.3 564.5,675.3 564.7,674.3 C564.9,673.3 565.1,672.3 565.3,671.3 C565.5,670.3 565.8,669.3 566.0,668.3 C566.3,667.3 566.5,666.3 566.8,665.3 C567.1,664.3 567.3,663.3 567.6,662.3 C567.9,661.3 568.2,660.3 568.5,659.3 C568.8,658.3 569.1,657.3 569.4,656.3 C569.7,655.3 570.0,654.3 570.3,653.3 C570.6,652.3 570.9,651.3 571.2,650.3 C571.6,649.3 571.9,648.3 572.2,647.3 C572.5,646.2 572.8,645.2 573.1,644.2 C573.4,643.2 573.7,642.2 574.0,641.2 C574.3,640.2 574.6,639.2 574.9,638.2 C575.2,637.2 575.5,636.2 575.8,635.2 C576.0,634.2 576.3,633.2 576.6,632.2 C576.9,631.2 577.1,630.2 577.4,629.2 C577.7,628.2 577.9,627.2 578.2,626.2 C578.5,625.2 578.7,624.2 579.0,623.2 C579.2,622.2 579.5,621.2 579.7,620.2 C580.0,619.2 580.2,618.2 580.4,617.2 C580.7,616.2 580.9,615.2 581.1,614.2 C581.4,613.2 581.6,612.2 581.8,611.2 C582.0,610.2 582.2,609.2 582.5,608.2 C582.7,607.2 582.9,606.2 583.1,605.2 C583.3,604.2 583.5,603.2 583.7,602.2 C583.9,601.2 584.1,600.2 584.2,599.2 C584.4,598.2 584.6,597.2 584.8,596.2 C585.0,595.2 585.1,594.2 585.3,593.2 C585.5,592.1 585.6,591.1 585.7,590.1 C585.9,589.1 586.0,588.1 586.2,587.1 C586.3,586.1 586.4,585.1 586.6,584.1 C586.7,583.1 586.8,582.1 587.0,581.1 C587.1,580.1 587.2,579.1 587.4,578.1 C587.5,577.1 587.6,576.1 587.8,575.1 C587.9,574.1 588.1,573.1 588.2,572.1 C588.4,571.1 588.5,570.1 588.6,569.1 C588.7,568.1 588.8,566.6 588.8,566.1 Z" fill="#f1b9e0" stroke="#6f6f6f" stroke-width="1.85" stroke-linejoin="round"/>
<ellipse cx="589.6" cy="627.5" rx="3.0" ry="2.05" fill="#6a6a6a"/>
<ellipse cx="589.6" cy="664.5" rx="3.0" ry="2.05" fill="#6a6a6a"/>
<ellipse cx="589.6" cy="671.1" rx="3.0" ry="2.05" fill="#6a6a6a"/>
<ellipse cx="589.6" cy="685.1" rx="3.0" ry="2.05" fill="#6a6a6a"/>
<ellipse cx="589.6" cy="727.1" rx="3.0" ry="2.05" fill="#6a6a6a"/>
<ellipse cx="589.6" cy="880.9" rx="3.0" ry="2.05" fill="#6a6a6a"/>
<ellipse cx="589.6" cy="711.8" rx="8.5" ry="5.6" fill="#fff" stroke="#000" stroke-width="1.6"/>
<path d="M721.60,565.30 C721.6,565.8 721.7,567.3 721.8,568.3 C721.9,569.3 721.9,570.3 722.1,571.3 C722.2,572.3 722.4,573.3 722.5,574.3 C722.6,575.3 722.8,576.3 722.9,577.3 C723.1,578.3 723.2,579.3 723.3,580.3 C723.5,581.3 723.6,582.3 723.8,583.3 C723.9,584.3 724.0,585.3 724.2,586.3 C724.3,587.3 724.5,588.3 724.7,589.3 C724.8,590.3 725.0,591.4 725.2,592.4 C725.4,593.4 725.7,594.4 725.9,595.4 C726.1,596.4 726.4,597.4 726.6,598.4 C726.9,599.4 727.1,600.4 727.4,601.4 C727.6,602.4 727.9,603.4 728.2,604.4 C728.5,605.4 728.7,606.4 729.0,607.4 C729.3,608.4 729.6,609.4 729.9,610.4 C730.2,611.4 730.5,612.4 730.8,613.4 C731.1,614.4 731.4,615.4 731.7,616.4 C732.0,617.4 732.3,618.4 732.6,619.4 C732.9,620.4 733.3,621.4 733.6,622.4 C733.9,623.4 734.2,624.4 734.5,625.4 C734.8,626.4 735.1,627.4 735.4,628.4 C735.7,629.4 736.0,630.4 736.3,631.4 C736.6,632.4 736.9,633.4 737.2,634.4 C737.4,635.4 737.7,636.4 738.0,637.4 C738.2,638.4 738.5,639.4 738.8,640.4 C739.0,641.4 739.3,642.4 739.5,643.5 C739.7,644.5 740.0,645.5 740.2,646.5 C740.4,647.5 740.6,648.5 740.8,649.5 C741.0,650.5 741.2,651.5 741.4,652.5 C741.5,653.5 741.7,654.5 741.9,655.5 C742.0,656.5 742.1,657.5 742.3,658.5 C742.4,659.5 742.5,660.5 742.6,661.5 C742.7,662.5 742.7,663.5 742.8,664.5 C742.8,665.5 742.9,666.5 742.9,667.5 C742.9,668.5 742.9,669.5 742.9,670.5 C742.9,671.5 742.9,672.5 742.8,673.5 C742.8,674.5 742.7,675.5 742.6,676.5 C742.5,677.5 742.4,678.5 742.3,679.5 C742.1,680.5 742.0,681.5 741.8,682.5 C741.7,683.5 741.5,684.5 741.3,685.5 C741.1,686.5 740.9,687.5 740.7,688.5 C740.5,689.5 740.3,690.5 740.0,691.5 C739.8,692.5 739.6,693.5 739.4,694.5 C739.1,695.6 738.9,696.6 738.6,697.6 C738.4,698.6 738.2,699.6 737.9,700.6 C737.7,701.6 737.4,702.6 737.2,703.6 C736.9,704.6 736.7,705.6 736.5,706.6 C736.2,707.6 736.0,708.6 735.8,709.6 C735.6,710.6 735.3,711.6 735.1,712.6 C734.9,713.6 734.7,714.6 734.5,715.6 C734.3,716.6 734.1,717.6 733.9,718.6 C733.7,719.6 733.5,720.6 733.4,721.6 C733.2,722.6 733.0,723.6 732.8,724.6 C732.7,725.6 732.5,726.6 732.3,727.6 C732.2,728.6 732.0,729.6 731.9,730.6 C731.7,731.6 731.6,732.6 731.4,733.6 C731.3,734.6 731.1,735.6 731.0,736.6 C730.9,737.6 730.7,738.6 730.6,739.6 C730.5,740.6 730.4,741.6 730.2,742.6 C730.1,743.6 730.0,744.6 729.9,745.6 C729.8,746.6 729.7,747.7 729.6,748.7 C729.5,749.7 729.4,750.7 729.3,751.7 C729.2,752.7 729.1,753.7 729.0,754.7 C728.9,755.7 728.8,756.7 728.7,757.7 C728.7,758.7 728.6,759.7 728.5,760.7 C728.4,761.7 728.4,762.7 728.3,763.7 C728.2,764.7 728.2,765.7 728.1,766.7 C728.0,767.7 728.0,768.7 727.9,769.7 C727.8,770.7 727.8,771.7 727.7,772.7 C727.7,773.7 727.6,774.7 727.6,775.7 C727.5,776.7 727.5,777.7 727.5,778.7 C727.4,779.7 727.4,780.7 727.3,781.7 C727.3,782.7 727.3,783.7 727.2,784.7 C727.2,785.7 727.2,786.7 727.1,787.7 C727.1,788.7 727.1,789.7 727.0,790.7 C727.0,791.7 727.0,792.7 727.0,793.7 C726.9,794.7 726.9,795.7 726.9,796.7 C726.9,797.7 726.9,798.7 726.8,799.8 C726.8,800.8 726.8,801.8 726.8,802.8 C726.8,803.8 726.8,804.8 726.7,805.8 C726.7,806.8 726.7,807.8 726.7,808.8 C726.7,809.8 726.7,810.8 726.7,811.8 C726.7,812.8 726.7,813.8 726.6,814.8 C726.6,815.8 726.6,816.8 726.6,817.8 C726.6,818.8 726.6,819.8 726.6,820.8 C726.6,821.8 726.6,822.8 726.6,823.8 C726.6,824.8 726.6,825.8 726.6,826.8 C726.6,827.8 726.5,828.8 726.5,829.8 C726.5,830.8 726.5,831.8 726.5,832.8 C726.5,833.8 726.5,834.8 726.5,835.8 C726.5,836.8 726.5,837.8 726.5,838.8 C726.5,839.8 726.5,840.8 726.5,841.8 C726.4,842.8 726.4,843.8 726.4,844.8 C726.4,845.8 726.4,846.8 726.4,847.8 C726.4,848.8 726.4,849.8 726.3,850.8 C726.3,851.9 726.3,852.9 726.3,853.9 C726.3,854.9 726.3,855.9 726.2,856.9 C726.2,857.9 726.2,858.9 726.2,859.9 C726.2,860.9 726.1,861.9 726.1,862.9 C726.1,863.9 726.0,864.9 726.0,865.9 C726.0,866.9 726.0,867.9 725.9,868.9 C725.9,869.9 725.9,870.9 725.8,871.9 C725.8,872.9 725.7,873.9 725.7,874.9 C725.7,875.9 725.6,876.9 725.6,877.9 C725.5,878.9 725.5,879.9 725.4,880.9 C725.4,881.9 725.3,882.9 725.3,883.9 C725.2,884.9 725.1,885.9 725.1,886.9 C725.0,887.9 725.0,888.9 724.9,889.9 C724.8,890.9 724.8,891.9 724.7,892.9 C724.6,893.9 724.5,894.9 724.4,895.9 C724.4,896.9 724.3,897.9 724.2,898.9 C724.1,899.9 724.0,900.9 723.9,901.9 C723.8,902.9 723.7,904.0 723.5,905.0 C723.3,906.0 723.2,907.0 723.0,908.0 C722.9,909.0 722.7,910.0 722.6,911.0 C722.4,912.0 722.3,913.0 722.2,914.0 C722.1,915.0 721.9,916.0 721.9,917.0 C721.8,918.0 721.8,919.0 721.8,920.0 C721.7,921.0 721.7,922.0 721.7,923.0 C721.7,924.0 721.7,925.0 721.7,926.0 C721.6,927.0 721.6,928.5 721.6,929.0 L720.00,929.00 C720.0,928.5 720.0,927.0 719.9,926.0 C719.9,925.0 719.9,924.0 719.9,923.0 C719.9,922.0 719.9,921.0 719.8,920.0 C719.8,919.0 719.8,918.0 719.7,917.0 C719.7,916.0 719.5,915.0 719.4,914.0 C719.3,913.0 719.2,912.0 719.0,911.0 C718.9,910.0 718.7,909.0 718.6,908.0 C718.4,907.0 718.3,906.0 718.1,905.0 C717.9,904.0 717.8,902.9 717.7,901.9 C717.6,900.9 717.5,899.9 717.4,898.9 C717.3,897.9 717.2,896.9 717.2,895.9 C717.1,894.9 717.0,893.9 716.9,892.9 C716.8,891.9 716.8,890.9 716.7,889.9 C716.6,888.9 716.6,887.9 716.5,886.9 C716.5,885.9 716.4,884.9 716.3,883.9 C716.3,882.9 716.2,881.9 716.2,880.9 C716.1,879.9 716.1,878.9 716.0,877.9 C716.0,876.9 715.9,875.9 715.9,874.9 C715.9,873.9 715.8,872.9 715.8,871.9 C715.7,870.9 715.7,869.9 715.7,868.9 C715.6,867.9 715.6,866.9 715.6,865.9 C715.6,864.9 715.5,863.9 715.5,862.9 C715.5,861.9 715.4,860.9 715.4,859.9 C715.4,858.9 715.4,857.9 715.4,856.9 C715.3,855.9 715.3,854.9 715.3,853.9 C715.3,852.9 715.3,851.9 715.3,850.8 C715.2,849.8 715.2,848.8 715.2,847.8 C715.2,846.8 715.2,845.8 715.2,844.8 C715.2,843.8 715.2,842.8 715.1,841.8 C715.1,840.8 715.1,839.8 715.1,838.8 C715.1,837.8 715.1,836.8 715.1,835.8 C715.1,834.8 715.1,833.8 715.1,832.8 C715.1,831.8 715.1,830.8 715.1,829.8 C715.1,828.8 715.0,827.8 715.0,826.8 C715.0,825.8 715.0,824.8 715.0,823.8 C715.0,822.8 715.0,821.8 715.0,820.8 C715.0,819.8 715.0,818.8 715.0,817.8 C715.0,816.8 715.0,815.8 715.0,814.8 C714.9,813.8 714.9,812.8 714.9,811.8 C714.9,810.8 714.9,809.8 714.9,808.8 C714.9,807.8 714.9,806.8 714.9,805.8 C714.8,804.8 714.8,803.8 714.8,802.8 C714.8,801.8 714.8,800.8 714.8,799.8 C714.7,798.7 714.7,797.7 714.7,796.7 C714.7,795.7 714.7,794.7 714.6,793.7 C714.6,792.7 714.6,791.7 714.6,790.7 C714.5,789.7 714.5,788.7 714.5,787.7 C714.4,786.7 714.4,785.7 714.4,784.7 C714.3,783.7 714.3,782.7 714.3,781.7 C714.2,780.7 714.2,779.7 714.1,778.7 C714.1,777.7 714.1,776.7 714.0,775.7 C714.0,774.7 713.9,773.7 713.9,772.7 C713.8,771.7 713.8,770.7 713.7,769.7 C713.6,768.7 713.6,767.7 713.5,766.7 C713.4,765.7 713.4,764.7 713.3,763.7 C713.2,762.7 713.2,761.7 713.1,760.7 C713.0,759.7 712.9,758.7 712.9,757.7 C712.8,756.7 712.7,755.7 712.6,754.7 C712.5,753.7 712.4,752.7 712.3,751.7 C712.2,750.7 712.1,749.7 712.0,748.7 C711.9,747.7 711.8,746.6 711.7,745.6 C711.6,744.6 711.5,743.6 711.4,742.6 C711.2,741.6 711.1,740.6 711.0,739.6 C710.9,738.6 710.7,737.6 710.6,736.6 C710.5,735.6 710.3,734.6 710.2,733.6 C710.0,732.6 709.9,731.6 709.7,730.6 C709.6,729.6 709.4,728.6 709.3,727.6 C709.1,726.6 708.9,725.6 708.8,724.6 C708.6,723.6 708.4,722.6 708.2,721.6 C708.1,720.6 707.9,719.6 707.7,718.6 C707.5,717.6 707.3,716.6 707.1,715.6 C706.9,714.6 706.7,713.6 706.5,712.6 C706.3,711.6 706.0,710.6 705.8,709.6 C705.6,708.6 705.4,707.6 705.1,706.6 C704.9,705.6 704.7,704.6 704.4,703.6 C704.2,702.6 703.9,701.6 703.7,700.6 C703.4,699.6 703.2,698.6 703.0,697.6 C702.7,696.6 702.5,695.6 702.2,694.5 C702.0,693.5 701.8,692.5 701.6,691.5 C701.3,690.5 701.1,689.5 700.9,688.5 C700.7,687.5 700.5,686.5 700.3,685.5 C700.1,684.5 699.9,683.5 699.8,682.5 C699.6,681.5 699.5,680.5 699.3,679.5 C699.2,678.5 699.1,677.5 699.0,676.5 C698.9,675.5 698.8,674.5 698.8,673.5 C698.7,672.5 698.7,671.5 698.7,670.5 C698.7,669.5 698.7,668.5 698.7,667.5 C698.7,666.5 698.8,665.5 698.8,664.5 C698.9,663.5 698.9,662.5 699.0,661.5 C699.1,660.5 699.2,659.5 699.3,658.5 C699.5,657.5 699.6,656.5 699.7,655.5 C699.9,654.5 700.1,653.5 700.2,652.5 C700.4,651.5 700.6,650.5 700.8,649.5 C701.0,648.5 701.2,647.5 701.4,646.5 C701.6,645.5 701.9,644.5 702.1,643.5 C702.3,642.4 702.6,641.4 702.8,640.4 C703.1,639.4 703.4,638.4 703.6,637.4 C703.9,636.4 704.2,635.4 704.4,634.4 C704.7,633.4 705.0,632.4 705.3,631.4 C705.6,630.4 705.9,629.4 706.2,628.4 C706.5,627.4 706.8,626.4 707.1,625.4 C707.4,624.4 707.7,623.4 708.0,622.4 C708.3,621.4 708.7,620.4 709.0,619.4 C709.3,618.4 709.6,617.4 709.9,616.4 C710.2,615.4 710.5,614.4 710.8,613.4 C711.1,612.4 711.4,611.4 711.7,610.4 C712.0,609.4 712.3,608.4 712.6,607.4 C712.9,606.4 713.1,605.4 713.4,604.4 C713.7,603.4 714.0,602.4 714.2,601.4 C714.5,600.4 714.7,599.4 715.0,598.4 C715.2,597.4 715.5,596.4 715.7,595.4 C715.9,594.4 716.2,593.4 716.4,592.4 C716.6,591.4 716.8,590.3 716.9,589.3 C717.1,588.3 717.3,587.3 717.4,586.3 C717.6,585.3 717.7,584.3 717.8,583.3 C718.0,582.3 718.1,581.3 718.3,580.3 C718.4,579.3 718.5,578.3 718.7,577.3 C718.8,576.3 719.0,575.3 719.1,574.3 C719.2,573.3 719.4,572.3 719.5,571.3 C719.7,570.3 719.7,569.3 719.8,568.3 C719.9,567.3 720.0,565.8 720.0,565.3 Z" fill="#98daa7" stroke="#6f6f6f" stroke-width="1.85" stroke-linejoin="round"/>
<ellipse cx="720.8" cy="629.1" rx="3.0" ry="2.05" fill="#6a6a6a"/>
<ellipse cx="720.8" cy="655.0" rx="3.0" ry="2.05" fill="#6a6a6a"/>
<ellipse cx="720.8" cy="669.5" rx="3.0" ry="2.05" fill="#6a6a6a"/>
<ellipse cx="720.8" cy="675.9" rx="3.0" ry="2.05" fill="#6a6a6a"/>
<ellipse cx="720.8" cy="693.0" rx="3.0" ry="2.05" fill="#6a6a6a"/>
<ellipse cx="720.8" cy="730.4" rx="3.0" ry="2.05" fill="#6a6a6a"/>
<ellipse cx="720.8" cy="791.7" rx="3.0" ry="2.05" fill="#6a6a6a"/>
<ellipse cx="720.8" cy="866.9" rx="3.0" ry="2.05" fill="#6a6a6a"/>
<ellipse cx="720.8" cy="722.1" rx="8.5" ry="5.6" fill="#fff" stroke="#000" stroke-width="1.6"/>
<path d="M853.80,560.90 C853.8,561.4 853.8,562.9 853.9,563.9 C854.0,564.9 854.1,565.9 854.2,566.9 C854.3,567.9 854.5,568.9 854.6,569.9 C854.7,570.9 854.8,571.9 855.0,572.9 C855.1,573.9 855.3,574.9 855.4,575.9 C855.6,576.9 855.8,577.9 855.9,578.9 C856.1,579.9 856.3,580.9 856.4,581.9 C856.6,582.9 856.8,583.9 857.0,584.9 C857.2,585.9 857.4,586.9 857.6,587.9 C857.8,588.9 858.0,589.9 858.2,590.9 C858.4,591.9 858.5,592.9 858.7,593.9 C858.9,594.9 859.1,595.9 859.2,596.9 C859.4,597.9 859.6,598.9 859.7,599.9 C859.9,600.9 860.0,601.9 860.2,602.9 C860.3,603.9 860.4,604.9 860.6,605.9 C860.7,606.9 860.8,607.9 860.9,608.9 C861.0,609.9 861.1,610.9 861.1,611.9 C861.2,612.9 861.3,613.9 861.3,614.9 C861.4,615.9 861.5,616.9 861.5,617.9 C861.6,618.9 861.6,619.9 861.6,620.9 C861.7,621.9 861.7,622.9 861.7,623.9 C861.7,624.9 861.7,625.9 861.8,626.9 C861.8,627.9 861.8,628.9 861.8,629.9 C861.8,630.9 861.8,631.9 861.8,632.9 C861.8,633.9 861.8,634.9 861.8,635.9 C861.8,636.9 861.8,637.9 861.8,638.9 C861.8,639.9 861.8,640.9 861.7,641.9 C861.7,642.9 861.7,643.9 861.7,644.9 C861.7,645.9 861.7,646.9 861.7,648.0 C861.7,649.0 861.7,650.0 861.7,651.0 C861.8,652.0 861.8,653.0 861.8,654.0 C861.8,655.0 861.8,656.0 861.8,657.0 C861.9,658.0 861.9,659.0 861.9,660.0 C862.0,661.0 862.0,662.0 862.0,663.0 C862.1,664.0 862.1,665.0 862.2,666.0 C862.2,667.0 862.3,668.0 862.3,669.0 C862.4,670.0 862.4,671.0 862.5,672.0 C862.5,673.0 862.6,674.0 862.6,675.0 C862.7,676.0 862.8,677.0 862.8,678.0 C862.9,679.0 862.9,680.0 863.0,681.0 C863.1,682.0 863.1,683.0 863.2,684.0 C863.3,685.0 863.3,686.0 863.4,687.0 C863.5,688.0 863.5,689.0 863.6,690.0 C863.7,691.0 863.8,692.0 863.8,693.0 C863.9,694.0 864.0,695.0 864.0,696.0 C864.1,697.0 864.1,698.0 864.2,699.0 C864.3,700.0 864.3,701.0 864.4,702.0 C864.5,703.0 864.5,704.0 864.6,705.0 C864.6,706.0 864.7,707.0 864.8,708.0 C864.8,709.0 864.9,710.0 864.9,711.0 C865.0,712.0 865.0,713.0 865.0,714.0 C865.1,715.0 865.1,716.0 865.2,717.0 C865.2,718.0 865.2,719.0 865.3,720.0 C865.3,721.0 865.3,722.0 865.3,723.0 C865.4,724.0 865.4,725.0 865.4,726.0 C865.4,727.0 865.4,728.0 865.4,729.0 C865.4,730.0 865.4,731.0 865.4,732.0 C865.4,733.0 865.4,734.0 865.4,735.0 C865.4,736.0 865.4,737.0 865.3,738.0 C865.3,739.0 865.3,740.0 865.2,741.0 C865.2,742.0 865.2,743.0 865.1,744.0 C865.0,745.0 865.0,746.0 864.9,747.0 C864.9,748.0 864.8,749.0 864.7,750.0 C864.7,751.0 864.6,752.0 864.5,753.0 C864.4,754.0 864.4,755.0 864.3,756.0 C864.2,757.0 864.1,758.0 864.0,759.0 C864.0,760.0 863.9,761.0 863.8,762.0 C863.7,763.0 863.6,764.0 863.6,765.0 C863.5,766.0 863.4,767.0 863.3,768.0 C863.3,769.0 863.2,770.0 863.1,771.0 C863.1,772.0 863.0,773.0 863.0,774.0 C862.9,775.0 862.9,776.0 862.8,777.0 C862.8,778.0 862.8,779.0 862.8,780.0 C862.7,781.0 862.7,782.0 862.7,783.0 C862.7,784.0 862.7,785.0 862.7,786.0 C862.7,787.0 862.8,788.0 862.8,789.0 C862.8,790.0 862.9,791.0 863.0,792.0 C863.0,793.0 863.1,794.0 863.2,795.0 C863.2,796.0 863.3,797.0 863.4,798.0 C863.5,799.0 863.6,800.0 863.7,801.0 C863.8,802.0 863.9,803.0 864.0,804.0 C864.1,805.0 864.3,806.0 864.4,807.0 C864.5,808.0 864.6,809.0 864.7,810.0 C864.8,811.0 864.9,812.0 865.0,813.0 C865.1,814.0 865.2,815.0 865.3,816.0 C865.4,817.0 865.5,818.0 865.6,819.0 C865.7,820.1 865.8,821.1 865.8,822.1 C865.9,823.1 866.0,824.1 866.0,825.1 C866.1,826.1 866.1,827.1 866.1,828.1 C866.1,829.1 866.2,830.1 866.1,831.1 C866.1,832.1 866.1,833.1 866.1,834.1 C866.0,835.1 866.0,836.1 865.9,837.1 C865.8,838.1 865.7,839.1 865.6,840.1 C865.5,841.1 865.4,842.1 865.3,843.1 C865.1,844.1 865.0,845.1 864.8,846.1 C864.6,847.1 864.4,848.1 864.3,849.1 C864.1,850.1 863.9,851.1 863.6,852.1 C863.4,853.1 863.2,854.1 863.0,855.1 C862.7,856.1 862.5,857.1 862.3,858.1 C862.0,859.1 861.8,860.1 861.5,861.1 C861.3,862.1 861.0,863.1 860.7,864.1 C860.5,865.1 860.2,866.1 859.9,867.1 C859.7,868.1 859.4,869.1 859.2,870.1 C858.9,871.1 858.6,872.1 858.4,873.1 C858.1,874.1 857.9,875.1 857.6,876.1 C857.4,877.1 857.1,878.1 856.9,879.1 C856.6,880.1 856.4,881.1 856.2,882.1 C856.0,883.1 855.8,884.1 855.6,885.1 C855.4,886.1 855.2,887.1 855.1,888.1 C854.9,889.1 854.8,890.1 854.6,891.1 C854.5,892.1 854.3,893.1 854.2,894.1 C854.1,895.1 854.0,896.1 853.8,897.1 C853.7,898.1 853.6,899.1 853.5,900.1 C853.4,901.1 853.4,902.1 853.3,903.1 C853.3,904.1 853.2,905.6 853.2,906.1 L850.60,906.10 C850.6,905.6 850.5,904.1 850.5,903.1 C850.4,902.1 850.4,901.1 850.3,900.1 C850.2,899.1 850.1,898.1 850.0,897.1 C849.8,896.1 849.7,895.1 849.6,894.1 C849.5,893.1 849.3,892.1 849.2,891.1 C849.0,890.1 848.9,889.1 848.7,888.1 C848.6,887.1 848.4,886.1 848.2,885.1 C848.0,884.1 847.8,883.1 847.6,882.1 C847.4,881.1 847.2,880.1 846.9,879.1 C846.7,878.1 846.4,877.1 846.2,876.1 C845.9,875.1 845.7,874.1 845.4,873.1 C845.2,872.1 844.9,871.1 844.6,870.1 C844.4,869.1 844.1,868.1 843.9,867.1 C843.6,866.1 843.3,865.1 843.1,864.1 C842.8,863.1 842.5,862.1 842.3,861.1 C842.0,860.1 841.8,859.1 841.5,858.1 C841.3,857.1 841.1,856.1 840.8,855.1 C840.6,854.1 840.4,853.1 840.2,852.1 C839.9,851.1 839.7,850.1 839.5,849.1 C839.4,848.1 839.2,847.1 839.0,846.1 C838.8,845.1 838.7,844.1 838.5,843.1 C838.4,842.1 838.3,841.1 838.2,840.1 C838.1,839.1 838.0,838.1 837.9,837.1 C837.8,836.1 837.8,835.1 837.7,834.1 C837.7,833.1 837.7,832.1 837.7,831.1 C837.6,830.1 837.7,829.1 837.7,828.1 C837.7,827.1 837.7,826.1 837.8,825.1 C837.8,824.1 837.9,823.1 838.0,822.1 C838.0,821.1 838.1,820.1 838.2,819.0 C838.3,818.0 838.4,817.0 838.5,816.0 C838.6,815.0 838.7,814.0 838.8,813.0 C838.9,812.0 839.0,811.0 839.1,810.0 C839.2,809.0 839.3,808.0 839.4,807.0 C839.5,806.0 839.7,805.0 839.8,804.0 C839.9,803.0 840.0,802.0 840.1,801.0 C840.2,800.0 840.3,799.0 840.4,798.0 C840.5,797.0 840.6,796.0 840.6,795.0 C840.7,794.0 840.8,793.0 840.8,792.0 C840.9,791.0 841.0,790.0 841.0,789.0 C841.0,788.0 841.1,787.0 841.1,786.0 C841.1,785.0 841.1,784.0 841.1,783.0 C841.1,782.0 841.1,781.0 841.0,780.0 C841.0,779.0 841.0,778.0 841.0,777.0 C840.9,776.0 840.9,775.0 840.8,774.0 C840.8,773.0 840.7,772.0 840.7,771.0 C840.6,770.0 840.5,769.0 840.5,768.0 C840.4,767.0 840.3,766.0 840.2,765.0 C840.2,764.0 840.1,763.0 840.0,762.0 C839.9,761.0 839.8,760.0 839.8,759.0 C839.7,758.0 839.6,757.0 839.5,756.0 C839.4,755.0 839.4,754.0 839.3,753.0 C839.2,752.0 839.1,751.0 839.1,750.0 C839.0,749.0 838.9,748.0 838.9,747.0 C838.8,746.0 838.8,745.0 838.7,744.0 C838.6,743.0 838.6,742.0 838.6,741.0 C838.5,740.0 838.5,739.0 838.5,738.0 C838.4,737.0 838.4,736.0 838.4,735.0 C838.4,734.0 838.4,733.0 838.4,732.0 C838.4,731.0 838.4,730.0 838.4,729.0 C838.4,728.0 838.4,727.0 838.4,726.0 C838.4,725.0 838.4,724.0 838.5,723.0 C838.5,722.0 838.5,721.0 838.5,720.0 C838.6,719.0 838.6,718.0 838.6,717.0 C838.7,716.0 838.7,715.0 838.8,714.0 C838.8,713.0 838.8,712.0 838.9,711.0 C838.9,710.0 839.0,709.0 839.0,708.0 C839.1,707.0 839.2,706.0 839.2,705.0 C839.3,704.0 839.3,703.0 839.4,702.0 C839.5,701.0 839.5,700.0 839.6,699.0 C839.7,698.0 839.7,697.0 839.8,696.0 C839.8,695.0 839.9,694.0 840.0,693.0 C840.0,692.0 840.1,691.0 840.2,690.0 C840.3,689.0 840.3,688.0 840.4,687.0 C840.5,686.0 840.5,685.0 840.6,684.0 C840.7,683.0 840.7,682.0 840.8,681.0 C840.9,680.0 840.9,679.0 841.0,678.0 C841.0,677.0 841.1,676.0 841.2,675.0 C841.2,674.0 841.3,673.0 841.3,672.0 C841.4,671.0 841.4,670.0 841.5,669.0 C841.5,668.0 841.6,667.0 841.6,666.0 C841.7,665.0 841.7,664.0 841.8,663.0 C841.8,662.0 841.8,661.0 841.9,660.0 C841.9,659.0 841.9,658.0 842.0,657.0 C842.0,656.0 842.0,655.0 842.0,654.0 C842.0,653.0 842.0,652.0 842.1,651.0 C842.1,650.0 842.1,649.0 842.1,648.0 C842.1,646.9 842.1,645.9 842.1,644.9 C842.1,643.9 842.1,642.9 842.1,641.9 C842.0,640.9 842.0,639.9 842.0,638.9 C842.0,637.9 842.0,636.9 842.0,635.9 C842.0,634.9 842.0,633.9 842.0,632.9 C842.0,631.9 842.0,630.9 842.0,629.9 C842.0,628.9 842.0,627.9 842.0,626.9 C842.1,625.9 842.1,624.9 842.1,623.9 C842.1,622.9 842.1,621.9 842.2,620.9 C842.2,619.9 842.2,618.9 842.3,617.9 C842.3,616.9 842.4,615.9 842.5,614.9 C842.5,613.9 842.6,612.9 842.7,611.9 C842.7,610.9 842.8,609.9 842.9,608.9 C843.0,607.9 843.1,606.9 843.2,605.9 C843.4,604.9 843.5,603.9 843.6,602.9 C843.8,601.9 843.9,600.9 844.1,599.9 C844.2,598.9 844.4,597.9 844.6,596.9 C844.7,595.9 844.9,594.9 845.1,593.9 C845.3,592.9 845.4,591.9 845.6,590.9 C845.8,589.9 846.0,588.9 846.2,587.9 C846.4,586.9 846.6,585.9 846.8,584.9 C847.0,583.9 847.2,582.9 847.4,581.9 C847.5,580.9 847.7,579.9 847.9,578.9 C848.0,577.9 848.2,576.9 848.4,575.9 C848.5,574.9 848.7,573.9 848.8,572.9 C849.0,571.9 849.1,570.9 849.2,569.9 C849.3,568.9 849.5,567.9 849.6,566.9 C849.7,565.9 849.8,564.9 849.9,563.9 C850.0,562.9 850.0,561.4 850.0,560.9 Z" fill="#d6bba3" stroke="#6f6f6f" stroke-width="1.85" stroke-linejoin="round"/>
<ellipse cx="851.9" cy="628.4" rx="3.0" ry="2.05" fill="#6a6a6a"/>
<ellipse cx="851.9" cy="713.6" rx="3.0" ry="2.05" fill="#6a6a6a"/>
<ellipse cx="851.9" cy="717.4" rx="3.0" ry="2.05" fill="#6a6a6a"/>
<ellipse cx="851.9" cy="743.4" rx="3.0" ry="2.05" fill="#6a6a6a"/>
<ellipse cx="851.9" cy="811.4" rx="3.0" ry="2.05" fill="#6a6a6a"/>
<ellipse cx="851.9" cy="833.2" rx="3.0" ry="2.05" fill="#6a6a6a"/>
<ellipse cx="851.9" cy="838.9" rx="3.0" ry="2.05" fill="#6a6a6a"/>
<ellipse cx="851.9" cy="752.2" rx="8.5" ry="5.6" fill="#fff" stroke="#000" stroke-width="1.6"/>
<path d="M984.30,625.40 C984.5,625.9 985.3,627.4 985.7,628.4 C986.1,629.4 986.5,630.4 986.9,631.4 C987.3,632.4 987.5,633.5 987.9,634.5 C988.3,635.5 988.7,636.5 989.1,637.5 C989.5,638.5 989.9,639.5 990.4,640.5 C990.8,641.5 991.4,642.5 991.9,643.5 C992.3,644.5 992.8,645.5 993.3,646.5 C993.8,647.6 994.3,648.6 994.8,649.6 C995.3,650.6 995.8,651.6 996.3,652.6 C996.8,653.6 997.3,654.6 997.8,655.6 C998.3,656.6 998.8,657.6 999.3,658.6 C999.7,659.6 1000.2,660.6 1000.7,661.7 C1001.1,662.7 1001.6,663.7 1002.0,664.7 C1002.5,665.7 1002.9,666.7 1003.3,667.7 C1003.6,668.7 1004.0,669.7 1004.4,670.7 C1004.7,671.7 1005.0,672.7 1005.3,673.7 C1005.6,674.7 1005.9,675.8 1006.1,676.8 C1006.3,677.8 1006.5,678.8 1006.6,679.8 C1006.8,680.8 1006.9,681.8 1007.0,682.8 C1007.1,683.8 1007.1,684.8 1007.1,685.8 C1007.0,686.8 1007.0,687.8 1006.9,688.8 C1006.8,689.9 1006.7,690.9 1006.5,691.9 C1006.3,692.9 1006.1,693.9 1005.9,694.9 C1005.7,695.9 1005.4,696.9 1005.1,697.9 C1004.9,698.9 1004.5,699.9 1004.2,700.9 C1003.9,701.9 1003.6,702.9 1003.2,704.0 C1002.8,705.0 1002.5,706.0 1002.1,707.0 C1001.7,708.0 1001.3,709.0 1000.9,710.0 C1000.5,711.0 1000.1,712.0 999.7,713.0 C999.3,714.0 998.9,715.0 998.5,716.0 C998.1,717.0 997.7,718.1 997.3,719.1 C996.9,720.1 996.5,721.1 996.2,722.1 C995.8,723.1 995.5,724.1 995.1,725.1 C994.8,726.1 994.5,727.1 994.2,728.1 C993.9,729.1 993.6,730.1 993.3,731.1 C993.1,732.2 992.9,733.2 992.7,734.2 C992.5,735.2 992.3,736.2 992.2,737.2 C992.1,738.2 992.0,739.2 991.9,740.2 C991.9,741.2 991.9,742.2 991.9,743.2 C991.9,744.2 992.0,745.2 992.1,746.3 C992.2,747.3 992.4,748.3 992.6,749.3 C992.8,750.3 993.0,751.3 993.3,752.3 C993.6,753.3 993.9,754.3 994.3,755.3 C994.6,756.3 995.0,757.3 995.5,758.3 C995.9,759.3 996.4,760.4 996.9,761.4 C997.3,762.4 997.9,763.4 998.4,764.4 C998.9,765.4 999.4,766.4 1000.0,767.4 C1000.5,768.4 1001.1,769.4 1001.6,770.4 C1002.1,771.4 1002.7,772.4 1003.2,773.4 C1003.7,774.5 1004.2,775.5 1004.7,776.5 C1005.2,777.5 1005.6,778.5 1006.1,779.5 C1006.5,780.5 1006.9,781.5 1007.3,782.5 C1007.7,783.5 1008.1,784.5 1008.4,785.5 C1008.7,786.5 1009.0,787.5 1009.2,788.6 C1009.4,789.6 1009.6,790.6 1009.7,791.6 C1009.9,792.6 1010.0,793.6 1010.0,794.6 C1010.0,795.6 1010.0,796.6 1009.9,797.6 C1009.8,798.6 1009.6,799.6 1009.4,800.6 C1009.2,801.6 1008.9,802.7 1008.6,803.7 C1008.2,804.7 1007.8,805.7 1007.4,806.7 C1006.9,807.7 1006.4,808.7 1005.9,809.7 C1005.4,810.7 1004.8,811.7 1004.2,812.7 C1003.6,813.7 1003.0,814.7 1002.3,815.7 C1001.7,816.8 1001.0,817.8 1000.3,818.8 C999.6,819.8 998.9,820.8 998.2,821.8 C997.6,822.8 996.8,823.8 996.1,824.8 C995.5,825.8 994.7,826.8 994.1,827.8 C993.4,828.8 992.7,829.8 992.1,830.9 C991.4,831.9 990.8,832.9 990.2,833.9 C989.7,834.9 989.1,835.9 988.6,836.9 C988.1,837.9 987.7,838.9 987.3,839.9 C986.9,840.9 986.6,841.9 986.3,842.9 C986.0,843.9 985.8,845.0 985.6,846.0 C985.4,847.0 985.2,848.0 985.0,849.0 C984.8,850.0 984.6,851.5 984.5,852.0 L981.70,852.00 C981.6,851.5 981.4,850.0 981.2,849.0 C981.0,848.0 980.8,847.0 980.6,846.0 C980.4,845.0 980.2,843.9 979.9,842.9 C979.6,841.9 979.3,840.9 978.9,839.9 C978.5,838.9 978.1,837.9 977.6,836.9 C977.1,835.9 976.5,834.9 976.0,833.9 C975.4,832.9 974.8,831.9 974.1,830.9 C973.5,829.8 972.8,828.8 972.1,827.8 C971.5,826.8 970.7,825.8 970.1,824.8 C969.4,823.8 968.6,822.8 968.0,821.8 C967.3,820.8 966.6,819.8 965.9,818.8 C965.2,817.8 964.5,816.8 963.9,815.7 C963.2,814.7 962.6,813.7 962.0,812.7 C961.4,811.7 960.8,810.7 960.3,809.7 C959.8,808.7 959.3,807.7 958.8,806.7 C958.4,805.7 958.0,804.7 957.6,803.7 C957.3,802.7 957.0,801.6 956.8,800.6 C956.6,799.6 956.4,798.6 956.3,797.6 C956.2,796.6 956.2,795.6 956.2,794.6 C956.2,793.6 956.3,792.6 956.5,791.6 C956.6,790.6 956.8,789.6 957.0,788.6 C957.2,787.5 957.5,786.5 957.8,785.5 C958.1,784.5 958.5,783.5 958.9,782.5 C959.3,781.5 959.7,780.5 960.1,779.5 C960.6,778.5 961.0,777.5 961.5,776.5 C962.0,775.5 962.5,774.5 963.0,773.4 C963.5,772.4 964.1,771.4 964.6,770.4 C965.1,769.4 965.7,768.4 966.2,767.4 C966.8,766.4 967.3,765.4 967.8,764.4 C968.3,763.4 968.9,762.4 969.3,761.4 C969.8,760.4 970.3,759.3 970.7,758.3 C971.2,757.3 971.6,756.3 971.9,755.3 C972.3,754.3 972.6,753.3 972.9,752.3 C973.2,751.3 973.4,750.3 973.6,749.3 C973.8,748.3 974.0,747.3 974.1,746.3 C974.2,745.2 974.3,744.2 974.3,743.2 C974.3,742.2 974.3,741.2 974.3,740.2 C974.2,739.2 974.1,738.2 974.0,737.2 C973.9,736.2 973.7,735.2 973.5,734.2 C973.3,733.2 973.1,732.2 972.9,731.1 C972.6,730.1 972.3,729.1 972.0,728.1 C971.7,727.1 971.4,726.1 971.1,725.1 C970.7,724.1 970.4,723.1 970.0,722.1 C969.7,721.1 969.3,720.1 968.9,719.1 C968.5,718.1 968.1,717.0 967.7,716.0 C967.3,715.0 966.9,714.0 966.5,713.0 C966.1,712.0 965.7,711.0 965.3,710.0 C964.9,709.0 964.5,708.0 964.1,707.0 C963.7,706.0 963.4,705.0 963.0,704.0 C962.6,702.9 962.3,701.9 962.0,700.9 C961.7,699.9 961.3,698.9 961.1,697.9 C960.8,696.9 960.5,695.9 960.3,694.9 C960.1,693.9 959.9,692.9 959.7,691.9 C959.5,690.9 959.4,689.9 959.3,688.8 C959.2,687.8 959.2,686.8 959.1,685.8 C959.1,684.8 959.1,683.8 959.2,682.8 C959.3,681.8 959.4,680.8 959.6,679.8 C959.7,678.8 959.9,677.8 960.1,676.8 C960.3,675.8 960.6,674.7 960.9,673.7 C961.2,672.7 961.5,671.7 961.8,670.7 C962.2,669.7 962.6,668.7 962.9,667.7 C963.3,666.7 963.7,665.7 964.2,664.7 C964.6,663.7 965.1,662.7 965.5,661.7 C966.0,660.6 966.5,659.6 966.9,658.6 C967.4,657.6 967.9,656.6 968.4,655.6 C968.9,654.6 969.4,653.6 969.9,652.6 C970.4,651.6 970.9,650.6 971.4,649.6 C971.9,648.6 972.4,647.6 972.9,646.5 C973.4,645.5 973.9,644.5 974.3,643.5 C974.8,642.5 975.4,641.5 975.8,640.5 C976.3,639.5 976.7,638.5 977.1,637.5 C977.5,636.5 977.9,635.5 978.3,634.5 C978.7,633.5 978.9,632.4 979.3,631.4 C979.7,630.4 980.1,629.4 980.5,628.4 C980.9,627.4 981.7,625.9 981.9,625.4 Z" fill="#efb792" stroke="#6f6f6f" stroke-width="1.85" stroke-linejoin="round"/>
<ellipse cx="983.1" cy="671.4" rx="3.0" ry="2.05" fill="#6a6a6a"/>
<ellipse cx="983.1" cy="679.8" rx="3.0" ry="2.05" fill="#6a6a6a"/>
<ellipse cx="983.1" cy="699.8" rx="3.0" ry="2.05" fill="#6a6a6a"/>
<ellipse cx="983.1" cy="714.6" rx="3.0" ry="2.05" fill="#6a6a6a"/>
<ellipse cx="983.1" cy="778.5" rx="3.0" ry="2.05" fill="#6a6a6a"/>
<ellipse cx="983.1" cy="790.1" rx="3.0" ry="2.05" fill="#6a6a6a"/>
<ellipse cx="983.1" cy="800.7" rx="3.0" ry="2.05" fill="#6a6a6a"/>
<ellipse cx="983.1" cy="806.1" rx="3.0" ry="2.05" fill="#6a6a6a"/>
<ellipse cx="983.1" cy="758.6" rx="8.5" ry="5.6" fill="#fff" stroke="#000" stroke-width="1.6"/>
<g fill="none" stroke-linecap="square">
<line x1="86.4" y1="542.2" x2="86.4" y2="960.4" stroke="#222" stroke-width="1.4"/>
<line x1="86.4" y1="542.2" x2="1054.2" y2="542.2" stroke="#222" stroke-width="1.5"/>
<line x1="1054.2" y1="542.2" x2="1054.2" y2="960.4" stroke="#222" stroke-width="1.5"/>
<line x1="86.4" y1="960.4" x2="1054.2" y2="960.4" stroke="#111" stroke-width="1.5"/>
<line x1="81.8" y1="583.85" x2="86.4" y2="583.85" stroke="#333" stroke-width="1.3"/>
<line x1="81.8" y1="633.40" x2="86.4" y2="633.40" stroke="#333" stroke-width="1.3"/>
<line x1="81.8" y1="682.95" x2="86.4" y2="682.95" stroke="#333" stroke-width="1.3"/>
<line x1="81.8" y1="732.50" x2="86.4" y2="732.50" stroke="#333" stroke-width="1.3"/>
<line x1="81.8" y1="782.05" x2="86.4" y2="782.05" stroke="#333" stroke-width="1.3"/>
<line x1="81.8" y1="831.60" x2="86.4" y2="831.60" stroke="#333" stroke-width="1.3"/>
<line x1="81.8" y1="881.15" x2="86.4" y2="881.15" stroke="#333" stroke-width="1.3"/>
<line x1="81.8" y1="930.70" x2="86.4" y2="930.70" stroke="#333" stroke-width="1.3"/>
<line x1="589.3" y1="960.4" x2="589.3" y2="962" stroke="#333" stroke-width="1.3"/>
</g>
<text transform="translate(75.5,591.30) scale(1,1.07)" font-size="21.1" text-anchor="end">1.0</text>
<text transform="translate(75.5,640.85) scale(1,1.07)" font-size="21.1" text-anchor="end">0.8</text>
<text transform="translate(75.5,690.40) scale(1,1.07)" font-size="21.1" text-anchor="end">0.6</text>
<text transform="translate(75.5,739.95) scale(1,1.07)" font-size="21.1" text-anchor="end">0.4</text>
<text transform="translate(75.5,789.50) scale(1,1.07)" font-size="21.1" text-anchor="end">0.2</text>
<text transform="translate(75.5,839.05) scale(1,1.07)" font-size="21.1" text-anchor="end">0.0</text>
<text transform="translate(75.5,888.60) scale(1,1.07)" font-size="21.1" text-anchor="end">-0.2</text>
<text transform="translate(75.5,938.15) scale(1,1.07)" font-size="21.1" text-anchor="end">-0.4</text>
<text transform="translate(561.2,535.6) scale(1,1.07)" font-size="21.1" text-anchor="middle">LeadOpt</text>
<text transform="translate(587,987.7) scale(1,1.07)" font-size="21.1" text-anchor="middle">Method</text>
<text transform="translate(30,769.4) rotate(-90) scale(1,1.07)" x="0" y="0" font-size="21.1" text-anchor="middle">Spearman's R</text>
<text transform="translate(-0.8,533) scale(1,1.07)" font-size="21" font-weight="bold">b</text>
<text transform="translate(587,1023.7) scale(1,1.07)" font-size="21.1" text-anchor="middle">Method</text>
<rect x="453.9" y="1041.5" width="58.4" height="22" rx="4" fill="#abc9ea"/>
<text transform="translate(543.8,1058.7) scale(1,1.07)" font-size="21.1">EquiScore</text>
<rect x="74" y="1081" width="359" height="133" rx="20" fill="#dfe9f5"/>
<text transform="translate(267.4,1104) scale(1,1.07)" font-size="21.1" text-anchor="middle">Data Ablations</text>
<rect x="98.8" y="1115.4" width="59.1" height="22.9" rx="4" fill="#d3c4f6"/>
<text transform="translate(167,1135.7) scale(1,1.07)" font-size="21.1">Without RMSD &lt; 2Å pose</text>
<rect x="98.8" y="1172.3" width="59.1" height="22.5" rx="4" fill="#f1b9e0"/>
<text transform="translate(165.2,1192.6) scale(1,1.07)" font-size="21.1">Without Generated decoy</text>
<rect x="446.1" y="1081.5" width="585.4" height="131" rx="20" fill="#ececec"/>
<text transform="translate(731.8,1104.8) scale(1,1.07)" font-size="21.1" text-anchor="middle">Model Ablations</text>
<rect x="453.3" y="1114" width="58.5" height="22" rx="4" fill="#cfcfcf"/>
<text transform="translate(518.5,1133) scale(1,1.07)" font-size="21.1">Without Distance gate</text>
<rect x="453.3" y="1168.4" width="58.5" height="23.2" rx="4" fill="#98daa7"/>
<text transform="translate(517.9,1190.6) scale(1,1.07)" font-size="21.1">Without Equivariance</text>
<rect x="748.7" y="1118.5" width="59.1" height="22.7" rx="4" fill="#efb792"/>
<text transform="translate(815.4,1124.5) scale(1,1.07)" font-size="21.1">Without IFP edge and</text>
<text transform="translate(820.8,1149.4) scale(1,1.07)" font-size="21.1">virtual aromatic node</text>
<rect x="748.7" y="1168.5" width="59.1" height="22.7" rx="4" fill="#d6bba3"/>
<text transform="translate(815.4,1187.6) scale(1,1.07)" font-size="21.1">Without Covalent edge</text>
<rect transform="translate(79.5,292.95) scale(1,1.07)" x="-22.87" y="-2.68" width="4.60" height="3.58" fill="#fff"/>
<rect transform="translate(79.5,292.95) scale(1,1.07)" x="-16.21" y="-2.68" width="4.43" height="3.58" fill="#fff"/>
<rect transform="translate(79.5,292.95) scale(1,1.07)" x="-22.87" y="0.25" width="11.10" height="0.80" fill="#fff"/>
<rect transform="translate(78.1,462.95) scale(1,1.07)" x="-22.87" y="-2.68" width="4.60" height="3.58" fill="#fff"/>
<rect transform="translate(78.1,462.95) scale(1,1.07)" x="-16.21" y="-2.68" width="4.43" height="3.58" fill="#fff"/>
<rect transform="translate(78.1,462.95) scale(1,1.07)" x="-22.87" y="0.25" width="11.10" height="0.80" fill="#fff"/>
<rect transform="translate(34.7,268) rotate(-90) scale(1,1.07)" x="49.24" y="-2.68" width="4.60" height="3.58" fill="#fff"/>
<rect transform="translate(34.7,268) rotate(-90) scale(1,1.07)" x="55.91" y="-2.68" width="4.43" height="3.58" fill="#fff"/>
<rect transform="translate(34.7,268) rotate(-90) scale(1,1.07)" x="49.24" y="0.25" width="11.10" height="0.80" fill="#fff"/>
<rect transform="translate(75.5,591.30) scale(1,1.07)" x="-28.72" y="-2.68" width="4.60" height="3.58" fill="#fff"/>
<rect transform="translate(75.5,591.30) scale(1,1.07)" x="-22.06" y="-2.68" width="4.43" height="3.58" fill="#fff"/>
<rect transform="translate(75.5,591.30) scale(1,1.07)" x="-28.72" y="0.25" width="11.10" height="0.80" fill="#fff"/>
</svg></body></html>
